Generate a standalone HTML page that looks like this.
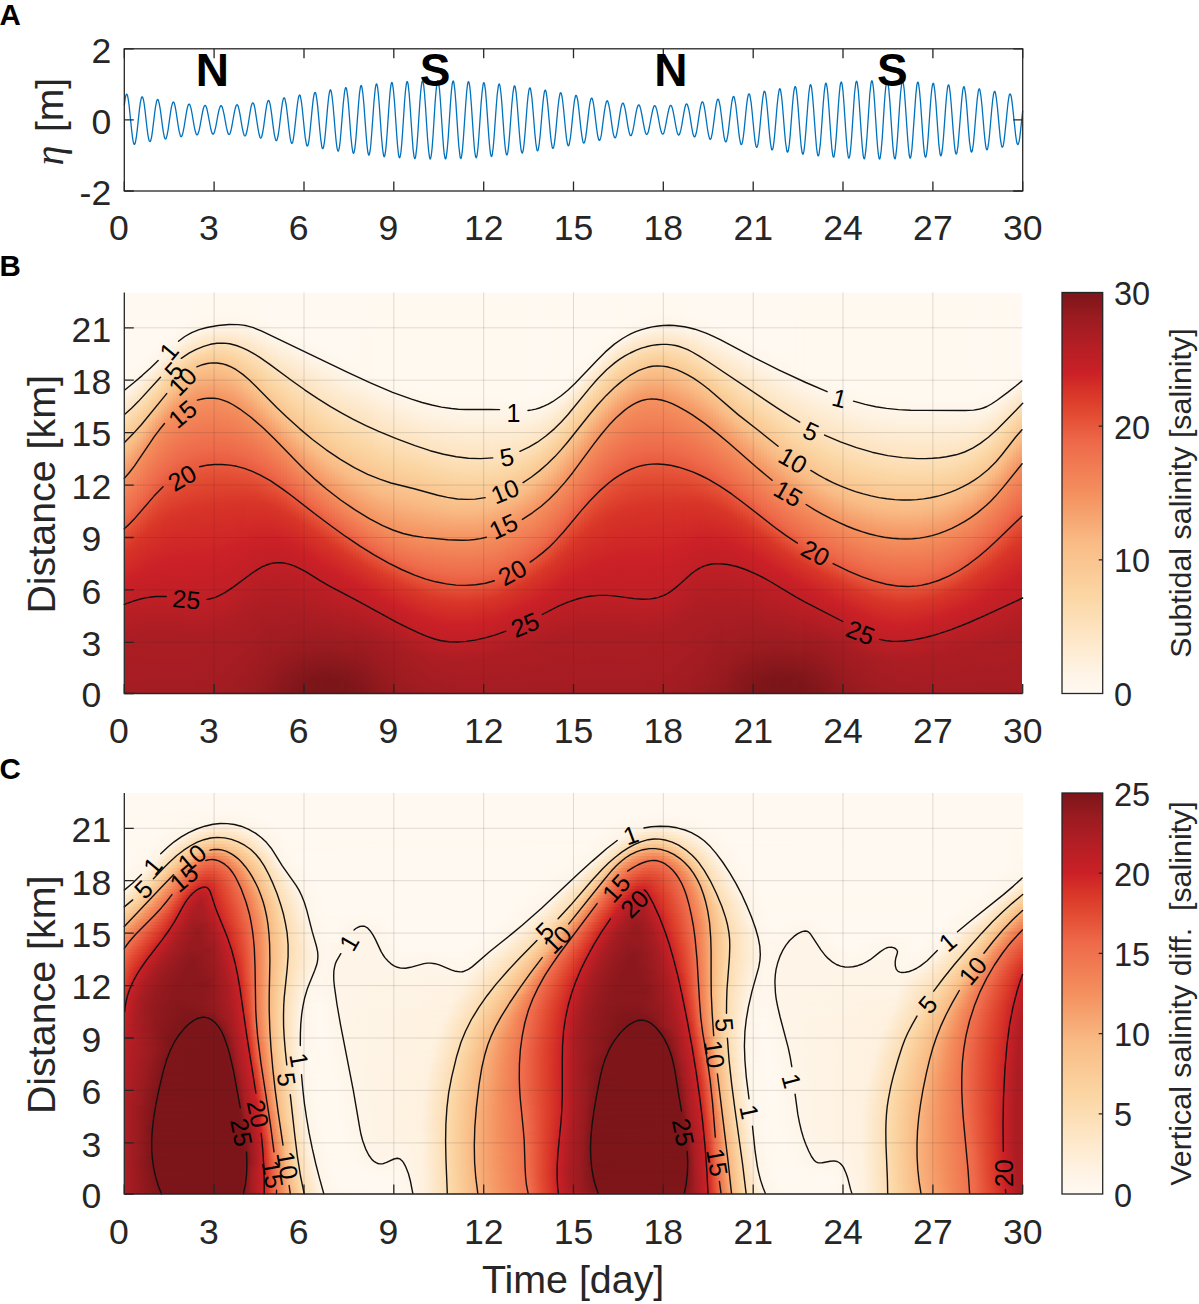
<!DOCTYPE html>
<html><head><meta charset="utf-8"><title>Figure</title>
<style>
html,body{margin:0;padding:0;background:#fff}
body{width:1199px;height:1304px;position:relative;overflow:hidden;font-family:"Liberation Sans",sans-serif}
svg{position:absolute;left:0;top:0}
svg text{font-family:"Liberation Sans",sans-serif}
.hb{position:absolute;left:125.3px;top:293.0px;width:897.4px;height:400.5px;display:flex;overflow:hidden}.hb i{flex:0 0 3px;height:100%}
.hc{position:absolute;left:125.3px;top:793.0px;width:897.4px;height:401.0px;overflow:hidden}.hc i{display:block;height:3px;width:100%}
.cb{position:absolute;left:1062.0px;width:40.7px;background:linear-gradient(#7c1519 0.00%,#9a1b20 6.00%,#b21e24 12.50%,#cb2027 20.00%,#d93628 25.00%,#e24a32 30.00%,#ee6a4a 37.50%,#f4905e 50.00%,#f9bc86 62.50%,#fbd5a2 75.00%,#fee9cc 87.50%,#fef4e6 95.00%,#fff9f1 100.00%)}
</style></head><body>
<div class="hb"><i style="background:linear-gradient(#fff9f1 0.1%,#fff9f1 19.8%,#fef6eb 23.3%,#fef3e4 24.8%,#fbd5a2 33.3%,#f9bc86 39%,#f4915f 45.5%,#ee694a 55.2%,#e24a32 60.5%,#d93628 64%,#cb2027 71.9%,#ab1d23 85.7%,#a41c22 99.9%)"></i><i style="background:linear-gradient(#fff9f1 0.1%,#fff9f1 19.3%,#fef4e6 24.1%,#fbd4a1 32.8%,#f9bc86 38.3%,#f4915f 44.8%,#ee6a4a 54.5%,#e24a32 60%,#d93728 63.2%,#cb2027 71.7%,#ac1d23 85.4%,#a41c22 99.9%)"></i><i style="background:linear-gradient(#fff9f1 0.1%,#fff9f1 18.8%,#fef6eb 22.1%,#fef3e5 23.6%,#fbd4a1 32%,#f9bd87 37.3%,#f4915f 43.8%,#ee6a4a 53.5%,#e24a32 59.2%,#d93628 62.7%,#cb2027 71.2%,#ac1d23 85.2%,#a41c22 99.9%)"></i><i style="background:linear-gradient(#fff9f1 0.1%,#fff9f1 18.1%,#fef4e5 22.8%,#fbd5a3 31%,#f9bc86 36.5%,#f4915f 42.8%,#ee6a4a 52.7%,#e24a32 58.5%,#d93728 62%,#cb2027 70.7%,#ab1d23 85.2%,#a41c22 99.9%)"></i><i style="background:linear-gradient(#fff9f1 0.1%,#fff9f1 17.6%,#fef6eb 20.8%,#fef3e4 22.3%,#fbd5a3 30.3%,#f9bd87 35.5%,#f4915f 41.8%,#ee6a4a 51.7%,#e24a32 57.7%,#d93628 61.5%,#cb2027 70.4%,#ac1d23 84.9%,#a41c22 99.9%)"></i><i style="background:linear-gradient(#fff9f1 0.1%,#fff9f1 16.8%,#fef6eb 20.1%,#fef4e5 21.6%,#fbd5a2 29.6%,#f9bc86 34.8%,#f4905e 40.8%,#ee6a4a 51%,#e24932 57%,#d93628 60.7%,#cb2027 70%,#c01f26 76.4%,#ab1d23 84.9%,#a41c22 99.9%)"></i><i style="background:linear-gradient(#fff9f1 0.1%,#fff9f1 16.1%,#fff7ec 19.1%,#fef4e5 20.8%,#fbd4a1 28.8%,#f9bc86 33.8%,#f4915f 39.5%,#ee6a4a 50%,#e24b32 56%,#d93728 60%,#cb2027 69.7%,#c01f26 76.2%,#ac1d23 84.7%,#a41c22 99.9%)"></i><i style="background:linear-gradient(#fff9f1 0.1%,#fff9f1 15.6%,#fef4e6 20.1%,#fbd5a2 27.8%,#f9bc86 32.8%,#f4905e 38.5%,#ee6a4a 49%,#e24a32 55.2%,#d93728 59.2%,#cb2027 69.2%,#bf1f26 76.2%,#ab1d23 84.7%,#a41c22 99.9%)"></i><i style="background:linear-gradient(#fff9f1 0.1%,#fff9f1 14.8%,#fef4e6 19.3%,#fbd6a3 26.8%,#f9bc86 31.8%,#f4915f 37.3%,#ee6a4a 48%,#e24a32 54.5%,#da3729 58.5%,#cb2027 69%,#c01f26 75.9%,#ab1d23 84.7%,#a41c22 99.9%)"></i><i style="background:linear-gradient(#fff9f1 0.1%,#fff9f1 14.1%,#fef4e6 18.6%,#fbd5a2 26.1%,#f9bd87 30.8%,#f4915f 36.3%,#ee6a4a 47.3%,#e24a32 53.7%,#da3829 57.7%,#cb2027 68.7%,#c01f26 75.9%,#ab1d23 84.7%,#a41c22 99.9%)"></i><i style="background:linear-gradient(#fff9f1 0.1%,#fff9f1 13.3%,#fef4e6 17.8%,#fbd6a3 25.1%,#f9bd87 29.8%,#f4905e 35.3%,#ee6a4a 46.3%,#e24a32 53%,#da3829 57%,#cb2027 68.5%,#bf1f26 75.9%,#ab1d23 84.7%,#a41c22 99.9%)"></i><i style="background:linear-gradient(#fff9f1 0.1%,#fff9f1 12.6%,#fef4e6 17.1%,#fbd5a2 24.3%,#f9bc86 29.1%,#f4915e 34.3%,#ee6a4a 45.5%,#e24a32 52.2%,#da3929 56.2%,#cb2027 68.2%,#bf1f26 75.9%,#ab1d23 84.7%,#a41c22 99.9%)"></i><i style="background:linear-gradient(#fff9f1 0.1%,#fff9f1 12.1%,#fef4e6 16.3%,#fbd4a1 23.6%,#f9bc86 28.1%,#f4915f 33.3%,#ee6a4a 44.8%,#e24b33 51.5%,#db3a2a 55.5%,#d73328 57.5%,#cb2027 68%,#bf1f26 75.9%,#ab1d23 84.7%,#a41c22 99.9%)"></i><i style="background:linear-gradient(#fff9f1 0.1%,#fff9f1 11.3%,#fef4e6 15.6%,#fbd5a3 22.6%,#f9bd87 27.1%,#f4905e 32.5%,#ee6a4a 44%,#e24932 51.2%,#d83428 56.7%,#cb2027 67.7%,#bf1f26 75.9%,#ab1d23 84.7%,#a41c22 99.9%)"></i><i style="background:linear-gradient(#fff9f1 0.1%,#fff9f1 10.6%,#fef4e6 14.8%,#fbd5a2 21.8%,#f9bc86 26.3%,#f4905e 31.8%,#ee6a4a 43.3%,#e24932 50.7%,#d83428 56.2%,#cb2027 67.5%,#c01f26 75.9%,#ab1d23 84.7%,#a41c22 99.9%)"></i><i style="background:linear-gradient(#fff9f1 0.1%,#fff9f0 10.1%,#fef6ea 13.1%,#fef3e4 14.3%,#fbd5a2 21.1%,#f9bb86 25.6%,#f4905e 31%,#ee6a4a 42.8%,#e24932 50.2%,#d83428 55.7%,#cb2027 67.5%,#c01f26 75.9%,#ab1d23 84.7%,#a41c22 99.9%)"></i><i style="background:linear-gradient(#fff9f1 0.1%,#fff9f1 9.4%,#fef6eb 12.3%,#fef4e5 13.6%,#fbd5a2 20.3%,#f9bb85 24.8%,#f4905e 30.3%,#ee6a4a 42%,#e24932 49.8%,#d83428 55.5%,#cb2027 67.2%,#c01f26 75.9%,#ab1d23 84.7%,#a41c22 99.9%)"></i><i style="background:linear-gradient(#fff9f1 0.1%,#fff9f1 8.6%,#fef4e6 12.8%,#fde3c0 16.8%,#fbd5a2 19.6%,#f9bb85 24.1%,#f4915f 29.6%,#ee6a4a 41.5%,#e24a32 49.3%,#d83428 55.2%,#cb2027 67.2%,#c01f26 76.2%,#ab1d23 84.7%,#a41c22 99.9%)"></i><i style="background:linear-gradient(#fff9f1 0.1%,#fff9f1 8.1%,#fef4e5 12.3%,#fde3bf 16.3%,#fbd4a1 19.1%,#f9bb86 23.3%,#f4915e 29.1%,#ee6a4a 41%,#e24932 49%,#d83428 55%,#cb2027 67.2%,#c01f26 76.2%,#ab1d23 84.9%,#a41c22 99.9%)"></i><i style="background:linear-gradient(#fff9f1 0.1%,#fff9f1 7.6%,#fef6eb 10.6%,#fef4e5 11.8%,#fde3bf 15.8%,#fbd5a2 18.3%,#fac691 20.6%,#f9bc86 22.6%,#f4905e 28.6%,#ee6a4a 40.8%,#e24a32 48.5%,#d83428 54.7%,#cb2027 67.2%,#c01f26 76.2%,#ab1d23 84.9%,#a41c22 99.9%)"></i><i style="background:linear-gradient(#fff9f1 0.1%,#fff9f1 7.1%,#fef4e7 11.1%,#fde3bf 15.3%,#fbd5a1 17.8%,#facd99 18.8%,#f9bc86 22.1%,#f4915f 28.1%,#ee6a4a 40.3%,#e24a32 48.3%,#d83428 54.5%,#cb2027 67.2%,#c01f26 76.4%,#ab1d23 84.9%,#a41c22 99.9%)"></i><i style="background:linear-gradient(#fff9f1 0.1%,#fff9f1 6.6%,#fef5e7 10.6%,#fde2bd 15.1%,#fbd5a2 17.3%,#facb97 18.6%,#f9bc86 21.6%,#f4905e 27.8%,#ee6a4a 40%,#e24a32 48%,#d83428 54.2%,#cb2027 67%,#c01f26 76.4%,#ab1d23 85.2%,#a41c22 99.9%)"></i><i style="background:linear-gradient(#fff9f1 0.1%,#fff9f1 6.4%,#fef4e6 10.3%,#fde2be 14.6%,#fbd5a2 16.8%,#faca96 18.3%,#f9bc86 21.1%,#f4915f 27.3%,#ee6a4a 39.8%,#e24a32 47.8%,#d83428 54%,#cb2027 67%,#c01f26 76.4%,#ab1d23 85.2%,#a41c22 99.9%)"></i><i style="background:linear-gradient(#fff9f1 0.1%,#fff9f0 6.1%,#fef4e6 10.1%,#fde1bc 14.3%,#fbd6a3 16.3%,#facb96 17.8%,#f9bb85 20.8%,#f4905e 27.1%,#ee6a4a 39.5%,#e24a32 47.5%,#d83428 54%,#cb2027 67%,#c01f26 76.7%,#ab1d23 85.2%,#a31c22 99.9%)"></i><i style="background:linear-gradient(#fff9f1 0.1%,#fff9f0 5.9%,#fef5e7 9.6%,#fde2be 13.8%,#fbd5a2 16.1%,#faca96 17.6%,#f9bb85 20.6%,#f4905e 26.8%,#ee6a4a 39.3%,#e24a32 47.3%,#d83428 53.7%,#cb2027 67%,#c01f26 76.7%,#ab1d23 85.2%,#a31c22 99.9%)"></i><i style="background:linear-gradient(#fff9f1 0.1%,#fff9f1 5.6%,#fef5e7 9.4%,#fde2bd 13.6%,#fbd5a2 15.8%,#faca96 17.3%,#f9bb85 20.3%,#f4915f 26.6%,#ee6a4a 39%,#e24a32 47.3%,#d83428 53.7%,#cb2027 67%,#c01f26 76.7%,#ab1d23 85.2%,#a31c22 99.9%)"></i><i style="background:linear-gradient(#fff9f1 0.1%,#fff9f1 5.4%,#fef4e6 9.4%,#fde2bd 13.3%,#fbd5a2 15.6%,#faca96 17.1%,#f9bb86 20.1%,#f4905e 26.6%,#ee6a4a 39%,#e24a32 47%,#d83428 53.5%,#cb2027 66.7%,#c01f26 76.4%,#ab1d23 85.2%,#a31c21 99.9%)"></i><i style="background:linear-gradient(#fff9f1 0.1%,#fff9f0 5.4%,#fef4e7 9.1%,#fde2be 13.1%,#fbd5a3 15.3%,#facb96 16.8%,#f9bc86 19.8%,#f4915f 26.3%,#ee6a4a 38.8%,#e24a32 47%,#d83428 53.5%,#cb2027 66.7%,#c01f26 76.4%,#ab1d23 85.2%,#a31c21 99.9%)"></i><i style="background:linear-gradient(#fff9f1 0.1%,#fff9f0 5.1%,#fef5e7 8.9%,#fde4c1 12.6%,#fbd4a1 15.3%,#faca96 16.8%,#f9bc86 19.8%,#f4915f 26.3%,#ee6a4a 38.8%,#e24a32 46.8%,#d83428 53.2%,#cb2027 66.7%,#c01f26 76.2%,#ab1d23 84.9%,#a31c21 99.9%)"></i><i style="background:linear-gradient(#fff9f1 0.1%,#fff9f0 5.1%,#fef4e6 8.9%,#fbd5a3 15.1%,#facd99 16.3%,#f9bc86 19.8%,#f4915f 26.3%,#ee6a4a 38.8%,#e24a32 46.8%,#d83428 53.2%,#cb2027 66.5%,#bf1f26 76.2%,#ab1d23 84.9%,#a21c21 99.9%)"></i><i style="background:linear-gradient(#fff9f1 0.1%,#fff9f0 4.9%,#fef5e7 8.6%,#fbd4a0 15.3%,#fac590 17.6%,#f9bc86 19.8%,#f4905e 26.6%,#ee6a4a 38.8%,#e24a32 46.8%,#d83428 53%,#cb2027 66.2%,#bf1f26 75.9%,#ab1d23 84.7%,#a21c21 99.9%)"></i><i style="background:linear-gradient(#fff9f1 0.1%,#fff9f0 4.9%,#fef4e7 8.6%,#fbd4a1 15.3%,#fac591 17.6%,#f9bb85 20.1%,#f4915f 26.6%,#ee6a4a 38.8%,#e24a32 46.8%,#d83428 53%,#cb2027 66%,#c01f26 75.4%,#ab1d23 84.4%,#a21c21 99.9%)"></i><i style="background:linear-gradient(#fff9f1 0.1%,#fff9f1 4.6%,#fef5e8 8.4%,#fbd4a1 15.3%,#fac590 17.8%,#f9bc86 20.1%,#f4915f 26.8%,#ee6a4a 38.8%,#e24932 46.8%,#d83428 53%,#cb2027 65.7%,#bf1f26 75.2%,#ab1d23 84.2%,#a11c21 99.9%)"></i><i style="background:linear-gradient(#fff9f1 0.1%,#fff9f0 4.6%,#fef5e7 8.4%,#fbd5a2 15.3%,#fac590 18.1%,#f9bc86 20.3%,#f4915f 27.1%,#ee6a4a 39%,#e24932 46.8%,#d83428 52.7%,#cb2027 65.5%,#c01f26 74.7%,#ab1d23 83.9%,#a11c21 99.9%)"></i><i style="background:linear-gradient(#fff9f1 0.1%,#fff9f0 4.6%,#fef5e7 8.4%,#fbd5a2 15.6%,#fac590 18.3%,#f9bc86 20.6%,#f4905e 27.6%,#ee6a4a 39%,#e24932 46.8%,#d83428 52.7%,#cb2027 65.2%,#c01f26 74.2%,#ab1d23 83.7%,#a01c21 99.9%)"></i><i style="background:linear-gradient(#fff9f1 0.1%,#fff9f0 4.6%,#fef4e7 8.4%,#fbd5a2 15.8%,#fac590 18.6%,#f9bb85 21.1%,#f4915f 27.8%,#ee6a4a 39.3%,#e24a32 46.8%,#d83528 52.5%,#cb2027 64.7%,#c01f26 73.7%,#ab1d23 83.2%,#a01c21 99.9%)"></i><i style="background:linear-gradient(#fff9f1 0.1%,#fff9f0 4.6%,#fef5e7 8.4%,#fbd5a2 16.1%,#fac691 18.8%,#f9bc86 21.3%,#f4905e 28.3%,#ee6a4a 39.5%,#e24a32 46.8%,#d83428 52.5%,#cb2027 64.5%,#c01f26 73.2%,#ab1d23 82.9%,#9f1c21 99.9%)"></i><i style="background:linear-gradient(#fff9f1 0.1%,#fff9f0 4.6%,#fef4e6 8.6%,#fbd4a1 16.6%,#f9bc86 21.8%,#f4905e 28.8%,#ee6a4a 39.8%,#e24932 47%,#d83428 52.5%,#cb2027 64.2%,#c01f26 72.7%,#ab1d23 82.4%,#9e1c21 99.9%)"></i><i style="background:linear-gradient(#fff9f1 0.1%,#fff9f1 4.6%,#fef6ea 7.9%,#fef4e5 8.9%,#fee9cc 11.8%,#fbd5a2 16.8%,#f9bc86 22.3%,#f4905e 29.3%,#ee6a4a 40%,#e24a32 47%,#d83428 52.5%,#cb2027 63.7%,#bf1f26 72.2%,#aa1d23 82.2%,#9e1b21 99.9%)"></i><i style="background:linear-gradient(#fff9f1 0.1%,#fff9f0 4.9%,#fef4e6 8.9%,#fbd5a2 17.3%,#f9bb85 23.1%,#f4905e 29.8%,#ee6a4a 40.3%,#e24a32 47%,#dc3d2b 50.2%,#d73328 52.7%,#cb2027 63.5%,#bf1f26 71.7%,#ab1d23 81.7%,#9d1b20 99.9%)"></i><i style="background:linear-gradient(#fff9f1 0.1%,#fff9f1 4.9%,#fef5e9 8.4%,#fde1bc 14.6%,#fbd5a2 17.8%,#f9bc86 23.6%,#f4915f 30.3%,#ee6a4a 40.5%,#e24b33 47%,#da3829 51.2%,#cb2027 63.2%,#bf1f26 71.2%,#aa1d23 81.4%,#9c1b20 99.9%)"></i><i style="background:linear-gradient(#fff9f1 0.1%,#fff9f0 5.1%,#fef4e7 9.1%,#fbd6a4 18.1%,#f9bb85 24.3%,#f4905e 31%,#ee6a4a 41%,#e24a32 47.3%,#da3829 51.5%,#cb2027 62.7%,#bf1f26 70.7%,#ab1d23 80.9%,#9b1b20 99.9%)"></i><i style="background:linear-gradient(#fff9f1 0.1%,#fff9f0 5.4%,#fef4e7 9.4%,#fbd5a2 18.8%,#f9bc86 24.8%,#f4905e 31.5%,#ee6a4a 41.3%,#e24a32 47.5%,#d93728 51.7%,#cb2027 62.5%,#aa1d23 80.7%,#9a1b20 99.9%)"></i><i style="background:linear-gradient(#fff9f1 0.1%,#fff9f0 5.6%,#fef4e7 9.6%,#fbd5a3 19.3%,#f9bc86 25.6%,#f4905e 32.3%,#ee6a4a 41.8%,#e24a32 47.8%,#da3729 51.7%,#cb2027 62.2%,#ab1d23 80.2%,#991b20 99.9%)"></i><i style="background:linear-gradient(#fff9f1 0.1%,#fff9f0 5.9%,#fef5e7 9.9%,#fbd5a2 20.1%,#f9bc86 26.3%,#f4915f 32.8%,#ee6a4a 42.3%,#e24a32 48%,#d93728 52%,#cb2027 62%,#ab1d23 79.9%,#971a1f 99.9%)"></i><i style="background:linear-gradient(#fff9f1 0.1%,#fff9f1 6.1%,#fef5e8 10.1%,#fbd4a1 20.8%,#f9bc86 27.1%,#f4905e 33.5%,#ee694a 42.8%,#e24b32 48.3%,#d93728 52.2%,#cb2027 62%,#aa1d23 79.7%,#951a1f 99.9%)"></i><i style="background:linear-gradient(#fff9f1 0.1%,#fff9f1 6.4%,#fef5e8 10.3%,#fbd5a2 21.3%,#f9bc86 27.8%,#f4905e 34.3%,#ee6949 43.3%,#e24a32 48.8%,#d93628 52.5%,#cb2027 61.7%,#aa1d23 79.4%,#941a1f 99.9%)"></i><i style="background:linear-gradient(#fff9f1 0.1%,#fff9f1 6.9%,#fef5e8 10.8%,#fbd5a2 22.1%,#f9bc86 28.6%,#f4905e 35%,#ee6949 43.8%,#e24a32 49%,#d93628 52.7%,#cb2027 61.7%,#ab1d23 79.2%,#92191e 99.9%)"></i><i style="background:linear-gradient(#fff9f1 0.1%,#fff9f1 7.1%,#fef5e8 11.1%,#fbd5a2 22.6%,#fac995 25.8%,#f9bc86 29.3%,#f48f5e 35.8%,#ee694a 44.3%,#e24a32 49.5%,#d93628 53%,#cb2027 61.7%,#ab1d23 78.9%,#90191e 99.9%)"></i><i style="background:linear-gradient(#fff9f1 0.1%,#fff9f1 7.4%,#fef5e8 11.6%,#fbd5a2 23.3%,#fac692 27.3%,#f9bc86 30%,#f48f5e 36.5%,#ee6a4a 44.8%,#e24a32 49.8%,#d93728 53.2%,#cb2027 61.7%,#aa1d23 78.9%,#a31c21 86.4%,#8e191d 99.9%)"></i><i style="background:linear-gradient(#fff9f1 0.1%,#fff9f1 7.9%,#fef5e8 11.8%,#fbd5a3 23.8%,#fac691 28.3%,#f9bc86 30.8%,#f48f5e 37.3%,#ee6a4a 45.3%,#e24a32 50.2%,#d93728 53.5%,#cb2027 61.7%,#ab1d23 78.7%,#a21c21 86.4%,#8c181d 99.9%)"></i><i style="background:linear-gradient(#fff9f1 0.1%,#fff9f1 8.1%,#fef5e8 12.3%,#fbd5a2 24.6%,#fac591 29.1%,#f9bc86 31.5%,#f48f5e 38%,#ee6a4a 45.8%,#e24a32 50.7%,#d93628 54%,#cb2027 62%,#ab1d23 78.7%,#a11c21 86.7%,#8f191d 96.1%,#8a181c 99.9%)"></i><i style="background:linear-gradient(#fff9f1 0.1%,#fff9f1 8.4%,#fef5e8 12.6%,#fbd5a3 25.1%,#fac590 29.8%,#f9bc86 32.3%,#f4905e 38.8%,#ee6a4a 46.5%,#e24a32 51.2%,#d93628 54.5%,#cb2027 62.2%,#ab1d23 78.7%,#a11c21 86.7%,#8d181d 96.1%,#88171c 99.9%)"></i><i style="background:linear-gradient(#fff9f1 0.1%,#fff9f1 8.9%,#fef5e8 12.8%,#fbd5a2 25.8%,#fac590 30.5%,#f9bc86 33%,#f4905e 39.5%,#ee6a4a 47%,#e24932 51.7%,#d93728 54.7%,#cb2027 62.5%,#ab1d23 78.7%,#a11c21 86.7%,#8c181d 95.9%,#86171b 99.9%)"></i><i style="background:linear-gradient(#fff9f1 0.1%,#fff9f1 9.1%,#fef5e8 13.3%,#fbd5a2 26.6%,#fac590 31.3%,#f9bb85 33.8%,#f4905e 40.3%,#ee6949 47.8%,#e24a32 52.2%,#d93728 55.2%,#cb2027 62.7%,#aa1d23 78.9%,#9e1c21 87.7%,#8a181c 95.9%,#85171b 99.9%)"></i><i style="background:linear-gradient(#fff9f1 0.1%,#fff9f1 9.4%,#fef5e8 13.6%,#fbd5a2 27.1%,#fac590 32%,#f9bb85 34.5%,#f4905e 41%,#ee6a4a 48.3%,#e24a32 52.7%,#d93628 55.7%,#cb2027 63%,#aa1d23 79.2%,#9e1c21 87.4%,#88171c 95.9%,#83161b 99.9%)"></i><i style="background:linear-gradient(#fff9f1 0.1%,#fff9f1 9.9%,#fef5e9 13.8%,#fbd5a2 27.8%,#fac590 32.8%,#f9bc86 35%,#f4905e 41.8%,#ee6b4a 48.8%,#e24a32 53.2%,#d93628 56.2%,#cb2027 63.5%,#aa1d23 79.2%,#9e1b21 87.4%,#87171c 95.6%,#81161a 99.9%)"></i><i style="background:linear-gradient(#fff9f1 0.1%,#fff9f1 10.1%,#fef5e8 14.3%,#fbd5a2 28.3%,#fac48f 33.5%,#f9bc86 35.8%,#f4905e 42.5%,#ee6a4a 49.5%,#e24a32 53.7%,#d93628 56.7%,#cb2027 63.7%,#aa1d23 79.4%,#9d1b21 87.4%,#86171b 95.6%,#7f161a 99.9%)"></i><i style="background:linear-gradient(#fff9f1 0.1%,#fff9f1 10.6%,#fef5e9 14.6%,#fbd5a3 28.8%,#fac48f 34.3%,#f9bc86 36.5%,#f4905e 43.3%,#ee6b4a 50%,#e24b33 54.2%,#d93728 57.2%,#cb2027 64.2%,#aa1d23 79.7%,#9d1b20 87.4%,#84171b 95.6%,#7d1519 99.9%)"></i><i style="background:linear-gradient(#fff9f1 0.1%,#fff9f1 10.8%,#fef5e8 15.1%,#fbd5a2 29.6%,#fac48f 34.8%,#f9bb85 37.3%,#f4905e 44%,#ee6a4a 50.7%,#e24a32 55%,#d93728 57.7%,#cb2027 64.7%,#a91d23 79.9%,#9d1b20 87.4%,#83161b 95.6%,#7c1519 99.9%)"></i><i style="background:linear-gradient(#fff9f1 0.1%,#fff9f1 11.1%,#fef5e9 15.3%,#fbd5a2 30%,#fac48f 35.5%,#f9bc86 37.8%,#f48f5e 44.8%,#ee6b4a 51.2%,#e24a32 55.5%,#d93729 58.2%,#cb2027 65.2%,#9b1b20 87.9%,#7f161a 96.6%,#7c1519 99.9%)"></i><i style="background:linear-gradient(#fff9f1 0.1%,#fff9f1 11.6%,#fef5e9 15.6%,#fbd5a2 30.5%,#fac48f 36%,#f9bb85 38.5%,#f4915f 45.3%,#ee6a4a 52%,#e24b32 56%,#d93628 59%,#cb2027 65.7%,#9a1b20 88.2%,#7e1519 96.6%,#7c1519 99.9%)"></i><i style="background:linear-gradient(#fff9f1 0.1%,#fff9f1 11.8%,#fef5e9 16.1%,#fbd5a3 31%,#fac48f 36.8%,#f9bc86 39%,#f4905e 46%,#ee6b4a 52.5%,#e24b33 56.5%,#d93628 59.5%,#cb2027 66.2%,#9a1b20 88.2%,#7d1519 96.6%,#7c1519 99.9%)"></i><i style="background:linear-gradient(#fff9f1 0.1%,#fff9f1 12.1%,#fef5e9 16.3%,#fbd5a2 31.8%,#fac48f 37.3%,#f9bb85 39.8%,#f4905e 46.8%,#ee6a4a 53.2%,#e24a32 57.2%,#d93628 60%,#cb2027 66.7%,#9a1b20 87.9%,#7c1519 96.6%,#7c1519 99.9%)"></i><i style="background:linear-gradient(#fff9f1 0.1%,#fff9f1 12.6%,#fef5e9 16.6%,#fde3bf 26.3%,#fbd5a2 32.3%,#fac490 37.8%,#f9bc86 40.3%,#f4915f 47.3%,#ee6a4a 53.7%,#e24a32 57.7%,#d93728 60.5%,#cb2027 67.2%,#9a1b20 87.9%,#7c1519 96.4%,#7c1519 99.9%)"></i><i style="background:linear-gradient(#fff9f1 0.1%,#fff9f1 12.8%,#fef6e9 16.8%,#fde3c0 26.6%,#fbd5a2 32.8%,#fac590 38.3%,#f9bc86 40.8%,#f4905e 48%,#ee6b4a 54.2%,#e24b32 58.2%,#d93728 61%,#cb2027 67.7%,#9a1b20 87.9%,#7d1519 96.1%,#7c1519 99.9%)"></i><i style="background:linear-gradient(#fff9f1 0.1%,#fff9f1 13.3%,#fef5e9 17.3%,#fde3bf 27.3%,#fbd5a2 33.3%,#fac48f 39%,#f9bb85 41.5%,#f48f5e 48.8%,#ee6a4a 55%,#e24b33 58.7%,#d93628 61.7%,#cb2027 68.2%,#9a1b20 87.9%,#7c1519 96.1%,#7c1519 99.9%)"></i><i style="background:linear-gradient(#fff9f1 0.1%,#fff9f1 13.6%,#fef6e9 17.6%,#fde3c0 27.6%,#fbd5a2 33.8%,#fac48f 39.5%,#f9bc86 42%,#f4905e 49.3%,#ee6a4a 55.5%,#e24932 59.5%,#d93628 62.2%,#cb2027 68.5%,#9a1b20 87.9%,#7c1519 96.1%,#7c1519 99.9%)"></i><i style="background:linear-gradient(#fff9f1 0.1%,#fff9f1 13.8%,#fef6ea 17.8%,#fde3c0 28.1%,#fbd5a2 34.3%,#fac48f 40%,#f9bc86 42.5%,#f4905e 49.8%,#ee6b4a 56%,#e24a32 60%,#d93628 62.7%,#cb2027 69%,#9a1b20 87.9%,#7c1519 96.1%,#7c1519 99.9%)"></i><i style="background:linear-gradient(#fff9f1 0.1%,#fff9f1 14.3%,#fef6e9 18.3%,#fde3c0 28.6%,#fbd5a2 34.8%,#fac48f 40.5%,#f9bc86 43%,#f48f5e 50.5%,#ee6b4b 56.5%,#e24a32 60.5%,#d93628 63.2%,#cb2027 69.5%,#9a1b20 88.2%,#7c1519 96.4%,#7c1519 99.9%)"></i><i style="background:linear-gradient(#fff9f1 0.1%,#fff9f1 14.6%,#fef6ea 18.6%,#fde3bf 29.1%,#fbd5a2 35.3%,#fac48f 41%,#f9bc86 43.5%,#f4905e 51%,#ee6a4a 57.2%,#e24a32 61%,#d93628 63.7%,#cb2027 70%,#9a1b20 88.2%,#7c1519 96.4%,#7c1519 99.9%)"></i><i style="background:linear-gradient(#fff9f1 0.1%,#fff9f1 15.1%,#fef6ea 18.8%,#fde2bd 30%,#fbd5a2 35.8%,#fac590 41.3%,#f9bc86 44%,#f4905e 51.5%,#ee6a4a 57.7%,#e24a32 61.5%,#d93628 64.2%,#cb2027 70.2%,#9a1b20 88.2%,#7d1519 96.4%,#7c1519 99.9%)"></i><i style="background:linear-gradient(#fff9f1 0.1%,#fff9f1 15.3%,#fef6ea 19.1%,#fef4e5 20.8%,#fde2bc 30.5%,#fbd5a2 36%,#fac590 41.8%,#f9bc86 44.5%,#f4915e 52%,#ee6a4a 58.2%,#e24a32 62%,#d93628 64.7%,#cb2027 70.7%,#9a1b20 88.4%,#7f161a 96.1%,#7c1519 99.9%)"></i><i style="background:linear-gradient(#fff9f1 0.1%,#fff9f1 15.6%,#fef6ea 19.6%,#fde3bf 30.3%,#fbd5a2 36.5%,#fac590 42.3%,#f9bc86 45%,#f4915f 52.5%,#ee6a4a 58.7%,#e24b32 62.5%,#d93628 65.2%,#cb2027 71.2%,#9a1b20 88.7%,#80161a 95.9%,#7c1519 97.6%,#7c1519 99.9%)"></i><i style="background:linear-gradient(#fff9f1 0.1%,#fff9f1 15.8%,#fef6eb 19.3%,#fef4e5 21.6%,#fbd5a2 37%,#f9bc86 45.5%,#f48f5e 53.2%,#ee6b4a 59.2%,#e24b32 63%,#da3729 65.5%,#cb2027 71.4%,#9a1b20 88.7%,#82161a 95.6%,#7c1519 99.9%)"></i><i style="background:linear-gradient(#fff9f1 0.1%,#fff9f1 16.3%,#fff7ec 19.3%,#fef4e6 21.8%,#fbd5a2 37.3%,#f9bb85 46%,#f48f5e 53.7%,#ee6b4a 59.7%,#e24b32 63.5%,#d93729 66%,#cb2027 71.9%,#a41c22 84.7%,#9a1b20 88.9%,#84171b 95.4%,#7c1519 99.9%)"></i><i style="background:linear-gradient(#fff9f1 0.1%,#fff9f1 16.6%,#fff7ed 19.1%,#fef4e5 22.3%,#fbd5a2 37.8%,#f9bc86 46.3%,#f48f5e 54.2%,#ee6b4a 60.2%,#e24a32 64%,#d93728 66.5%,#cb2027 72.2%,#86171b 95.4%,#7d1519 99.9%)"></i><i style="background:linear-gradient(#fff9f1 0.1%,#fff9f1 16.8%,#fff8ee 18.8%,#fef4e6 22.6%,#fbd5a3 38%,#f9bc86 46.8%,#f4915f 54.5%,#ee6b4a 60.7%,#e24a32 64.5%,#d93728 67%,#cb2027 72.7%,#88171c 95.1%,#7f161a 99.9%)"></i><i style="background:linear-gradient(#fff9f1 0.1%,#fff8ef 19.1%,#fef4e6 22.8%,#fbd5a2 38.5%,#f9bb86 47.3%,#f4915e 55%,#ee6b4a 61.2%,#e24a32 65%,#d93628 67.5%,#cb2027 73.2%,#a41c22 85.4%,#87171c 95.9%,#81161a 99.9%)"></i><i style="background:linear-gradient(#fff9f1 0.1%,#fff8ef 19.3%,#fef4e5 23.3%,#fbd5a3 38.8%,#f9bc86 47.5%,#f4905e 55.5%,#ee6a4a 61.7%,#e24a32 65.5%,#d93628 68%,#cb2027 73.7%,#a31c22 85.9%,#88171c 96.1%,#83161b 99.9%)"></i><i style="background:linear-gradient(#fff9f1 0.1%,#fff8ef 19.6%,#fef4e6 23.6%,#fbd5a2 39.3%,#f9bc86 48%,#f4905e 56%,#ee6a4a 62.2%,#e24a32 66%,#da3729 68.2%,#cb2027 73.9%,#a41c22 86.2%,#8a181c 96.1%,#84171b 99.9%)"></i><i style="background:linear-gradient(#fff9f1 0.1%,#fff8ef 19.8%,#fef4e5 24.1%,#fbd5a2 39.5%,#f9bc86 48.3%,#f4905e 56.5%,#ee6a4a 62.7%,#e24932 66.5%,#da3729 68.7%,#cb2027 74.4%,#a41c22 86.4%,#8c181d 96.1%,#86171b 99.9%)"></i><i style="background:linear-gradient(#fff9f1 0.1%,#fff8ef 20.1%,#fef4e6 24.3%,#fbd5a3 39.8%,#f9bb85 48.8%,#f4915e 56.7%,#ee6b4b 63%,#e24b33 66.7%,#d93728 69.2%,#cb2027 74.9%,#a41c22 86.7%,#8e191d 96.1%,#88171c 99.9%)"></i><i style="background:linear-gradient(#fff9f1 0.1%,#fff9f0 20.1%,#fef4e6 24.6%,#fddfb7 35.8%,#fbd5a2 40.3%,#f9bc86 49%,#f4905e 57.2%,#ee6b4a 63.5%,#e24a32 67.2%,#d93628 69.7%,#cb2027 75.2%,#a41c22 86.9%,#8a181c 99.9%)"></i><i style="background:linear-gradient(#fff9f1 0.1%,#fff9f0 20.3%,#fef4e6 24.8%,#fde0ba 35.5%,#fbd5a2 40.5%,#f9bc86 49.3%,#f48f5e 57.7%,#ee6a4a 64%,#e24a32 67.7%,#d93628 70.2%,#cb2027 75.7%,#a41c22 87.2%,#8c181d 99.9%)"></i><i style="background:linear-gradient(#fff9f1 0.1%,#fff9f0 20.6%,#fef4e5 25.3%,#fde0b9 36%,#fbd5a2 41%,#f9bb85 49.8%,#f4905e 58%,#ee6b4b 64.2%,#e24932 68.2%,#da3929 70.2%,#cb2127 75.9%,#a41c22 87.4%,#8e191d 99.9%)"></i><i style="background:linear-gradient(#fff9f1 0.1%,#fff9f0 20.8%,#fef4e6 25.6%,#fde1ba 36%,#fbd5a2 41.3%,#f9bb85 50%,#f4915f 58.2%,#ee6b4a 64.7%,#e24b33 68.5%,#da3829 70.7%,#cb2027 76.4%,#a51c22 87.7%,#90191e 99.9%)"></i><i style="background:linear-gradient(#fff9f1 0.1%,#fff9f0 21.3%,#fef4e6 25.8%,#fde1bb 36.3%,#fbd5a2 41.5%,#f9bb85 50.2%,#f4905e 58.7%,#ee6a4a 65.2%,#e24a32 69%,#da3729 71.2%,#cb2127 76.7%,#a51c22 87.9%,#92191e 99.9%)"></i><i style="background:linear-gradient(#fff9f1 0.1%,#fff9f0 21.6%,#fef4e6 26.1%,#fde1bb 36.5%,#fbd5a2 41.8%,#f9bb85 50.5%,#f4905e 59%,#ee6b4a 65.5%,#e24931 69.5%,#da3929 71.4%,#cb2027 77.2%,#a51c22 88.2%,#941a1f 99.9%)"></i><i style="background:linear-gradient(#fff9f1 0.1%,#fff9f0 21.8%,#fef4e6 26.3%,#fde1bb 36.8%,#fbd5a2 42%,#f9bb85 50.7%,#f4905e 59.2%,#ee6a4a 66%,#e24a32 69.7%,#da3829 71.9%,#cb2027 77.7%,#a61c22 88.4%,#951a1f 99.9%)"></i><i style="background:linear-gradient(#fff9f1 0.1%,#fff9f0 22.1%,#fef4e6 26.8%,#fde2bd 36.8%,#fbd5a2 42.3%,#f9bb85 51%,#f4905e 59.5%,#ee6a4a 66.2%,#e24932 70.2%,#da3929 72.2%,#cb2027 77.9%,#a61c22 88.9%,#971a1f 99.9%)"></i><i style="background:linear-gradient(#fff9f1 0.1%,#fff9f0 22.3%,#fef4e6 27.1%,#fde2bd 37%,#fbd5a2 42.5%,#f9bc86 51%,#f4905e 59.7%,#ee6b4a 66.5%,#e24a32 70.4%,#da3829 72.7%,#cb2027 78.4%,#a61c22 89.2%,#991b20 99.9%)"></i><i style="background:linear-gradient(#fff9f1 0.1%,#fff9f0 22.6%,#fef4e6 27.3%,#fde2bd 37.3%,#fbd5a2 42.8%,#f9bc86 51.2%,#f4905e 60%,#ee6a4a 67%,#e24b33 70.7%,#da3829 72.9%,#cb2027 78.7%,#a61d22 89.4%,#9a1b20 99.9%)"></i><i style="background:linear-gradient(#fff9f1 0.1%,#fff9f0 22.8%,#fef4e6 27.6%,#fde2bd 37.5%,#fbd5a2 43%,#f9bb86 51.5%,#f4905e 60.2%,#ee6a4a 67.2%,#e24a32 71.2%,#da3729 73.4%,#cb2027 79.2%,#a71d22 89.4%,#9b1b20 99.9%)"></i><i style="background:linear-gradient(#fff9f1 0.1%,#fff9f0 23.1%,#fef4e6 27.8%,#fde2bd 37.8%,#fbd5a2 43.3%,#f9bb85 51.7%,#f4905e 60.5%,#ee6a4a 67.5%,#e24a32 71.4%,#da3829 73.7%,#cb2027 79.4%,#be1f25 83.9%,#a71d22 89.7%,#9c1b20 99.9%)"></i><i style="background:linear-gradient(#fff9f1 0.1%,#fff9f0 23.3%,#fef4e6 28.1%,#fde2bd 38%,#fbd5a1 43.5%,#f9bc86 51.7%,#f4915f 60.5%,#ee6a4a 67.7%,#e24b33 71.7%,#d93728 74.2%,#cb2127 79.7%,#be1f25 84.2%,#a81d22 89.9%,#9d1b20 99.9%)"></i><i style="background:linear-gradient(#fff9f1 0.1%,#fff9f0 23.6%,#fef4e6 28.3%,#fde2bd 38.3%,#fbd5a2 43.5%,#f9bc86 52%,#f4905e 60.7%,#ee6b4a 68%,#e24932 72.2%,#da3729 74.4%,#cb2027 80.2%,#be1f25 84.7%,#a81d22 90.1%,#9e1b21 99.9%)"></i><i style="background:linear-gradient(#fff9f1 0.1%,#fff9f0 23.8%,#fef4e6 28.6%,#fde2bd 38.5%,#fbd5a2 43.8%,#f9bb85 52.2%,#f4915f 60.7%,#ee6a4a 68.2%,#e24a32 72.4%,#da3729 74.7%,#cb2027 80.4%,#be1f25 84.9%,#a81d22 90.4%,#9f1c21 99.9%)"></i><i style="background:linear-gradient(#fff9f1 0.1%,#fff9f0 24.1%,#fef4e6 28.8%,#fde2bd 38.8%,#fbd5a2 44%,#f9bc86 52.2%,#f4905e 61%,#ee6a4a 68.5%,#e24a32 72.7%,#da3829 74.9%,#cb2127 80.7%,#be1f25 85.2%,#a91d22 90.6%,#9f1c21 99.9%)"></i><i style="background:linear-gradient(#fff9f1 0.1%,#fff9f0 24.3%,#fef4e6 29.1%,#fde2bd 39%,#fbd5a2 44.3%,#f9bc86 52.5%,#f4905e 61%,#ee6a4a 68.7%,#e24a32 72.9%,#da3829 75.2%,#cb2027 81.2%,#bf1f26 85.4%,#a91d22 90.9%,#a01c21 99.9%)"></i><i style="background:linear-gradient(#fff9f1 0.1%,#fff9f1 24.3%,#fef4e6 29.3%,#fde2bd 39.3%,#fbd5a2 44.5%,#f9bc86 52.7%,#f4905e 61.2%,#ee6a4a 69%,#e24a32 73.2%,#da3829 75.4%,#cb2027 81.4%,#be1f25 85.9%,#a91d23 90.9%,#a01c21 99.9%)"></i><i style="background:linear-gradient(#fff9f1 0.1%,#fff9f0 24.6%,#fef4e6 29.3%,#fde2bd 39.5%,#fbd5a2 44.8%,#f9bb85 53%,#f4905e 61.2%,#ee694a 69.2%,#e24a32 73.4%,#da3829 75.7%,#cb2027 81.7%,#be1f25 86.2%,#aa1d23 91.1%,#a11c21 99.9%)"></i><i style="background:linear-gradient(#fff9f1 0.1%,#fff9f0 24.8%,#fef4e6 29.6%,#fde2bd 39.8%,#fbd5a2 45%,#f9bc86 53%,#f4905e 61.2%,#ee6a4a 69.2%,#e24932 73.7%,#da3829 75.9%,#cb2027 81.9%,#be1f25 86.4%,#aa1d23 91.4%,#a11c21 99.9%)"></i><i style="background:linear-gradient(#fff9f1 0.1%,#fff9f0 25.1%,#fef4e6 29.8%,#fde2bd 40%,#fbd5a2 45.3%,#f9bc86 53.2%,#f4905e 61.5%,#ee6a4a 69.5%,#e14931 73.9%,#da3729 76.2%,#cb2027 82.2%,#be1f25 86.7%,#aa1d23 91.4%,#a21c21 99.9%)"></i><i style="background:linear-gradient(#fff9f1 0.1%,#fff9f0 25.1%,#fef4e6 29.8%,#fde2be 40%,#fbd5a2 45.3%,#f9bb85 53.5%,#f4905e 61.5%,#ee6949 69.7%,#e24a32 73.9%,#d93728 76.4%,#cb2027 82.4%,#bf1f26 86.7%,#aa1d23 91.6%,#a21c21 99.9%)"></i><i style="background:linear-gradient(#fff9f1 0.1%,#fff9f0 25.3%,#fef4e6 30%,#fde2be 40.3%,#fbd5a2 45.5%,#f9bc86 53.5%,#f4905e 61.5%,#ee6a4a 69.7%,#e24a32 74.2%,#d93628 76.7%,#cb2027 82.7%,#bf1f26 86.9%,#ab1d23 91.6%,#a21c21 99.9%)"></i><i style="background:linear-gradient(#fff9f1 0.1%,#fff9f0 25.3%,#fef4e5 30.3%,#fde2bd 40.5%,#fbd5a2 45.8%,#f9bb85 53.7%,#f4915f 61.5%,#ee694a 70%,#e7573c 72.7%,#d93729 76.7%,#cb2027 82.7%,#bf1f26 86.9%,#aa1d23 91.9%,#a31c21 99.9%)"></i><i style="background:linear-gradient(#fff9f1 0.1%,#fff9f0 25.6%,#fef4e6 30.3%,#fde2bd 40.8%,#fbd5a2 45.8%,#f9bc86 53.7%,#f4905e 61.7%,#ee6a4a 70%,#e24a32 74.4%,#d93628 76.9%,#cb2027 82.9%,#bf1f26 87.2%,#ab1d23 91.9%,#a31c21 99.9%)"></i><i style="background:linear-gradient(#fff9f1 0.1%,#fff9f0 25.6%,#fef4e6 30.3%,#fde2be 40.8%,#fbd5a2 46%,#f9bb85 54%,#f4905e 61.7%,#ee6949 70.2%,#e8593d 72.7%,#e24a32 74.4%,#d93728 76.9%,#cb2027 82.9%,#bf1f26 87.2%,#ab1d23 91.9%,#a31c22 99.9%)"></i><i style="background:linear-gradient(#fff9f1 0.1%,#fff9f1 25.6%,#fef4e6 30.5%,#fde2bd 41%,#fbd5a2 46.3%,#f9bc86 54%,#f4905e 61.7%,#ee694a 70.2%,#e7583c 72.9%,#da3729 76.9%,#cb2027 82.9%,#bf1f26 87.2%,#ab1d23 91.9%,#a31c22 99.9%)"></i><i style="background:linear-gradient(#fff9f1 0.1%,#fff9f0 25.8%,#fef4e6 30.5%,#fde2be 41%,#fbd5a2 46.3%,#f9bc86 54%,#f4905e 61.7%,#ee6a4a 70.2%,#e7583c 72.9%,#e24932 74.7%,#d93628 77.2%,#cb2027 82.9%,#bf1f26 87.2%,#ab1d23 91.9%,#a41c22 99.9%)"></i><i style="background:linear-gradient(#fff9f1 0.1%,#fff9f0 25.8%,#fef4e6 30.5%,#fde2bd 41.3%,#fbd5a2 46.3%,#f9bb85 54.2%,#f4905e 61.7%,#ee6a4a 70.2%,#e7583d 72.9%,#e24a32 74.7%,#d93628 77.2%,#cb2027 82.9%,#bf1f26 87.2%,#ab1d23 91.9%,#a41c22 99.9%)"></i><i style="background:linear-gradient(#fff9f1 0.1%,#fff9f0 25.8%,#fef4e5 30.8%,#fde2bd 41.3%,#fbd5a2 46.5%,#f9bb85 54.2%,#f4905e 61.7%,#ee6a4a 70.2%,#e7583d 72.9%,#e24a32 74.7%,#d93628 77.2%,#cb2027 82.9%,#bf1f26 87.2%,#ab1d23 91.9%,#a41c22 99.9%)"></i><i style="background:linear-gradient(#fff9f1 0.1%,#fff9f0 25.8%,#fef4e6 30.8%,#fde2be 41.3%,#fbd5a2 46.5%,#f9bb85 54.2%,#f4905e 61.7%,#ee6a4a 70.2%,#e7583d 72.9%,#e24a32 74.7%,#d93628 77.2%,#cb2027 82.9%,#c01f26 86.9%,#ab1d23 91.9%,#a41c22 99.9%)"></i><i style="background:linear-gradient(#fff9f1 0.1%,#fff9f0 25.8%,#fef4e6 30.8%,#fde2be 41.3%,#fbd5a2 46.5%,#f9bb85 54.2%,#f4905e 61.7%,#ee6a4a 70.2%,#e7583d 72.9%,#da3729 76.9%,#cb2027 82.9%,#c01f26 86.9%,#ac1d23 91.6%,#a41c22 99.9%)"></i><i style="background:linear-gradient(#fff9f1 0.1%,#fff9f0 25.8%,#fef4e6 30.8%,#fde2bd 41.5%,#fbd5a2 46.5%,#f9bb85 54.2%,#f4905e 61.7%,#ee6a4a 70.2%,#e7583c 72.9%,#d93728 76.9%,#cb2027 82.9%,#bf1f26 86.9%,#ab1d23 91.6%,#a41c22 99.9%)"></i><i style="background:linear-gradient(#fff9f1 0.1%,#fff9f0 25.8%,#fef4e6 30.8%,#fde2bd 41.5%,#fbd5a2 46.5%,#f9bc86 54%,#f4905e 61.7%,#ee6949 70.2%,#e7573c 72.9%,#e24b32 74.4%,#d93628 76.9%,#cb2027 82.7%,#c01f26 86.7%,#ab1d23 91.6%,#a41c22 99.9%)"></i><i style="background:linear-gradient(#fff9f1 0.1%,#fff9f0 25.8%,#fef4e6 30.8%,#fde2bd 41.5%,#fbd5a2 46.5%,#f9bc86 54%,#f4905e 61.5%,#ee6a4a 70%,#e7593d 72.7%,#e24a32 74.4%,#d93628 76.9%,#cb2027 82.4%,#bf1f26 86.7%,#ac1d23 91.4%,#a41c22 99.9%)"></i><i style="background:linear-gradient(#fff9f1 0.1%,#fff9f0 25.8%,#fef4e6 30.8%,#fde2bd 41.5%,#fbd5a1 46.5%,#f9bc86 53.7%,#f4905e 61.5%,#ee694a 70%,#e7583c 72.7%,#d93628 76.7%,#cb2127 82.2%,#bf1f26 86.4%,#ab1d23 91.4%,#a41c22 99.9%)"></i><i style="background:linear-gradient(#fff9f1 0.1%,#fff9f0 25.8%,#fef4e6 30.8%,#fde2be 41.3%,#fbd5a2 46.3%,#f9bc86 53.7%,#f4905e 61.2%,#ee6a4a 69.7%,#e7593d 72.4%,#e24a32 74.2%,#da3729 76.4%,#cb2027 82.2%,#c01f26 86.2%,#ab1d23 91.4%,#a41c22 99.9%)"></i><i style="background:linear-gradient(#fff9f1 0.1%,#fff9f0 25.8%,#fef4e6 30.8%,#fde2be 41.3%,#fbd5a2 46.3%,#f9bc86 53.5%,#f4905e 61%,#ee6949 69.7%,#e7573c 72.4%,#e24a32 73.9%,#d93628 76.4%,#cb2027 81.9%,#bf1f26 86.2%,#ac1d23 91.1%,#a41c22 99.9%)"></i><i style="background:linear-gradient(#fff9f1 0.1%,#fff9f0 25.8%,#fef4e6 30.8%,#fde2be 41.3%,#fbd5a3 46%,#f9bc86 53.2%,#f4905e 60.7%,#ee694a 69.5%,#e7583c 72.2%,#d93628 76.2%,#cb2127 81.7%,#bf1f26 85.9%,#ac1d23 90.9%,#a41c22 99.9%)"></i><i style="background:linear-gradient(#fff9f1 0.1%,#fff9f0 25.8%,#fef4e6 30.8%,#fde3bf 41%,#fbd5a2 46%,#f9bd87 53%,#f4905e 60.5%,#ee6a4a 69.2%,#e7583d 71.9%,#e24932 73.7%,#d93728 75.9%,#cb2127 81.4%,#bf1f26 85.7%,#ab1d23 90.9%,#a41c22 99.9%)"></i><i style="background:linear-gradient(#fff9f1 0.1%,#fff9f0 25.8%,#fef4e5 30.8%,#fde2be 41%,#fbd5a2 45.8%,#f9bd87 52.7%,#f4905e 60.2%,#ee6a4a 69%,#e7583d 71.7%,#e24932 73.4%,#d93728 75.7%,#cc2127 81.2%,#ac1d23 90.6%,#a41c22 99.9%)"></i><i style="background:linear-gradient(#fff9f1 0.1%,#fff9f0 25.8%,#fef4e6 30.8%,#fde3bf 40.8%,#fbd5a1 45.8%,#f9bd87 52.5%,#f4905e 60%,#ee694a 68.7%,#e7583d 71.4%,#d93728 75.4%,#cb2127 80.9%,#ab1d23 90.6%,#a41c22 99.9%)"></i><i style="background:linear-gradient(#fff9f1 0.1%,#fff9f1 25.8%,#fef4e6 30.8%,#fde2be 40.8%,#fbd5a2 45.5%,#f9bc86 52.2%,#f4905e 59.5%,#ee6949 68.5%,#e7583c 71.2%,#d93628 75.2%,#cb2127 80.7%,#ac1d23 90.4%,#a41c22 99.9%)"></i><i style="background:linear-gradient(#fff9f1 0.1%,#fff9f1 25.8%,#fef4e6 30.8%,#fde3bf 40.5%,#fbd5a2 45.3%,#f9bc86 52%,#f4905e 59.2%,#ee6a4a 68%,#e7573c 70.9%,#e24a32 72.4%,#d93628 74.9%,#cb2127 80.4%,#ac1d23 90.1%,#a41c22 99.9%)"></i><i style="background:linear-gradient(#fff9f1 0.1%,#fff9f0 26.1%,#fef4e6 30.8%,#fde3bf 40.3%,#fbd5a2 45%,#f9bc86 51.7%,#f4905e 58.7%,#ee694a 67.7%,#e7583d 70.4%,#da3729 74.4%,#cb2027 80.2%,#ac1d23 89.9%,#a41c22 99.9%)"></i><i style="background:linear-gradient(#fff9f1 0.1%,#fff9f0 26.1%,#fef4e6 30.8%,#fde3bf 40%,#fbd5a2 44.8%,#f9bc86 51.2%,#f4905e 58.5%,#ee6a4a 67.2%,#e7573c 70.2%,#d93728 74.2%,#cb2027 79.9%,#ab1d23 89.9%,#a41c22 99.9%)"></i><i style="background:linear-gradient(#fff9f1 0.1%,#fff9f0 26.1%,#fef4e6 30.8%,#fde3bf 39.8%,#fbd5a2 44.5%,#f9bc86 51%,#f4905e 58%,#ee6949 67%,#e7583d 69.7%,#e24932 71.4%,#d93628 73.9%,#cb2127 79.4%,#ac1d23 89.7%,#a41c22 99.9%)"></i><i style="background:linear-gradient(#fff9f1 0.1%,#fff9f0 26.1%,#fef4e6 30.8%,#fde4c1 39.3%,#fbd5a3 44%,#f9bc86 50.5%,#f4905e 57.5%,#ee6a4a 66.5%,#e8593d 69.2%,#e24a32 70.9%,#d93728 73.4%,#cb2027 79.2%,#ac1d23 89.4%,#a41c22 99.9%)"></i><i style="background:linear-gradient(#fff9f1 0.1%,#fff9f1 26.1%,#fef4e6 30.8%,#fde4c2 38.8%,#fbd5a2 43.8%,#f9bd87 50%,#f4905e 57%,#ee6a4a 66%,#e7573c 69%,#d93729 72.9%,#cb2027 78.9%,#ac1d23 89.2%,#a41c22 99.9%)"></i><i style="background:linear-gradient(#fff9f1 0.1%,#fff9f1 26.1%,#fef4e6 30.8%,#fde5c3 38.3%,#fbd4a1 43.5%,#f9bc86 49.8%,#f4915f 56.5%,#ee6a4a 65.5%,#e7583c 68.5%,#e24932 70.2%,#d93628 72.7%,#cb2027 78.4%,#ac1d23 88.9%,#a41c22 99.9%)"></i><i style="background:linear-gradient(#fff9f1 0.1%,#fff9f0 26.1%,#fef4e6 30.5%,#fee9cc 36%,#fde2bd 39%,#fbd5a2 43%,#f9bc86 49.3%,#f4915f 56%,#ee6a4a 65%,#e7583c 68%,#e24932 69.7%,#d93628 72.2%,#cb2027 78.2%,#ac1d23 88.7%,#a41c22 99.9%)"></i><i style="background:linear-gradient(#fff9f1 0.1%,#fff9f1 25.8%,#fef4e6 30.5%,#fee9cc 35.8%,#fde1bc 38.8%,#fbd5a2 42.5%,#f9bc86 48.8%,#f4915f 55.5%,#ee6a4a 64.5%,#e7583c 67.5%,#e24a32 69.2%,#d93728 71.7%,#cb2027 77.9%,#ac1d23 88.4%,#a41c22 99.9%)"></i><i style="background:linear-gradient(#fff9f1 0.1%,#fff9f1 25.8%,#fef4e6 30.3%,#fee9cc 35.3%,#fde2bd 38.3%,#fbd5a2 42%,#f9bc86 48.3%,#f4915f 55%,#ee6a4a 64%,#e7583c 67%,#e24a32 68.7%,#d93728 71.2%,#cb2027 77.4%,#ab1d23 88.4%,#a41c22 99.9%)"></i><i style="background:linear-gradient(#fff9f1 0.1%,#fff9f1 25.1%,#fef4e5 30.3%,#fde1bb 38%,#fbd5a2 41.5%,#f9bc86 47.8%,#f4915e 54.5%,#ee6a4a 63.5%,#e7573c 66.5%,#e24932 68.2%,#d93728 70.7%,#cb2027 76.9%,#ab1d23 88.2%,#a41c22 99.9%)"></i><i style="background:linear-gradient(#fff9f1 0.1%,#fff9f1 25.1%,#fef4e5 30%,#fde3bf 37%,#fbd5a2 41%,#f9bc86 47%,#f4905e 54%,#ee6a4a 63%,#e8593d 65.7%,#e24932 67.7%,#d93728 70.2%,#cb2027 76.7%,#ab1d23 87.9%,#a41c22 99.9%)"></i><i style="background:linear-gradient(#fff9f1 0.1%,#fff9f1 24.6%,#fef4e5 29.8%,#fde3bf 36.5%,#fbd5a2 40.5%,#f9bc86 46.5%,#f4905e 53.5%,#ee6949 62.5%,#e24b32 67%,#d93728 69.7%,#cb2027 76.2%,#ab1d23 87.7%,#a41c22 99.9%)"></i><i style="background:linear-gradient(#fff9f1 0.1%,#fff9f1 24.3%,#fef4e6 29.3%,#fde3be 36%,#fbd4a1 40%,#f9bc86 45.8%,#f4905e 52.7%,#ee6a4a 61.7%,#e24a32 66.5%,#d93628 69.2%,#cb2027 75.7%,#ab1d23 87.4%,#a41c22 99.9%)"></i><i style="background:linear-gradient(#fff9f1 0.1%,#fff9f1 24.1%,#fef4e5 29.1%,#fde2be 35.5%,#fbd5a2 39.3%,#f9bd87 45%,#f4915f 52%,#ee6a4a 61%,#e24932 66%,#da3729 68.5%,#cb2027 75.2%,#ab1d23 87.2%,#a41c22 99.9%)"></i><i style="background:linear-gradient(#fff9f1 0.1%,#fff9f0 24.3%,#fef4e6 28.6%,#fee9cb 32.8%,#fbd5a2 38.5%,#f9bc86 44.5%,#f4905e 51.5%,#ee6949 60.5%,#e24a32 65.2%,#d93728 68%,#cb2027 74.7%,#ab1d23 86.9%,#a41c22 99.9%)"></i><i style="background:linear-gradient(#fff9f1 0.1%,#fff9f0 23.8%,#fef4e6 28.1%,#fee9cc 32%,#fbd4a1 38%,#f9bc86 43.8%,#f4905e 50.7%,#ee694a 59.7%,#e24a32 64.5%,#d93628 67.5%,#cb2027 74.2%,#ab1d23 86.7%,#a41c22 99.9%)"></i><i style="background:linear-gradient(#fff9f1 0.1%,#fff9f0 23.3%,#fef4e6 27.6%,#fee9cd 31.3%,#fbd4a1 37.3%,#f9bc86 43%,#f4905e 50%,#ee6949 59%,#e24a32 63.7%,#d93728 66.7%,#cb2027 73.7%,#ab1d23 86.4%,#a41c22 99.9%)"></i><i style="background:linear-gradient(#fff9f1 0.1%,#fff9f0 22.8%,#fef4e7 26.8%,#fee9cc 30.8%,#fbd4a1 36.5%,#f9bb85 42.3%,#f4915f 49%,#ee6a4a 58%,#e24a32 63%,#d93728 66%,#cb2027 73.2%,#ab1d23 86.2%,#a41c22 99.9%)"></i><i style="background:linear-gradient(#fff9f1 0.1%,#fff9f1 21.8%,#fef6ea 25.3%,#fef2e1 27.1%,#fbd5a2 35.5%,#f9bc86 41.3%,#f4905e 48.3%,#ee6a4a 57.2%,#e24a32 62.2%,#d93628 65.5%,#cb2027 72.7%,#ab1d23 85.9%,#a41c22 99.9%)"></i><i style="background:linear-gradient(#fff9f1 0.1%,#fff9f1 21.1%,#fef6eb 24.3%,#fef3e4 26.1%,#fbd5a2 34.8%,#f9bc86 40.5%,#f4915f 47.3%,#ee6949 56.5%,#e24a32 61.5%,#d93628 64.7%,#cb2027 72.2%,#ab1d23 85.7%,#a41c22 99.9%)"></i><i style="background:linear-gradient(#fff9f1 0.1%,#fff9f1 20.3%,#fef6eb 23.6%,#fef3e4 25.3%,#fbd5a3 33.8%,#f9bc86 39.5%,#f4905e 46.5%,#ee6a4a 55.5%,#e24932 60.7%,#d93628 64%,#cb2027 71.9%,#ac1d23 85.4%,#a41c22 99.9%)"></i><i style="background:linear-gradient(#fff9f1 0.1%,#fff9f1 19.6%,#fef6eb 22.8%,#fef3e5 24.6%,#fbd5a2 33%,#f9bb85 38.8%,#f4915f 45.5%,#ee6a4a 54.5%,#e24a32 59.7%,#d93628 63.2%,#cb2027 71.4%,#ac1d23 85.2%,#a41c22 99.9%)"></i><i style="background:linear-gradient(#fff9f1 0.1%,#fff9f1 19.1%,#fef6eb 22.1%,#fef3e5 23.8%,#fbd5a2 32%,#f9bc86 37.8%,#f4915f 44.5%,#ee6949 53.7%,#e24a32 59%,#d93728 62.5%,#cb2027 70.9%,#ab1d23 85.2%,#a41c22 99.9%)"></i><i style="background:linear-gradient(#fff9f1 0.1%,#fff9f1 18.3%,#fef6eb 21.3%,#fef3e4 23.1%,#fbd5a3 31%,#f9bc86 36.8%,#f4915f 43.5%,#ee6a4a 52.7%,#e24a32 58.2%,#d93728 61.7%,#cb2027 70.4%,#ab1d23 84.9%,#a41c22 99.9%)"></i><i style="background:linear-gradient(#fff9f1 0.1%,#fff9f1 17.3%,#fef4e6 22.1%,#fbd4a1 30.3%,#f9bc86 35.8%,#f4915f 42.5%,#ee6a4a 51.7%,#e24b32 57.2%,#d93728 61%,#cb2027 70.2%,#ab1d23 84.9%,#a41c22 99.9%)"></i><i style="background:linear-gradient(#fff9f1 0.1%,#fff9f1 16.6%,#fef4e6 21.3%,#fbd5a2 29.3%,#f9bc86 34.8%,#f4915f 41.5%,#ee6a4a 50.7%,#e24a32 56.5%,#d93729 60.2%,#cb2027 69.7%,#c01f26 76.2%,#ab1d23 84.7%,#a41c22 99.9%)"></i><i style="background:linear-gradient(#fff9f1 0.1%,#fff9f1 15.8%,#fff7ec 18.8%,#fef4e5 20.6%,#fbd5a2 28.3%,#f9bc86 33.8%,#f4915f 40.5%,#ee6a4a 50%,#e24a32 55.7%,#da3729 59.5%,#cb2027 69.5%,#c01f26 75.9%,#ab1d23 84.7%,#a41c22 99.9%)"></i><i style="background:linear-gradient(#fff9f1 0.1%,#fff9f1 15.1%,#fef6eb 18.3%,#fef3e4 19.8%,#fbd5a3 27.3%,#f9bc86 32.8%,#f4915e 39.5%,#ee6a4a 49%,#e24a32 55%,#d93728 59%,#cb2027 69%,#bf1f26 75.9%,#ac1d23 84.4%,#a41c22 99.9%)"></i><i style="background:linear-gradient(#fff9f1 0.1%,#fff9f1 14.3%,#fef4e6 18.8%,#fbd5a2 26.6%,#f9bb85 32%,#f4905e 38.5%,#ee6a4a 48.3%,#e24a32 54.2%,#da3729 58.2%,#cb2027 68.7%,#c01f26 75.7%,#ab1d23 84.4%,#a41c22 99.9%)"></i><i style="background:linear-gradient(#fff9f1 0.1%,#fff9f1 13.6%,#fef4e5 18.1%,#fbd5a2 25.6%,#f9bc86 31%,#f4905e 37.5%,#ee6a4a 47.3%,#e24a32 53.5%,#da3829 57.5%,#cb2027 68.5%,#c01f26 75.7%,#ab1d23 84.4%,#a41c22 99.9%)"></i><i style="background:linear-gradient(#fff9f1 0.1%,#fff9f1 12.8%,#fef6eb 15.8%,#fef4e5 17.3%,#fbd5a2 24.8%,#f9bc86 30%,#f4915f 36.5%,#ee6a4a 46.5%,#e24b33 52.7%,#da3829 57%,#cb2027 68.2%,#bf1f26 75.7%,#ab1d23 84.4%,#a41c22 99.9%)"></i><i style="background:linear-gradient(#fff9f1 0.1%,#fff9f1 12.1%,#fef6eb 15.1%,#fef4e5 16.6%,#fbd5a3 23.8%,#f9bb86 29.3%,#f4915f 35.5%,#ee6a4a 45.8%,#e24a32 52.2%,#da3929 56.2%,#cb2027 68%,#bf1f26 75.7%,#ab1d23 84.4%,#a41c22 99.9%)"></i><i style="background:linear-gradient(#fff9f1 0.1%,#fff9f1 11.3%,#fef6eb 14.3%,#fef4e5 15.8%,#fbd5a3 23.1%,#f9bc86 28.3%,#f4905e 34.8%,#ee6a4a 45%,#e24b33 51.5%,#da3929 55.7%,#cb2027 67.7%,#c01f26 75.4%,#ab1d23 84.4%,#a41c22 99.9%)"></i><i style="background:linear-gradient(#fff9f1 0.1%,#fff9f1 10.8%,#fef4e6 15.1%,#fbd5a3 22.3%,#f9bc86 27.6%,#f4915f 33.8%,#ee6a4a 44.3%,#e24a32 51%,#db3b2a 54.7%,#d73328 57%,#cb2027 67.5%,#bf1f26 75.7%,#ab1d23 84.4%,#a41c22 99.9%)"></i><i style="background:linear-gradient(#fff9f1 0.1%,#fff9f1 10.1%,#fef4e6 14.3%,#fbd5a3 21.6%,#f9bc86 26.8%,#f4905e 33%,#ee6a4a 43.8%,#e24932 50.7%,#d83428 56.2%,#cb2027 67.5%,#bf1f26 75.7%,#ab1d23 84.4%,#a41c22 99.9%)"></i><i style="background:linear-gradient(#fff9f1 0.1%,#fff9f1 9.6%,#fef4e5 13.8%,#fbd5a2 21.1%,#f9bc86 26.1%,#f4915f 32%,#ee6a4a 43%,#e24932 50.2%,#d83428 55.7%,#cb2027 67.2%,#c01f26 75.7%,#ab1d23 84.4%,#a41c22 99.9%)"></i><i style="background:linear-gradient(#fff9f1 0.1%,#fff9f0 9.1%,#fef6ea 12.1%,#fef3e5 13.3%,#fbd5a2 20.3%,#f9bc86 25.3%,#f4915f 31.3%,#ee6a4a 42.5%,#e24932 49.8%,#d83428 55.5%,#cb2027 67.2%,#c01f26 75.7%,#ab1d23 84.4%,#a41c22 99.9%)"></i><i style="background:linear-gradient(#fff9f1 0.1%,#fff9f0 8.6%,#fef6ea 11.6%,#fef3e4 12.8%,#fbd5a2 19.8%,#f9bb85 24.8%,#f4905e 30.8%,#ee6a4a 42%,#e24a32 49.3%,#d83428 55%,#cb2027 67%,#bf1f26 75.9%,#ab1d23 84.7%,#a41c22 99.9%)"></i><i style="background:linear-gradient(#fff9f1 0.1%,#fff9f0 8.1%,#fef6ea 11.1%,#fef3e4 12.3%,#fbd4a1 19.3%,#f9bc86 24.1%,#f4915f 30%,#ee6b4a 41.3%,#e24a32 48.8%,#d83428 54.7%,#cb2027 67%,#c01f26 75.9%,#ab1d23 84.7%,#a41c22 99.9%)"></i><i style="background:linear-gradient(#fff9f1 0.1%,#fff9f1 7.6%,#fef6eb 10.6%,#fef3e4 11.8%,#fbd4a1 18.8%,#f9bc86 23.6%,#f4915f 29.3%,#ee6a4a 41%,#e24a32 48.5%,#d83428 54.5%,#cb2027 67%,#c01f26 75.9%,#ab1d23 84.7%,#a41c22 99.9%)"></i><i style="background:linear-gradient(#fff9f1 0.1%,#fff9f1 7.1%,#fef4e5 11.3%,#fbd4a1 18.3%,#f9bb85 23.1%,#f4915f 28.8%,#ee6a4a 40.5%,#e24932 48.3%,#d83428 54.2%,#cb2027 67%,#c01f26 76.2%,#ab1d23 84.9%,#a41c22 99.9%)"></i><i style="background:linear-gradient(#fff9f1 0.1%,#fff9f1 6.9%,#fef6ea 9.9%,#fef3e4 11.1%,#fbd5a2 17.8%,#f9bb85 22.6%,#f4915f 28.3%,#ee6a4a 40%,#e24a32 47.8%,#d83428 54%,#cb2027 67%,#c01f26 76.2%,#ab1d23 84.9%,#a41c22 99.9%)"></i><i style="background:linear-gradient(#fff9f1 0.1%,#fff9f1 6.4%,#fef4e7 10.3%,#fbd5a3 17.3%,#f9bc86 22.1%,#f4905e 28.1%,#ee6a4a 39.8%,#e24a32 47.5%,#d83428 54%,#cb2027 66.7%,#c01f26 76.2%,#ab1d23 84.9%,#a41c22 99.9%)"></i><i style="background:linear-gradient(#fff9f1 0.1%,#fff9f1 6.1%,#fef4e7 10.1%,#fbd5a2 17.1%,#f9bc86 21.6%,#f4905e 27.6%,#ee6a4a 39.5%,#e24a32 47.3%,#d83428 53.7%,#cb2027 66.7%,#c01f26 76.4%,#ab1d23 84.9%,#a41c22 99.9%)"></i><i style="background:linear-gradient(#fff9f1 0.1%,#fff9f1 5.9%,#fef4e7 9.9%,#fbd4a1 16.8%,#f9bc86 21.3%,#f4905e 27.3%,#ee6a4a 39.3%,#e24a32 47.3%,#d83428 53.5%,#cb2027 66.7%,#c01f26 76.4%,#ab1d23 84.9%,#a41c22 99.9%)"></i><i style="background:linear-gradient(#fff9f1 0.1%,#fff9f1 5.6%,#fef4e7 9.6%,#fbd4a1 16.6%,#f9bc86 21.1%,#f4905e 27.1%,#ee6a4a 39%,#e24a32 47%,#d83428 53.5%,#cb2027 66.7%,#c01f26 76.4%,#ab1d23 85.2%,#a41c22 99.9%)"></i><i style="background:linear-gradient(#fff9f1 0.1%,#fff9f0 5.6%,#fef4e7 9.4%,#fbd4a1 16.3%,#f9bc86 20.8%,#f4905e 26.8%,#ee6a4a 38.8%,#e24932 47%,#d83428 53.2%,#cb2027 66.7%,#c01f26 76.4%,#ab1d23 85.2%,#a31c22 99.9%)"></i><i style="background:linear-gradient(#fff9f1 0.1%,#fff9f0 5.4%,#fef5e7 9.1%,#fbd4a1 16.1%,#fac590 18.6%,#f9bc86 20.6%,#f4905e 26.8%,#ee6a4a 38.8%,#e24a32 46.8%,#d83428 53.2%,#cb2027 66.7%,#c01f26 76.4%,#ab1d23 84.9%,#a31c22 99.9%)"></i><i style="background:linear-gradient(#fff9f1 0.1%,#fff9f1 5.1%,#fef4e6 9.1%,#fbd5a2 15.8%,#fac591 18.3%,#f9bb85 20.6%,#f4915f 26.6%,#ee6a4a 38.8%,#e24a32 46.8%,#d83428 53.2%,#cb2027 66.5%,#bf1f26 76.4%,#ab1d23 84.9%,#a31c22 99.9%)"></i><i style="background:linear-gradient(#fff9f1 0.1%,#fff9f0 5.1%,#fef4e7 8.9%,#fbd4a1 15.8%,#fac590 18.3%,#f9bb85 20.6%,#f4915f 26.6%,#ee6a4a 38.8%,#e24a32 46.8%,#d83428 53.2%,#cb2027 66.5%,#c01f26 76.2%,#ab1d23 84.9%,#a31c21 99.9%)"></i><i style="background:linear-gradient(#fff9f1 0.1%,#fff9f1 4.9%,#fef4e6 8.9%,#fbd4a1 15.8%,#fac590 18.3%,#f9bb85 20.6%,#f4905e 26.8%,#ee6a4a 38.8%,#e24a32 46.8%,#d83428 53%,#cb2027 66.5%,#c01f26 75.9%,#ab1d23 84.9%,#a31c21 99.9%)"></i><i style="background:linear-gradient(#fff9f1 0.1%,#fff9f1 4.9%,#fef4e6 8.9%,#fbd4a1 15.8%,#fac590 18.3%,#f9bb85 20.6%,#f4915f 26.8%,#ee6a4a 38.8%,#e24a32 46.8%,#d83428 53%,#cb2027 66.2%,#bf1f26 75.9%,#ab1d23 84.7%,#a31c21 99.9%)"></i><i style="background:linear-gradient(#fff9f1 0.1%,#fff9f0 4.9%,#fef4e7 8.6%,#fbd4a1 15.8%,#fac590 18.3%,#f9bc86 20.6%,#f4905e 27.1%,#ee6a4a 38.8%,#e24a32 46.8%,#d83428 53%,#cb2027 66%,#c01f26 75.4%,#ab1d23 84.4%,#a21c21 99.9%)"></i><i style="background:linear-gradient(#fff9f1 0.1%,#fff9f0 4.9%,#fef4e7 8.6%,#fbd4a1 15.8%,#fac590 18.6%,#f9bb85 20.8%,#f4905e 27.3%,#ee6a4a 39%,#e24a32 46.8%,#d83428 53%,#cb2027 65.7%,#c01f26 75.2%,#ab1d23 84.2%,#a21c21 99.9%)"></i><i style="background:linear-gradient(#fff9f1 0.1%,#fff9f0 4.9%,#fef4e7 8.6%,#fbd5a2 15.8%,#fac591 18.6%,#f9bb85 21.1%,#f4905e 27.6%,#ee6b4a 39%,#e24a32 46.8%,#d83428 53%,#cb2027 65.5%,#c01f26 74.7%,#ab1d23 83.9%,#a21c21 99.9%)"></i><i style="background:linear-gradient(#fff9f1 0.1%,#fff9f0 4.9%,#fef4e7 8.6%,#fbd5a2 16.1%,#fac590 18.8%,#f9bb85 21.3%,#f4915f 27.8%,#ee6a4a 39.3%,#e24a32 46.8%,#d83428 52.7%,#cb2027 65.2%,#c01f26 74.2%,#ab1d23 83.7%,#a11c21 99.9%)"></i><i style="background:linear-gradient(#fff9f1 0.1%,#fff9f0 4.9%,#fef4e6 8.9%,#fbd4a1 16.3%,#f9bb85 21.6%,#f4905e 28.3%,#ee6a4a 39.5%,#e24932 47%,#d83428 52.7%,#cb2027 64.7%,#bf1f26 73.7%,#ab1d23 83.2%,#a11c21 99.9%)"></i><i style="background:linear-gradient(#fff9f1 0.1%,#fff9f1 4.9%,#fef4e7 8.9%,#fbd4a1 16.6%,#f9bb86 21.8%,#f4915e 28.6%,#ee6a4a 39.8%,#e24a32 47%,#d83428 52.7%,#cb2027 64.5%,#bf1f26 73.2%,#ab1d23 82.7%,#a01c21 99.9%)"></i><i style="background:linear-gradient(#fff9f1 0.1%,#fff9f1 4.9%,#fef4e7 8.9%,#fbd5a1 16.8%,#f9bc86 22.1%,#f4905e 29.1%,#ee6a4a 40%,#e24932 47.3%,#d83428 52.7%,#cb2027 64%,#bf1f26 72.4%,#ab1d23 82.2%,#a01c21 99.9%)"></i><i style="background:linear-gradient(#fff9f1 0.1%,#fff9f1 5.1%,#fef4e7 9.1%,#fbd5a2 17.1%,#f9bb85 22.6%,#f4905e 29.6%,#ee6a4a 40.3%,#e24a32 47.3%,#db3a2a 51%,#d73328 53%,#cb2027 63.5%,#bf1f26 71.7%,#ab1d23 81.9%,#9f1c21 99.9%)"></i><i style="background:linear-gradient(#fff9f1 0.1%,#fff9f0 5.4%,#fef4e6 9.4%,#fbd4a1 17.6%,#f9bc86 22.8%,#f4915f 29.8%,#ee694a 40.8%,#e24a32 47.3%,#da3829 51.5%,#cb2027 63.2%,#bf1f26 71.2%,#ab1d23 81.4%,#9f1c21 99.9%)"></i><i style="background:linear-gradient(#fff9f1 0.1%,#fff9f1 5.4%,#fef5e9 8.9%,#fef4e6 9.6%,#fde4c2 14.1%,#fbd5a2 17.8%,#f9bc86 23.3%,#f4905e 30.3%,#ee6a4a 41%,#e24a32 47.5%,#da3729 51.7%,#cb2027 62.7%,#ab1d23 80.9%,#9e1b21 99.9%)"></i><i style="background:linear-gradient(#fff9f1 0.1%,#fff9f1 5.6%,#fef5e9 9.1%,#fde3bf 14.8%,#fbd5a2 18.3%,#f9bc86 23.8%,#f4905e 30.8%,#ee6a4a 41.3%,#e24a32 47.8%,#da3729 51.7%,#cb2027 62.5%,#ab1d23 80.4%,#9d1b21 99.9%)"></i><i style="background:linear-gradient(#fff9f1 0.1%,#fff9f1 5.6%,#fef5e9 9.4%,#fde3bf 15.3%,#fbd4a1 18.8%,#f9bc86 24.3%,#f4905e 31.3%,#ee6a4a 41.8%,#e24a32 48%,#d93728 52%,#cb2027 62.2%,#ab1d23 80.2%,#9c1b20 99.9%)"></i><i style="background:linear-gradient(#fff9f1 0.1%,#fff9f1 5.9%,#fef5e9 9.6%,#fde2bc 16.1%,#fbd4a1 19.3%,#f9bc86 24.8%,#f4905e 31.8%,#ee6a4a 42%,#e24a32 48.3%,#d93628 52.2%,#cb2027 62%,#ab1d23 79.9%,#9c1b20 99.9%)"></i><i style="background:linear-gradient(#fff9f1 0.1%,#fff9f1 6.1%,#fef5e9 9.9%,#fde1bc 16.6%,#fbd4a1 19.8%,#f9bc86 25.3%,#f4915f 32.3%,#ee6a4a 42.5%,#e24a32 48.5%,#d93728 52.2%,#cb2027 62%,#ab1d23 79.7%,#9b1b20 99.9%)"></i><i style="background:linear-gradient(#fff9f1 0.1%,#fff9f1 6.4%,#fef5e9 10.1%,#fef4e5 11.1%,#fde1bc 17.1%,#fbd4a1 20.3%,#f9bc86 25.8%,#f4915f 32.8%,#ee694a 43%,#e24a32 48.8%,#d93728 52.5%,#cb2027 61.7%,#ab1d23 79.4%,#991b20 99.9%)"></i><i style="background:linear-gradient(#fff9f1 0.1%,#fff9f1 6.9%,#fef6e9 10.3%,#fef4e6 11.3%,#fde0ba 17.8%,#fbd5a2 20.8%,#f9bb86 26.6%,#f4905e 33.5%,#ee6a4a 43.3%,#e24b32 49%,#d93728 52.7%,#cb2027 61.7%,#ab1d23 79.2%,#981b20 99.9%)"></i><i style="background:linear-gradient(#fff9f1 0.1%,#fff9f1 7.1%,#fef6ea 10.6%,#fef3e5 11.8%,#fde0ba 18.3%,#fbd5a2 21.3%,#f9bc86 27.1%,#f4905e 34%,#ee6a4a 43.8%,#e24a32 49.5%,#d93728 53%,#cb2027 61.7%,#ab1d23 79.2%,#961a1f 99.9%)"></i><i style="background:linear-gradient(#fff9f1 0.1%,#fff9f1 7.4%,#fef5e9 11.1%,#fef4e5 12.1%,#fde0b8 19.1%,#fbd4a1 22.1%,#f9bb85 27.8%,#f4915f 34.5%,#ee6a4a 44.3%,#e24a32 49.8%,#d93728 53.2%,#cb2027 62%,#ab1d23 78.9%,#951a1f 99.9%)"></i><i style="background:linear-gradient(#fff9f1 0.1%,#fff9f1 7.6%,#fef6ea 11.3%,#fef3e5 12.6%,#fde0b8 19.6%,#fbd4a1 22.6%,#f9bc86 28.3%,#f4905e 35.3%,#ee6a4a 44.8%,#e24a32 50.2%,#d93628 53.7%,#cb2027 62%,#ab1d23 78.9%,#931a1e 99.9%)"></i><i style="background:linear-gradient(#fff9f1 0.1%,#fff9f1 8.1%,#fef5e9 11.8%,#fef4e6 12.8%,#fcdeb5 20.6%,#fbd5a2 23.1%,#f9bc86 29.1%,#f4915f 35.8%,#ee6a4a 45.3%,#e24932 50.7%,#d93628 54%,#cb2027 62.2%,#ab1d23 78.9%,#92191e 99.9%)"></i><i style="background:linear-gradient(#fff9f1 0.1%,#fff9f1 8.6%,#fef5e8 12.6%,#fde3c0 19.6%,#fbd5a2 23.6%,#f9bc86 29.6%,#f4905e 36.5%,#ee6a4a 45.8%,#e24b32 51%,#d93728 54.2%,#cb2027 62.2%,#ab1d23 78.9%,#90191e 99.9%)"></i><i style="background:linear-gradient(#fff9f1 0.1%,#fff9f1 8.9%,#fef5e9 12.8%,#fde3c0 20.1%,#fbd5a3 24.1%,#f9bc86 30.3%,#f4905e 37.3%,#ee6a4a 46.3%,#e24a32 51.5%,#d93628 54.7%,#cb2027 62.5%,#ab1d23 78.9%,#a31c21 86.4%,#8e191d 99.9%)"></i><i style="background:linear-gradient(#fff9f1 0.1%,#fff9f1 9.4%,#fef5e8 13.3%,#fde3c0 20.6%,#fbd5a2 24.8%,#f9bb85 31%,#f4905e 37.8%,#ee6949 47%,#e24a32 52%,#d93628 55.2%,#cb2027 62.7%,#aa1d23 79.2%,#a21c21 86.7%,#8c181d 99.9%)"></i><i style="background:linear-gradient(#fff9f1 0.1%,#fff9f1 9.6%,#fef5e9 13.6%,#fde3c0 21.1%,#fbd5a2 25.3%,#f9bc86 31.5%,#f4905e 38.5%,#ee6a4a 47.5%,#e24a32 52.5%,#d93728 55.5%,#cb2027 63%,#aa1d23 79.2%,#a21c21 86.7%,#8f191d 96.1%,#8a181c 99.9%)"></i><i style="background:linear-gradient(#fff9f1 0.1%,#fff9f1 10.1%,#fef5e8 14.1%,#fde3c0 21.6%,#fbd5a3 25.8%,#f9bc86 32.3%,#f4915f 39%,#ee6a4a 48%,#e24a32 53%,#d93728 56%,#cb2027 63.2%,#aa1d23 79.2%,#a11c21 86.9%,#8d181d 96.1%,#88171c 99.9%)"></i><i style="background:linear-gradient(#fff9f1 0.1%,#fff9f1 10.3%,#fef5e9 14.3%,#fde3c0 22.1%,#fbd6a3 26.3%,#f9bc86 32.8%,#f4905e 39.8%,#ee6949 48.8%,#e24a32 53.5%,#d93728 56.5%,#cb2027 63.7%,#aa1d23 79.4%,#a01c21 86.9%,#8c181d 95.9%,#87171b 99.9%)"></i><i style="background:linear-gradient(#fff9f1 0.1%,#fff9f1 10.8%,#fef5e9 14.8%,#fde3c0 22.6%,#fbd5a2 27.1%,#f9bc86 33.5%,#f4905e 40.5%,#ee6a4a 49.3%,#e24b32 54%,#d93628 57%,#cb2027 64%,#aa1d23 79.7%,#9c1b20 89.2%,#89181c 96.4%,#85171b 99.9%)"></i><i style="background:linear-gradient(#fff9f1 0.1%,#fff9f1 11.1%,#fef5e9 15.1%,#fde3c0 23.1%,#fbd5a2 27.6%,#f9bc86 34%,#f4915e 41%,#ee6a4a 49.8%,#e24932 54.7%,#d93628 57.5%,#cb2027 64.5%,#aa1d23 79.7%,#9b1b20 88.9%,#87171c 96.4%,#83161b 99.9%)"></i><i style="background:linear-gradient(#fff9f1 0.1%,#fff9f1 11.6%,#fef6ea 15.3%,#fde3c0 23.6%,#fbd5a2 28.1%,#f9bb85 34.8%,#f4905e 41.8%,#ee694a 50.5%,#e24932 55.2%,#d93628 58%,#cb2027 64.7%,#aa1d23 79.9%,#9d1b21 87.9%,#88171c 95.6%,#81161a 99.9%)"></i><i style="background:linear-gradient(#fff9f1 0.1%,#fff9f1 11.8%,#fef5e9 15.8%,#fde3c0 24.1%,#fbd5a3 28.6%,#f9bc86 35.3%,#f4905e 42.5%,#ee6a4a 51%,#e24a32 55.7%,#d93728 58.5%,#cb2027 65.2%,#a91d23 80.2%,#9d1b20 87.9%,#86171b 95.6%,#80161a 99.9%)"></i><i style="background:linear-gradient(#fff9f1 0.1%,#fff9f1 12.3%,#fef6ea 16.1%,#fde4c1 24.3%,#fbd5a3 29.1%,#f9bc86 35.8%,#f4905e 43%,#ee6b4a 51.5%,#e24a32 56.2%,#d93728 59%,#cb2027 65.5%,#a91d22 80.4%,#9c1b20 87.9%,#85171b 95.6%,#7e1519 99.9%)"></i><i style="background:linear-gradient(#fff9f1 0.1%,#fff9f1 12.6%,#fef6e9 16.6%,#fde3bf 25.1%,#fbd6a3 29.6%,#f9bc86 36.5%,#f4905e 43.8%,#ee6a4a 52.2%,#e24931 57%,#d93728 59.5%,#cb2027 66%,#a91d22 80.7%,#9c1b20 87.9%,#83161b 95.6%,#7d1519 99.9%)"></i><i style="background:linear-gradient(#fff9f1 0.1%,#fff9f1 13.1%,#fef6ea 16.8%,#fef4e6 18.1%,#fde3bf 25.6%,#fbd5a2 30.3%,#f9bc86 37%,#f4905e 44.3%,#ee6a4a 52.7%,#e24932 57.5%,#d93729 60%,#cb2027 66.5%,#a81d22 80.9%,#9a1b20 88.4%,#80161a 96.4%,#7c1519 99.9%)"></i><i style="background:linear-gradient(#fff9f1 0.1%,#fff9f1 13.3%,#fef6ea 17.1%,#fef4e5 18.6%,#fde4c1 25.8%,#fbd5a2 30.8%,#f9bb85 37.8%,#f4905e 45%,#ee6a4a 53.5%,#e24a32 58%,#d93628 60.7%,#cb2027 66.7%,#a81d22 81.2%,#9b1b20 88.2%,#7f161a 96.4%,#7c1519 99.9%)"></i><i style="background:linear-gradient(#fff9f1 0.1%,#fff9f1 13.8%,#fef6ea 17.6%,#fde3bf 26.6%,#fbd5a2 31.3%,#f9bc86 38.3%,#f4905e 45.5%,#ee6a4a 54%,#e24b32 58.5%,#d93628 61.2%,#cb2027 67.2%,#9a1b20 88.2%,#7e1519 96.6%,#7c1519 99.9%)"></i><i style="background:linear-gradient(#fff9f1 0.1%,#fff9f1 14.1%,#fef6ea 17.8%,#fef4e6 19.3%,#fde4c1 26.8%,#fbd5a3 31.8%,#f9bc86 38.8%,#f4905e 46.3%,#ee6b4a 54.5%,#e8593d 57.2%,#e24932 59.2%,#d93628 61.7%,#cb2027 67.7%,#9a1b20 88.2%,#7d1519 96.6%,#7c1519 99.9%)"></i><i style="background:linear-gradient(#fff9f1 0.1%,#fff9f1 14.3%,#fef6ea 18.1%,#fef4e6 19.6%,#fde4c1 27.3%,#fbd5a2 32.5%,#f9bc86 39.5%,#f4905e 46.8%,#ee6a4a 55.2%,#e24a32 59.7%,#d93628 62.2%,#cb2027 68.2%,#9b1b20 87.9%,#7c1519 96.6%,#7c1519 99.9%)"></i><i style="background:linear-gradient(#fff9f1 0.1%,#fff9f1 14.8%,#fef6ea 18.6%,#fef4e6 20.1%,#fde3bf 28.1%,#fbd5a2 33%,#f9bc86 40%,#f4915f 47.3%,#ee6a4a 55.7%,#e7583d 58.5%,#e24a32 60.2%,#d93728 62.7%,#cb2027 68.7%,#9a1b20 87.9%,#7c1519 96.4%,#7c1519 99.9%)"></i><i style="background:linear-gradient(#fff9f1 0.1%,#fff9f1 15.1%,#fef6ea 18.8%,#fef4e5 20.6%,#fde4c1 28.3%,#fbd5a2 33.5%,#f9bc86 40.8%,#f4905e 48%,#ee6a4a 56.2%,#e8593d 59%,#e24a32 60.7%,#d93728 63.2%,#cb2027 69.2%,#9a1b20 87.9%,#7d1519 96.1%,#7c1519 99.9%)"></i><i style="background:linear-gradient(#fff9f1 0.1%,#fff9f1 15.6%,#fef6eb 19.1%,#fef4e6 20.8%,#fde4c1 28.8%,#fbd5a3 34%,#f9bc86 41.3%,#f4905e 48.5%,#ee694a 57%,#e7573c 59.7%,#d93728 63.7%,#cb2027 69.7%,#9a1b20 87.9%,#7c1519 96.1%,#7c1519 99.9%)"></i><i style="background:linear-gradient(#fff9f1 0.1%,#fff9f1 15.8%,#fef6eb 19.3%,#fef4e5 21.3%,#fde3c0 29.3%,#fbd5a3 34.5%,#f9bc86 41.8%,#f4905e 49%,#ee6a4a 57.5%,#e7583c 60.2%,#d93728 64.2%,#cb2027 70%,#9a1b20 88.2%,#7c1519 96.1%,#7c1519 99.9%)"></i><i style="background:linear-gradient(#fff9f1 0.1%,#fff9f1 16.1%,#fef6ea 19.8%,#fef4e6 21.6%,#fde3c0 29.8%,#fbd5a2 35.3%,#f9bc86 42.5%,#f48f5e 49.8%,#ee6a4a 58%,#e7583c 60.7%,#d93728 64.7%,#cb2027 70.4%,#9a1b20 88.2%,#7d1519 96.1%,#7c1519 99.9%)"></i><i style="background:linear-gradient(#fff9f1 0.1%,#fff9f1 16.6%,#fef6eb 20.1%,#fef4e6 21.8%,#fde3c0 30.3%,#fbd5a2 35.8%,#f9bc86 43%,#f4905e 50.2%,#ee6a4a 58.5%,#e7583c 61.2%,#d93728 65.2%,#cb2027 70.9%,#9a1b20 88.2%,#7c1519 96.4%,#7c1519 99.9%)"></i><i style="background:linear-gradient(#fff9f1 0.1%,#fff9f0 17.8%,#fef4e6 22.3%,#fde2bc 31.5%,#fbd5a2 36.3%,#f9bc86 43.5%,#f4905e 50.7%,#ee6a4a 59%,#e7583c 61.7%,#e14931 63.5%,#d93728 65.7%,#cb2027 71.4%,#9a1b20 88.4%,#7d1519 96.1%,#7c1519 99.9%)"></i><i style="background:linear-gradient(#fff9f1 0.1%,#fff8f0 18.3%,#fef4e6 22.6%,#fde2bd 31.8%,#fbd5a2 36.8%,#f9bc87 44%,#f4905e 51.2%,#ee6a4a 59.5%,#e7583c 62.2%,#e14931 64%,#d93728 66.2%,#cb2027 71.9%,#9a1b20 88.4%,#7f161a 95.9%,#7c1519 99.9%)"></i><i style="background:linear-gradient(#fff9f1 0.1%,#fff9f0 18.6%,#fef4e5 23.1%,#fde2bd 32.3%,#fbd5a2 37.3%,#f9bd87 44.5%,#f4905e 51.7%,#ee6a4a 60%,#e7583c 62.7%,#e24b32 64.2%,#d93628 66.7%,#cb2027 72.2%,#9a1b20 88.7%,#80161a 95.9%,#7c1519 97.4%,#7c1519 99.9%)"></i><i style="background:linear-gradient(#fff9f1 0.1%,#fff9f0 18.8%,#fef4e6 23.3%,#fde2bd 32.8%,#fbd5a2 37.8%,#f9bc86 45.3%,#f4905e 52.2%,#ee6a4a 60.5%,#e7573c 63.2%,#e24a32 64.7%,#d93628 67.2%,#cb2027 72.7%,#9a1b20 88.7%,#81161a 95.6%,#7c1519 97.6%,#7c1519 99.9%)"></i><i style="background:linear-gradient(#fff9f1 0.1%,#fff8f0 19.3%,#fef4e6 23.6%,#fde2bc 33.3%,#fbd5a2 38.3%,#f9bc86 45.8%,#f4905e 52.7%,#ee6a4a 61%,#e8593d 63.5%,#e24a32 65.2%,#d93628 67.7%,#cb2027 73.2%,#83161b 95.4%,#7c1519 98.4%,#7c1519 99.9%)"></i><i style="background:linear-gradient(#fff9f1 0.1%,#fff9f0 19.6%,#fef4e6 24.1%,#fde2bd 33.5%,#fbd5a2 38.8%,#f9bc86 46.3%,#f4905e 53.2%,#ee6b4a 61.2%,#e7593d 64%,#e24932 65.7%,#d93729 68%,#cb2027 73.4%,#85171b 95.1%,#7c1519 99.9%)"></i><i style="background:linear-gradient(#fff9f1 0.1%,#fff9f0 19.8%,#fef4e6 24.3%,#fde2bd 34%,#fbd5a2 39%,#f9bd87 46.5%,#f4905e 53.7%,#ee6a4a 61.7%,#e7583d 64.5%,#e24931 66.2%,#d93728 68.5%,#cb2027 73.9%,#87171c 94.9%,#7d1519 99.9%)"></i><i style="background:linear-gradient(#fff9f1 0.1%,#fff9f0 20.1%,#fef4e5 24.8%,#fde2bd 34.3%,#fbd5a2 39.5%,#f9bc87 47%,#f4915f 54%,#ee6a4a 62.2%,#e7583c 65%,#e24b32 66.5%,#d93628 69%,#cb2027 74.2%,#89181c 94.6%,#7f161a 99.9%)"></i><i style="background:linear-gradient(#fff9f1 0.1%,#fff9f0 20.6%,#fef4e6 25.1%,#fde2bd 34.8%,#fbd5a2 40%,#f9bc86 47.5%,#f4905e 54.5%,#ee6a4a 62.7%,#e7573c 65.5%,#e24a32 67%,#d93729 69.2%,#cb2027 74.7%,#a21c21 86.4%,#87171c 95.9%,#80161a 99.9%)"></i><i style="background:linear-gradient(#fff9f1 0.1%,#fff9f0 20.8%,#fef4e6 25.3%,#fde2bd 35%,#fbd5a2 40.3%,#f9bc86 48%,#f4905e 55%,#ee6b4a 63%,#e7583d 65.7%,#e24932 67.5%,#d93628 69.7%,#cb2127 74.9%,#a21c21 86.7%,#89181c 95.9%,#82161a 99.9%)"></i><i style="background:linear-gradient(#fff9f1 0.1%,#fff9f0 21.1%,#fef4e5 25.8%,#fde2bd 35.5%,#fbd5a2 40.8%,#f9bd87 48.3%,#f48f5e 55.5%,#ee6a4a 63.5%,#e7583c 66.2%,#e24b32 67.7%,#d93628 70.2%,#cb2027 75.4%,#a21c21 86.9%,#8a181c 96.1%,#84171b 99.9%)"></i><i style="background:linear-gradient(#fff9f1 0.1%,#fff9f0 21.3%,#fef4e6 26.1%,#fde2bd 35.8%,#fbd5a2 41%,#f9bc86 48.8%,#f4905e 55.7%,#ee6a4a 64%,#e7573c 66.7%,#d93728 70.4%,#cb2127 75.7%,#a31c21 87.2%,#8b181d 96.1%,#86171b 99.9%)"></i><i style="background:linear-gradient(#fff9f1 0.1%,#fff9f1 20.8%,#fef5e7 25.8%,#fde1bb 36.5%,#fbd5a2 41.5%,#f9bf8a 48.3%,#f9bc86 49.3%,#f4905e 56.2%,#ee6a4a 64.2%,#e7583d 67%,#e14931 68.7%,#d93628 70.9%,#cb2027 76.2%,#a31c21 87.4%,#8d181d 96.1%,#88171c 99.9%)"></i><i style="background:linear-gradient(#fff9f1 0.1%,#fff9f0 22.1%,#fef4e6 26.6%,#fde2bd 36.5%,#fbd5a2 41.8%,#f9bc86 49.5%,#f4905e 56.5%,#ee6a4a 64.7%,#e7573c 67.5%,#e24a32 69%,#d93728 71.2%,#cb2027 76.4%,#a31c21 87.7%,#8e191d 96.4%,#89181c 99.9%)"></i><i style="background:linear-gradient(#fff9f1 0.1%,#fff9f0 22.3%,#fef4e6 26.8%,#fde2bd 36.8%,#fbd5a2 42.3%,#f9bc86 50%,#f4905e 57%,#ee6949 65.2%,#e7583d 67.7%,#da3829 71.4%,#cb2027 76.9%,#a31c22 87.9%,#8b181d 99.9%)"></i><i style="background:linear-gradient(#fff9f1 0.1%,#fff9f0 22.6%,#fef4e5 27.3%,#fde2bc 37.3%,#fbd5a2 42.5%,#f9bc86 50.2%,#f4905e 57.2%,#ee6a4a 65.5%,#e7573c 68.2%,#e24a32 69.7%,#d93729 71.9%,#cb2027 77.2%,#a31c22 88.2%,#8d181d 99.9%)"></i><i style="background:linear-gradient(#fff9f1 0.1%,#fff9f0 22.8%,#fef4e6 27.6%,#fde2bd 37.5%,#fbd5a2 42.8%,#f9bc86 50.5%,#f4905e 57.7%,#ee6949 66%,#e7583d 68.5%,#da3829 72.2%,#cb2027 77.7%,#a41c22 88.4%,#8f191d 99.9%)"></i><i style="background:linear-gradient(#fff9f1 0.1%,#fff9f0 23.1%,#fef4e6 27.8%,#fde2bd 37.8%,#fbd5a2 43%,#f9bb86 51%,#f4905e 58%,#ee6a4a 66.2%,#e7573c 69%,#e24a32 70.4%,#d93729 72.7%,#cb2127 77.9%,#a41c22 88.7%,#91191e 99.9%)"></i><i style="background:linear-gradient(#fff9f1 0.1%,#fff9f0 23.3%,#fef4e6 28.1%,#fde2bd 38%,#fbd5a3 43.3%,#f9bc86 51.2%,#f4905e 58.2%,#ee6949 66.7%,#e7583d 69.2%,#da3829 72.9%,#cb2027 78.4%,#a41c22 88.9%,#931a1e 99.9%)"></i><i style="background:linear-gradient(#fff9f1 0.1%,#fff9f0 23.6%,#fef4e6 28.3%,#fde2bd 38.3%,#fbd5a2 43.8%,#f9bc86 51.5%,#f4915f 58.5%,#ee6949 67%,#e7573c 69.7%,#d93728 73.4%,#cb2127 78.7%,#a41c22 89.4%,#941a1f 99.9%)"></i><i style="background:linear-gradient(#fff9f1 0.1%,#fff9f0 23.8%,#fef4e6 28.6%,#fde2bd 38.5%,#fbd5a2 44%,#f9bc86 51.7%,#f4905e 59%,#ee6a4a 67.2%,#e7583c 70%,#da3829 73.7%,#cb2027 79.2%,#bd1f25 83.7%,#a51c22 89.7%,#961a1f 99.9%)"></i><i style="background:linear-gradient(#fff9f1 0.1%,#fff9f0 24.1%,#fef4e6 28.8%,#fde2bd 38.8%,#fbd5a2 44.3%,#f9bc86 52%,#f4905e 59.2%,#ee6a4a 67.5%,#e7583d 70.2%,#e24932 71.9%,#d93728 74.2%,#cb2127 79.4%,#bc1f25 84.2%,#a51c22 89.9%,#971a1f 99.9%)"></i><i style="background:linear-gradient(#fff9f1 0.1%,#fff9f0 24.1%,#fef4e5 29.1%,#fde2bd 39%,#fbd5a2 44.5%,#f9bc86 52.2%,#f4905e 59.5%,#ee6a4a 67.7%,#e7593d 70.4%,#e24a32 72.2%,#da3729 74.4%,#cb2027 79.9%,#bd1f25 84.4%,#a51c22 90.1%,#991b20 99.9%)"></i><i style="background:linear-gradient(#fff9f1 0.1%,#fff9f0 24.3%,#fef4e6 29.1%,#fde2bd 39.3%,#fbd5a3 44.5%,#f9bc86 52.5%,#f4905e 59.7%,#ee6a4a 68%,#e8593d 70.7%,#e24a32 72.4%,#da3829 74.7%,#cb2127 80.2%,#bd1f25 84.9%,#a61c22 90.4%,#9a1b20 99.9%)"></i><i style="background:linear-gradient(#fff9f1 0.1%,#fff9f0 24.6%,#fef4e6 29.3%,#fde2bd 39.5%,#fbd5a2 44.8%,#f9bc86 52.7%,#f4905e 60%,#ee6b4a 68.2%,#e7573c 71.2%,#d93628 75.2%,#cb2027 80.7%,#bd1f25 85.2%,#a61d22 90.6%,#9b1b20 99.9%)"></i><i style="background:linear-gradient(#fff9f1 0.1%,#fff9f0 24.8%,#fef4e6 29.6%,#fde2bd 39.8%,#fbd5a2 45%,#f9bc86 53%,#f4905e 60.2%,#ee6b4a 68.5%,#e7573c 71.4%,#d93728 75.4%,#cb2027 80.9%,#be1f25 85.4%,#a61d22 90.9%,#9c1b20 99.9%)"></i><i style="background:linear-gradient(#fff9f1 0.1%,#fff9f0 24.8%,#fef4e5 29.8%,#fde2bc 40%,#fbd5a2 45.3%,#f9bc86 53%,#f4915f 60.2%,#ee6b4a 68.7%,#e7583c 71.7%,#d93728 75.7%,#cb2127 81.2%,#be1f25 85.7%,#a71d22 91.1%,#9d1b20 99.9%)"></i><i style="background:linear-gradient(#fff9f1 0.1%,#fff9f0 25.1%,#fef4e6 29.8%,#fde2bd 40%,#fbd5a2 45.5%,#f9bc86 53.2%,#f4905e 60.5%,#ee6a4a 69%,#e7573c 71.9%,#d93728 75.9%,#cb2027 81.7%,#bd1f25 86.2%,#a81d22 91.1%,#9e1b21 99.9%)"></i><i style="background:linear-gradient(#fff9f1 0.1%,#fff9f0 25.3%,#fef4e6 30%,#fde2bd 40.3%,#fbd5a2 45.5%,#f9bc86 53.5%,#f4905e 60.7%,#ee6a4a 69.2%,#e7573c 72.2%,#d93728 76.2%,#cb2027 81.9%,#be1f25 86.4%,#a81d22 91.4%,#9e1c21 99.9%)"></i><i style="background:linear-gradient(#fff9f1 0.1%,#fff9f0 25.3%,#fef4e6 30%,#fde2bd 40.5%,#fbd5a2 45.8%,#f9bc86 53.5%,#f48f5e 61%,#ee6a4a 69.5%,#e8593d 72.2%,#e24a32 73.9%,#d93628 76.4%,#cb2027 82.2%,#be1f25 86.4%,#a81d22 91.6%,#9f1c21 99.9%)"></i><i style="background:linear-gradient(#fff9f1 0.1%,#fff9f1 25.3%,#fef4e6 30.3%,#fde2bd 40.5%,#fbd5a3 45.8%,#f9bc86 53.7%,#f4905e 61%,#ee6a4a 69.7%,#e7583d 72.4%,#da3829 76.4%,#cb2127 82.2%,#be1f25 86.7%,#a91d22 91.6%,#a01c21 99.9%)"></i><i style="background:linear-gradient(#fff9f1 0.1%,#fff9f0 25.6%,#fef4e6 30.3%,#fde2bd 40.8%,#fbd5a2 46%,#f9bc86 53.7%,#f4905e 61.2%,#ee6a4a 69.7%,#e7583c 72.7%,#d93729 76.7%,#cb2027 82.4%,#be1f25 86.9%,#a91d23 91.6%,#a01c21 99.9%)"></i><i style="background:linear-gradient(#fff9f1 0.1%,#fff9f0 25.6%,#fef4e6 30.5%,#fde2bd 40.8%,#fbd5a2 46%,#f9bc86 54%,#f4905e 61.2%,#ee6a4a 70%,#e7573c 72.9%,#e24a32 74.4%,#d93628 76.9%,#cb2027 82.7%,#be1f25 86.9%,#a91d22 91.9%,#a11c21 99.9%)"></i><i style="background:linear-gradient(#fff9f1 0.1%,#fff9f0 25.8%,#fef4e6 30.5%,#fde2bd 41%,#fbd5a2 46.3%,#f9bc86 54%,#f4915e 61.2%,#ee6949 70.2%,#e7583c 72.9%,#da3729 76.9%,#cb2027 82.7%,#bf1f26 86.9%,#a91d23 91.9%,#a11c21 99.9%)"></i><i style="background:linear-gradient(#fff9f1 0.1%,#fff9f0 25.8%,#fef4e6 30.5%,#fde2bd 41%,#fbd5a2 46.3%,#f9bc86 54%,#f4905e 61.5%,#ee6a4a 70.2%,#e7573c 73.2%,#e24a32 74.7%,#d93628 77.2%,#cb2027 82.9%,#bf1f26 86.9%,#aa1d23 91.9%,#a21c21 99.9%)"></i><i style="background:linear-gradient(#fff9f1 0.1%,#fff9f0 25.8%,#fef4e5 30.8%,#fde2bd 41.3%,#fbd5a2 46.5%,#f9bb85 54.2%,#f4905e 61.5%,#ee6949 70.4%,#e7583c 73.2%,#d93728 77.2%,#cb2127 82.7%,#bf1f26 86.9%,#aa1d23 91.9%,#a21c21 99.9%)"></i><i style="background:linear-gradient(#fff9f1 0.1%,#fff9f1 25.8%,#fef4e6 30.8%,#fde2bd 41.3%,#fbd5a2 46.5%,#f9bc86 54.2%,#f4905e 61.5%,#ee6949 70.4%,#e7583d 73.2%,#d93728 77.2%,#cb2127 82.7%,#bf1f26 86.9%,#aa1d23 91.9%,#a21c21 99.9%)"></i><i style="background:linear-gradient(#fff9f1 0.1%,#fff9f1 25.8%,#fef4e6 30.8%,#fde2bd 41.3%,#fbd5a2 46.5%,#f9bc86 54.2%,#f4905e 61.5%,#ee694a 70.4%,#e7583d 73.2%,#d93728 77.2%,#cb2127 82.7%,#bf1f26 86.9%,#ab1d23 91.6%,#a31c21 99.9%)"></i><i style="background:linear-gradient(#fff9f1 0.1%,#fff9f0 26.1%,#fef4e6 30.8%,#fde2be 41.3%,#fbd5a2 46.5%,#f9bc86 54.2%,#f4905e 61.5%,#ee694a 70.4%,#e7583d 73.2%,#e24932 74.9%,#d93728 77.2%,#cb2127 82.7%,#bf1f26 86.9%,#ab1d23 91.6%,#a31c21 99.9%)"></i><i style="background:linear-gradient(#fff9f1 0.1%,#fff9f0 26.1%,#fef4e6 30.8%,#fde2bd 41.5%,#fbd5a2 46.5%,#f9bd87 54%,#f4905e 61.5%,#ee6949 70.4%,#e7583d 73.2%,#e24932 74.9%,#d93728 77.2%,#cb2027 82.7%,#c01f26 86.7%,#ab1d23 91.6%,#a31c22 99.9%)"></i><i style="background:linear-gradient(#fff9f1 0.1%,#fff9f0 26.1%,#fef4e6 30.8%,#fde2bd 41.5%,#fbd5a2 46.5%,#f9bc87 54%,#f4905e 61.5%,#ee6949 70.4%,#e7583d 73.2%,#e14931 74.9%,#d93628 77.2%,#cb2027 82.7%,#bf1f26 86.7%,#ab1d23 91.6%,#a31c22 99.9%)"></i><i style="background:linear-gradient(#fff9f1 0.1%,#fff9f0 26.1%,#fef4e6 30.8%,#fde2bd 41.5%,#fbd5a2 46.5%,#f9bc86 54%,#f4905e 61.5%,#ee6a4a 70.2%,#e7583c 73.2%,#e24a32 74.7%,#d93628 77.2%,#cb2127 82.4%,#bf1f26 86.7%,#ab1d23 91.4%,#a31c22 99.9%)"></i><i style="background:linear-gradient(#fff9f1 0.1%,#fff9f0 26.1%,#fef4e5 31%,#fde2bd 41.5%,#fbd5a2 46.5%,#f9bc86 54%,#f4905e 61.2%,#ee6a4a 70.2%,#e7593d 72.9%,#e24932 74.7%,#d93728 76.9%,#cb2027 82.4%,#bf1f26 86.4%,#ab1d23 91.4%,#a41c22 99.9%)"></i><i style="background:linear-gradient(#fff9f1 0.1%,#fff9f0 26.1%,#fef4e5 31%,#fde2bd 41.5%,#fbd5a2 46.5%,#f9bc86 54%,#f4905e 61.2%,#ee6949 70.2%,#e7583c 72.9%,#e24b32 74.4%,#d93628 76.9%,#cb2127 82.2%,#c01f26 86.2%,#ab1d23 91.4%,#a41c22 99.9%)"></i><i style="background:linear-gradient(#fff9f1 0.1%,#fff9f0 26.1%,#fef4e5 31%,#fde2bd 41.5%,#fbd5a2 46.5%,#f9bc86 53.7%,#f4905e 61%,#ee6a4a 70%,#e7583d 72.7%,#e24932 74.4%,#d93628 76.7%,#cb2027 82.2%,#ab1d23 91.1%,#a41c22 99.9%)"></i><i style="background:linear-gradient(#fff9f1 0.1%,#fff9f0 26.1%,#fef4e5 31%,#fde2be 41.3%,#fbd5a3 46.3%,#f9bc86 53.7%,#f4905e 61%,#ee6a4a 69.7%,#e7573c 72.7%,#d93728 76.4%,#cb2027 81.9%,#ab1d23 91.1%,#a41c22 99.9%)"></i><i style="background:linear-gradient(#fff9f1 0.1%,#fff9f0 26.1%,#fef4e5 31%,#fde2be 41.3%,#fbd5a2 46.3%,#f9bc86 53.5%,#f4905e 60.7%,#ee6949 69.7%,#e7583c 72.4%,#da3729 76.2%,#cb2027 81.7%,#ab1d23 90.9%,#a41c22 99.9%)"></i><i style="background:linear-gradient(#fff9f1 0.1%,#fff9f0 26.1%,#fef4e5 31%,#fde2be 41.3%,#fbd5a2 46.3%,#f9bd87 53.2%,#f4905e 60.5%,#ee6949 69.5%,#e7583c 72.2%,#e24b32 73.7%,#d93628 76.2%,#cb2127 81.4%,#ab1d23 90.9%,#a41c22 99.9%)"></i><i style="background:linear-gradient(#fff9f1 0.1%,#fff9f0 26.1%,#fef4e6 30.8%,#fde2be 41.3%,#fbd5a2 46%,#f9bc86 53.2%,#f4905e 60.2%,#ee6949 69.2%,#e7583c 71.9%,#e24b32 73.4%,#d93628 75.9%,#cb2127 81.2%,#ab1d23 90.6%,#a41c22 99.9%)"></i><i style="background:linear-gradient(#fff9f1 0.1%,#fff9f0 26.1%,#fef4e6 30.8%,#fde3be 41%,#fbd5a2 46%,#f9bc86 53%,#f4915e 60%,#ee6949 69%,#e7583c 71.7%,#e24a32 73.2%,#d93628 75.7%,#cc2127 80.9%,#ac1d23 90.4%,#a41c22 99.9%)"></i><i style="background:linear-gradient(#fff9f1 0.1%,#fff9f0 26.1%,#fef4e6 30.8%,#fde2be 41%,#fbd5a2 45.8%,#f9bc86 52.7%,#f4905e 59.7%,#ee6a4a 68.5%,#e7573c 71.4%,#da3729 75.2%,#cb2127 80.7%,#ab1d23 90.4%,#a41c22 99.9%)"></i><i style="background:linear-gradient(#fff9f1 0.1%,#fff9f0 26.1%,#fef4e6 30.8%,#fde3bf 40.8%,#fbd5a3 45.5%,#f9bc86 52.5%,#f4905e 59.5%,#ee6a4a 68.2%,#e7593d 70.9%,#e24932 72.7%,#d93728 74.9%,#cb2127 80.4%,#ac1d23 90.1%,#a41c22 99.9%)"></i><i style="background:linear-gradient(#fff9f1 0.1%,#fff9f0 26.1%,#fef4e6 30.8%,#fde3bf 40.5%,#fbd5a2 45.5%,#f9bc86 52.2%,#f4905e 59.2%,#ee6949 68%,#e7583c 70.7%,#d93628 74.7%,#cb2127 80.2%,#ac1d23 89.9%,#a41c22 99.9%)"></i><i style="background:linear-gradient(#fff9f1 0.1%,#fff9f0 26.1%,#fef4e6 30.8%,#fde3be 40.5%,#fbd5a2 45.3%,#f9bc86 52%,#f48f5e 59%,#ee6a4a 67.5%,#e8593d 70.2%,#e24a32 71.9%,#d93628 74.4%,#cb2027 79.9%,#ab1d23 89.9%,#a41c22 99.9%)"></i><i style="background:linear-gradient(#fff9f1 0.1%,#fff9f0 26.1%,#fef4e6 30.8%,#fde3bf 40.3%,#fbd5a2 45%,#f9bd87 51.5%,#f4905e 58.5%,#ee6949 67.2%,#e7583c 70%,#d93728 73.9%,#cb2027 79.7%,#ac1d23 89.7%,#a41c22 99.9%)"></i><i style="background:linear-gradient(#fff9f1 0.1%,#fff9f0 26.1%,#fef4e6 30.8%,#fde3bf 40%,#fbd5a2 44.8%,#f9bc86 51.2%,#f48f5e 58.2%,#ee6a4a 66.7%,#e7583d 69.5%,#e24932 71.2%,#d93628 73.7%,#cb2127 79.2%,#ac1d23 89.4%,#a41c22 99.9%)"></i><i style="background:linear-gradient(#fff9f1 0.1%,#fff9f0 26.1%,#fef4e6 30.8%,#fde3c0 39.5%,#fbd5a1 44.5%,#f9bc86 51%,#f4905e 57.7%,#ee6a4a 66.2%,#e7583d 69%,#e24a32 70.7%,#d93628 73.2%,#cb2027 78.9%,#ab1d23 89.4%,#a41c22 99.9%)"></i><i style="background:linear-gradient(#fff9f1 0.1%,#fff9f0 26.1%,#fef4e6 30.8%,#fde3c0 39.3%,#fbd5a2 44%,#f9bc86 50.5%,#f4905e 57.2%,#ee6a4a 65.7%,#e7593d 68.5%,#e24a32 70.2%,#d93728 72.7%,#cb2027 78.7%,#ab1d23 89.2%,#a41c22 99.9%)"></i><i style="background:linear-gradient(#fff9f1 0.1%,#fff9f0 26.1%,#fef4e5 30.8%,#fde4c1 38.8%,#fbd5a2 43.8%,#f9bc87 50%,#f4915f 56.7%,#ee6a4a 65.2%,#e7593d 68%,#e24a32 69.7%,#da3729 72.2%,#cb2127 78.2%,#ac1d23 88.9%,#a41c22 99.9%)"></i><i style="background:linear-gradient(#fff9f1 0.1%,#fff9f0 26.1%,#fef4e6 30.5%,#fde5c3 38%,#fbd5a2 43.3%,#f9bc86 49.8%,#f4915f 56.2%,#ee6a4a 64.7%,#e24a32 69.2%,#d93628 71.9%,#cb2027 77.9%,#ac1d23 88.7%,#a41c22 99.9%)"></i><i style="background:linear-gradient(#fff9f1 0.1%,#fff9f1 25.8%,#fef4e6 30.5%,#fee9cc 35.8%,#fde1bc 39%,#fbd5a2 43%,#f9bc86 49.3%,#f4915f 55.7%,#ee6a4a 64.2%,#e24a32 68.7%,#d93628 71.4%,#cb2027 77.7%,#ac1d23 88.4%,#a41c22 99.9%)"></i><i style="background:linear-gradient(#fff9f1 0.1%,#fff9f1 25.8%,#fef4e6 30.3%,#fee9cc 35.5%,#fde2bc 38.5%,#fbd5a2 42.5%,#f9bc86 48.8%,#f4905e 55.2%,#ee694a 63.7%,#e24a32 68.2%,#d93628 70.9%,#cb2027 77.2%,#ac1d23 88.2%,#a41c22 99.9%)"></i><i style="background:linear-gradient(#fff9f1 0.1%,#fff9f1 25.1%,#fef4e5 30.3%,#fde0b9 38.5%,#fbd5a2 42%,#f9bd87 48%,#f4905e 54.7%,#ee6a4a 63%,#e24932 67.7%,#da3729 70.2%,#cb2027 76.9%,#ab1d23 88.2%,#a41c22 99.9%)"></i><i style="background:linear-gradient(#fff9f1 0.1%,#fff9f1 24.8%,#fef4e5 30%,#fde0b9 38%,#fbd5a1 41.5%,#f9bc86 47.5%,#f4915f 54%,#ee6a4a 62.5%,#e24a32 67%,#d93728 69.7%,#cb2027 76.4%,#ab1d23 87.9%,#a41c22 99.9%)"></i><i style="background:linear-gradient(#fff9f1 0.1%,#fff9f1 24.6%,#fef4e5 29.8%,#fde2be 36.8%,#fbd5a2 40.8%,#f9bc86 47%,#f4905e 53.5%,#ee6a4a 61.7%,#e24a32 66.5%,#d93728 69.2%,#cb2027 75.9%,#ab1d23 87.7%,#a41c22 99.9%)"></i><i style="background:linear-gradient(#fff9f1 0.1%,#fff9f1 24.3%,#fef4e6 29.3%,#fde3bf 36%,#fbd5a2 40.3%,#f9bc86 46.3%,#f4905e 52.7%,#ee6949 61.2%,#e24b32 65.7%,#da3829 68.5%,#cb2027 75.4%,#ab1d23 87.4%,#a41c22 99.9%)"></i><i style="background:linear-gradient(#fff9f1 0.1%,#fff9f0 24.6%,#fef4e6 28.8%,#fde4c2 34.8%,#fbd5a2 39.5%,#f9bc87 45.5%,#f4915f 52%,#ee6a4a 60.5%,#e24a32 65.2%,#d93628 68.2%,#cb2027 75.2%,#ac1d23 87.2%,#a41c22 99.9%)"></i><i style="background:linear-gradient(#fff9f1 0.1%,#fff9f0 24.1%,#fef4e6 28.3%,#fde5c5 33.8%,#fbd5a2 38.8%,#f9bc87 44.8%,#f4915e 51.2%,#ee6a4a 59.7%,#e24a32 64.5%,#d93728 67.5%,#cb2027 74.7%,#ac1d23 86.9%,#a41c22 99.9%)"></i><i style="background:linear-gradient(#fff9f1 0.1%,#fff9f0 23.6%,#fef4e6 27.8%,#fee9cb 32%,#fbd5a2 38%,#f9bc86 44%,#f4905e 50.5%,#ee6a4a 59%,#e24932 64%,#d93628 67%,#cb2027 74.2%,#ac1d23 86.7%,#a41c22 99.9%)"></i><i style="background:linear-gradient(#fff9f1 0.1%,#fff9f0 23.1%,#fef4e7 27.1%,#fee9cc 31.3%,#fbd5a2 37.3%,#f9bc86 43.3%,#f4905e 49.8%,#ee6a4a 58.2%,#e24a32 63.2%,#d93728 66.2%,#cb2027 73.7%,#ac1d23 86.4%,#a41c22 99.9%)"></i><i style="background:linear-gradient(#fff9f1 0.1%,#fff9f0 22.6%,#fef4e6 26.6%,#fee9cc 30.5%,#fbd5a1 36.5%,#f9bc86 42.3%,#f4905e 48.8%,#ee6a4a 57.5%,#e24a32 62.5%,#d93628 65.7%,#cb2027 73.2%,#ac1d23 86.2%,#a41c22 99.9%)"></i><i style="background:linear-gradient(#fff9f1 0.1%,#fff9f0 21.8%,#fef4e6 26.1%,#fee9cc 29.8%,#fbd5a2 35.5%,#f9bc86 41.3%,#f4915f 47.8%,#ee6a4a 56.7%,#e24b32 61.7%,#d93728 65%,#cb2027 72.7%,#ac1d23 85.9%,#a41c22 99.9%)"></i><i style="background:linear-gradient(#fff9f1 0.1%,#fff9f0 21.3%,#fef4e7 25.3%,#fee9cd 29.1%,#fbd5a2 34.8%,#f9bc86 40.3%,#f4905e 47%,#ee6a4a 56%,#e24932 61.2%,#d93628 64.5%,#cb2027 72.4%,#ab1d23 85.9%,#a41c22 99.9%)"></i><i style="background:linear-gradient(#fff9f1 0.1%,#fff9f1 20.3%,#fef6eb 23.6%,#fef3e3 25.3%,#fbd5a2 33.8%,#f9bd87 39.3%,#f4905e 46%,#ee694a 55.2%,#e24a32 60.5%,#d93728 63.7%,#cb2027 71.9%,#ab1d23 85.7%,#a41c22 99.9%)"></i><i style="background:linear-gradient(#fff9f1 0.1%,#fff9f1 19.6%,#fef6eb 22.8%,#fef3e4 24.6%,#fbd5a2 33%,#f9bc86 38.5%,#f4905e 45%,#ee6949 54.5%,#e24a32 59.7%,#d93628 63.2%,#cb2027 71.4%,#ab1d23 85.4%,#a41c22 99.9%)"></i><i style="background:linear-gradient(#fff9f1 0.1%,#fff9f1 19.1%,#fef6eb 22.3%,#fef3e5 23.8%,#fbd5a3 32%,#f9bc86 37.5%,#f4915f 44%,#ee6a4a 53.5%,#e24b33 59%,#d93728 62.5%,#cb2027 70.9%,#ab1d23 85.2%,#a41c22 99.9%)"></i><i style="background:linear-gradient(#fff9f1 0.1%,#fff9f1 18.6%,#fef6eb 21.8%,#fef3e4 23.3%,#fbd4a1 31.5%,#f9bc86 36.8%,#f4905e 43.3%,#ee6a4a 53%,#e24a32 58.5%,#d93728 62%,#cb2027 70.7%,#ab1d23 84.9%,#a41c22 99.9%)"></i></div>
<div class="hc"><i style="background:linear-gradient(90deg,#fff9f1 0.1%,#fff9f1 99.9%)"></i><i style="background:linear-gradient(90deg,#fff9f1 0.1%,#fff9f1 99.9%)"></i><i style="background:linear-gradient(90deg,#fff9f1 0.1%,#fff9f1 99.9%)"></i><i style="background:linear-gradient(90deg,#fff9f1 0.1%,#fff9f1 99.9%)"></i><i style="background:linear-gradient(90deg,#fff9f1 0.1%,#fff9f1 99.9%)"></i><i style="background:linear-gradient(90deg,#fff9f1 0.1%,#fff9f1 99.9%)"></i><i style="background:linear-gradient(90deg,#fff9f1 0.1%,#fff8ef 11%,#fff9f1 15.3%,#fff9f1 99.9%)"></i><i style="background:linear-gradient(90deg,#fff9f1 0.1%,#fff7ed 11%,#fff9f1 15.8%,#fff9f1 54.9%,#fff8ee 59.7%,#fff9f1 64.5%,#fff9f1 99.9%)"></i><i style="background:linear-gradient(90deg,#fff9f1 0.1%,#fff9f1 5.6%,#fef6eb 11%,#fff9f1 16.2%,#fff9f1 54.5%,#fff7ed 59.7%,#fff9f1 65.1%,#fff9f1 99.9%)"></i><i style="background:linear-gradient(90deg,#fff9f1 0.1%,#fff9f1 5.2%,#fef6e9 11%,#fff9f1 16.7%,#fff9f1 53.9%,#fef6eb 59.7%,#fff9f1 65.5%,#fff9f1 99.9%)"></i><i style="background:linear-gradient(90deg,#fff9f1 0.1%,#fff9f1 4.8%,#fef3e5 10.9%,#fff9f1 17%,#fff9f1 53.5%,#fef5e9 59.7%,#fff9f1 65.8%,#fff9f1 99.9%)"></i><i style="background:linear-gradient(90deg,#fff9f1 0.1%,#fff9f1 4.1%,#fff7ed 6.2%,#fef5e8 8.2%,#fef0dd 9.8%,#feefda 10.8%,#fef0dc 11.8%,#fef5e9 13.8%,#fff9f1 17.2%,#fff9f1 53.1%,#fef3e3 59.6%,#fff9f1 66.2%,#fff9f1 99.9%)"></i><i style="background:linear-gradient(90deg,#fff9f1 0.1%,#fff9f1 3.8%,#fef6ea 7%,#fef4e6 7.6%,#feecd3 9.4%,#feeace 10.6%,#feecd4 12.1%,#fef5e8 14.2%,#fff9f1 17.4%,#fff9f1 52.8%,#fef5e9 56.5%,#feefda 58.4%,#feeed7 59.5%,#feefda 60.6%,#fef5e8 62.8%,#fff9f1 66.4%,#fff9f1 99.9%)"></i><i style="background:linear-gradient(90deg,#fff9f1 0.1%,#fff9f1 3.5%,#fef5e9 6.5%,#fef3e5 7.1%,#fee8ca 9%,#fde4c2 10.5%,#fee9cb 12.3%,#fef5e8 14.7%,#fff9f1 17.7%,#fff9f1 52.6%,#fef5e8 55.9%,#feead0 58%,#fee8ca 59.4%,#feebd1 60.9%,#fef5e8 63.4%,#fff9f1 66.6%,#fff9f1 99.9%)"></i><i style="background:linear-gradient(90deg,#fff9f1 0.1%,#fff9f1 3.2%,#fef5e8 6.1%,#fef4e6 6.4%,#fde3c0 8.8%,#fde0b8 9.6%,#fcdfb6 10.4%,#fde0ba 11.4%,#fde5c3 12.5%,#fef4e7 15%,#fff9f1 17.9%,#fff9f1 52.2%,#fef5e7 55.5%,#fee6c6 57.7%,#fde2bd 59.3%,#fee7c7 61%,#fef4e7 63.8%,#fff9f1 66.8%,#fff9f1 98.2%,#fff8ef 99.2%,#fff9f1 99.9%)"></i><i style="background:linear-gradient(90deg,#fff9f1 0.1%,#fff9f1 2.8%,#fef5e8 5.6%,#fef3e5 6%,#fee7c8 7.4%,#fcdeb4 8.6%,#fcd9aa 9.5%,#fbd8a7 10.3%,#fcdaac 11.3%,#fde2bc 12.8%,#fee9cc 13.9%,#fef4e6 15.3%,#fff9f1 18.1%,#fff9f0 52%,#fef4e7 55%,#fde1bc 57.5%,#fcdcb1 58.4%,#fcdbae 59.1%,#fcdcb1 59.9%,#fde2bc 61%,#fef4e7 64.3%,#fff9f1 67.1%,#fff9f1 98.2%,#fff8ee 99.2%,#fff9f1 99.9%)"></i><i style="background:linear-gradient(90deg,#fff9f1 0.1%,#fff9f0 2.6%,#fef5e7 5.3%,#fbd6a4 8.8%,#face9a 10.2%,#fbd5a3 11.8%,#fee6c6 14%,#fef4e6 15.7%,#fff9f1 18.3%,#fff8ef 52.5%,#fef4e6 54.6%,#fbd6a3 57.9%,#fbd09d 59%,#fbd5a2 60.1%,#fef4e6 64.6%,#fff9f0 67.3%,#fff9f1 98.2%,#fff8ee 99.3%,#fff9f1 99.9%)"></i><i style="background:linear-gradient(90deg,#fff9f1 0.1%,#fff9f0 2.3%,#fef5e8 4.8%,#fbd4a1 8.1%,#fac894 9.2%,#fac48f 10.2%,#fac893 11.2%,#fbd5a2 12.5%,#fef4e7 16%,#fff9f0 18.2%,#fff9f0 51.2%,#fef4e6 54.1%,#fde0ba 56.1%,#fbd3a0 57.1%,#fac893 58%,#fac48f 58.9%,#fac792 59.8%,#fbd19e 60.8%,#fcdfb7 62%,#fef4e6 64.9%,#fff8f0 67.3%,#fff9f1 98%,#fff8ee 99.3%,#fff9f1 99.9%)"></i><i style="background:linear-gradient(90deg,#fff9f1 0.1%,#fff9f0 2.2%,#fef5e7 4.5%,#fbd5a2 7.4%,#f9c18c 8.9%,#f9b883 10.1%,#f9c08a 11.3%,#fbd5a2 13.1%,#fef4e7 16.2%,#fff8f0 18.2%,#fff9f0 51%,#fef6eb 53%,#fef4e5 53.8%,#fcdeb4 55.8%,#fbd4a1 56.4%,#fac692 57%,#f9b983 58%,#f8b47f 58.8%,#f9b883 59.6%,#fac893 60.9%,#fbd4a1 61.7%,#fcddb3 62.4%,#fef4e6 65.3%,#fff8ee 66.8%,#fff9f1 68.4%,#fff9f1 97.9%,#fff8ee 99.3%,#fff9f1 99.9%)"></i><i style="background:linear-gradient(90deg,#fff9f1 0.1%,#fff8ee 2.6%,#fef4e7 4.2%,#fbd3a0 7%,#f9bd87 8.4%,#f7ad78 9.2%,#f6a571 10.1%,#f7ac77 10.9%,#f9bc86 11.8%,#fbd5a2 13.5%,#fef4e6 16.4%,#fff8ee 17.8%,#fff9f1 19.5%,#fff9f1 49.8%,#fff8ee 51.6%,#fef4e6 53.3%,#fcdbaf 55.5%,#facc97 56.1%,#f8b47f 57.1%,#f7a773 57.9%,#f6a26e 58.8%,#f6a571 59.5%,#f8b07b 60.3%,#fbd19e 62%,#fcdeb6 62.9%,#fef4e5 65.5%,#fff7ee 66.9%,#fff9f1 68.6%,#fff9f1 97.9%,#fff7ed 99.4%,#fff9f1 99.9%)"></i><i style="background:linear-gradient(90deg,#fff9f1 0.1%,#fff8ee 2.5%,#fef4e5 4%,#fbd5a2 6.4%,#f9bc86 7.9%,#f59b68 9%,#f49461 9.4%,#f4915f 9.9%,#f49360 10.3%,#f59a67 10.9%,#f9bc86 12.3%,#fbd6a3 14%,#fef3e4 16.6%,#fff8ee 17.9%,#fff9f1 19.7%,#fff9f1 49.4%,#fff8ee 51.3%,#fef4e5 53%,#fde2bd 54.6%,#fcdbaf 55%,#faca95 55.7%,#f7ac77 56.7%,#f59765 57.8%,#f4905e 58.8%,#f59562 59.6%,#f6a470 60.5%,#f9bd87 61.5%,#fbd4a0 62.6%,#fcddb2 63.2%,#fef4e6 65.8%,#fff7ee 67.2%,#fff9f1 68.8%,#fff9f1 98.2%,#fff7ed 99.4%,#fff9f0 99.9%)"></i><i style="background:linear-gradient(90deg,#fff9f1 0.1%,#fff7ed 2.3%,#fef4e6 3.6%,#fbd5a3 6%,#f9bd87 7.3%,#f4915f 8.5%,#f28357 9.2%,#f17f55 9.8%,#f28357 10.4%,#f4915f 11.2%,#f9bd87 12.8%,#fbd4a1 14.2%,#fef4e7 16.9%,#fff9f1 19.2%,#fff9f1 49.1%,#fef6eb 51.7%,#fef3e4 52.7%,#fcdeb4 54.5%,#fbd4a1 54.9%,#f8b37e 55.9%,#f59c69 56.7%,#f48f5d 57.4%,#f28558 58.1%,#f28156 58.8%,#f28558 59.6%,#f4925f 60.4%,#f9bc86 61.9%,#fbd3a0 62.9%,#fcddb2 63.5%,#fef4e6 66.1%,#fff7ed 67.3%,#fff9f1 69.2%,#fff9f1 98.2%,#fff8ee 99.9%)"></i><i style="background:linear-gradient(90deg,#fff9f1 0.1%,#fff7ed 2.1%,#fef4e6 3.3%,#fbd5a1 5.6%,#f9bd87 6.9%,#f4905e 8%,#f07952 8.8%,#ef714e 9.6%,#f07751 10.5%,#f48f5e 11.6%,#f9bc86 13.1%,#fbd5a2 14.5%,#fcdbaf 15%,#fef4e6 17%,#fff7ed 18%,#fff9f1 19.5%,#fff9f1 48.8%,#fef6ea 51.6%,#fef3e3 52.3%,#fde2bd 53.8%,#fcdbae 54.2%,#f9bd87 55.2%,#f7ae79 55.6%,#f4905e 56.6%,#f17b53 57.8%,#f0744f 58.8%,#f17a53 59.8%,#f4915f 60.9%,#f9bd87 62.4%,#fbd3a0 63.3%,#fcdcb0 63.7%,#fef4e5 66.3%,#fff7ed 67.5%,#fff9f1 69.5%,#fff9f1 98.2%,#fff7ed 99.9%)"></i><i style="background:linear-gradient(90deg,#fff9f1 0.1%,#fff7ed 1.8%,#fef4e6 3%,#fcddb3 4.7%,#fbd4a1 5.3%,#f9ba84 6.5%,#f48f5e 7.5%,#f17b53 8.1%,#ef724e 8.4%,#ee6c4b 8.9%,#ee6949 9.5%,#ef724e 10.9%,#f48e5d 12%,#f9bd87 13.4%,#fbd5a2 14.8%,#fcdbaf 15.2%,#fef4e6 17.2%,#fff7ed 18.2%,#fff9f1 19.7%,#fff9f1 48.4%,#fef6ea 51.2%,#fef3e3 52%,#fde2bc 53.5%,#fcdaac 53.9%,#f9bf89 54.8%,#f7ab77 55.2%,#f4915f 56%,#f17f55 56.8%,#ef734f 57.5%,#ee6c4b 58.8%,#ef6e4c 59.6%,#f0744f 60.1%,#f4915f 61.4%,#f9bd87 62.7%,#fbd4a1 63.6%,#fcddb2 64%,#fef4e5 66.5%,#fff7ed 67.7%,#fff9f1 69.4%,#fff9f1 97.8%,#fff7ed 99.9%)"></i><i style="background:linear-gradient(90deg,#fff9f0 0.1%,#fef4e7 2.6%,#fcd9ab 4.6%,#fbd4a0 5%,#f9bc86 6.1%,#f48d5c 7.2%,#f07851 7.7%,#ef6f4d 8.1%,#eb6345 8.9%,#ea6042 9.4%,#eb6344 10.1%,#ef704d 11.2%,#f48e5d 12.3%,#f9bc86 13.7%,#fbd5a2 15%,#fcdcb0 15.4%,#fef4e6 17.4%,#fff9f1 19.9%,#fff9f1 48.1%,#fef6ea 50.9%,#fef2e2 51.7%,#fde1bc 53.1%,#fcdaac 53.6%,#f9be88 54.5%,#f6a571 55%,#f4915f 55.6%,#f17c54 56.4%,#ef714e 56.9%,#ed6747 57.9%,#ec6345 58.6%,#ec6647 59.3%,#ef704d 60.4%,#f07852 60.8%,#f4905e 61.7%,#f9be88 63%,#fbd3a0 63.8%,#fcdcb1 64.3%,#fef4e5 66.7%,#fff7ed 67.9%,#fff9f1 69.6%,#fff9f1 97.7%,#fff7ed 99.9%)"></i><i style="background:linear-gradient(90deg,#fff8f0 0.1%,#fef6eb 1.6%,#fef4e6 2.4%,#fbd6a3 4.5%,#f9bc86 5.7%,#f4915e 6.7%,#f28357 7.1%,#ef734f 7.5%,#eb6244 8.3%,#e85a3e 8.9%,#e7563b 9.4%,#e95c3f 10.2%,#ef704d 11.5%,#f4905e 12.7%,#f9bc86 13.9%,#fbd5a2 15.2%,#fcdaad 15.6%,#fef4e6 17.7%,#fff9f1 20.1%,#fff9f1 47.8%,#fef6ea 50.6%,#fef2e1 51.3%,#fde1bc 52.8%,#fcdaac 53.2%,#f9bf89 54.1%,#f6a571 54.7%,#f48f5d 55.2%,#f17b53 55.9%,#ef6f4d 56.5%,#ea6043 57.6%,#e85b3f 58.5%,#ea5f42 59.4%,#ef6f4d 60.7%,#f07851 61.1%,#f48e5d 61.9%,#f9bd87 63.3%,#fbd3a0 64%,#fcdcb1 64.5%,#fef4e5 66.9%,#fff7ed 68.2%,#fff9f1 69.8%,#fff9f1 97.5%,#fff7ec 99.9%)"></i><i style="background:linear-gradient(90deg,#fff8ef 0.1%,#fef4e6 2.1%,#fbd6a4 4.2%,#f9bb85 5.4%,#f38c5c 6.5%,#ef734f 7.2%,#ea5f42 8%,#e55339 8.6%,#e34d34 9.3%,#e6543a 10.2%,#ef6f4d 11.8%,#f4905e 12.9%,#f9bc86 14.1%,#fbd4a1 15.3%,#fcdbaf 15.8%,#fef4e6 17.9%,#fff9f1 20.3%,#fff9f1 47.4%,#fef6e9 50.3%,#fef4e6 50.8%,#fef0dc 51.2%,#fde0b9 52.6%,#fbd8a8 53%,#f9bc86 53.9%,#f6a571 54.3%,#f48e5d 54.9%,#f07650 55.7%,#eb6345 56.7%,#e7573b 57.6%,#e55238 58.4%,#e7583d 59.4%,#ef6f4d 61%,#f07952 61.5%,#f4905e 62.3%,#f9bd87 63.5%,#fcdaad 64.6%,#fde0ba 65.1%,#fef4e5 67.2%,#fff7ed 68.3%,#fff9f1 70.1%,#fff9f1 97.2%,#fef6eb 99.9%)"></i><i style="background:linear-gradient(90deg,#fff8ee 0.1%,#fef4e6 1.7%,#fde3bf 3.1%,#fbd6a5 3.8%,#f9bb85 5.1%,#f38d5c 6.2%,#ef734f 6.9%,#e7583d 7.9%,#e24932 8.6%,#e0452f 9.3%,#e34d34 10.2%,#ef6f4d 12%,#f4905e 13.1%,#f9bc86 14.3%,#fcd8a9 15.8%,#fde3c0 16.6%,#fef4e6 18.1%,#fff9f1 20.6%,#fff9f1 47%,#fef5e9 50%,#fef4e5 50.4%,#fef0dc 50.9%,#fde0ba 52.2%,#fcd8a9 52.7%,#f9bd88 53.6%,#f48e5d 54.6%,#f0744f 55.4%,#e95d40 56.5%,#e34e35 57.5%,#e24a32 58.2%,#e45037 59.3%,#ef714d 61.4%,#f4905e 62.5%,#f9bd87 63.7%,#fbd4a0 64.5%,#fcdbae 64.8%,#fde1bb 65.3%,#fef4e6 67.4%,#fff7ed 68.5%,#fff9f1 70.2%,#fff9f1 96.8%,#fef5e9 99.9%)"></i><i style="background:linear-gradient(90deg,#fff7ed 0.1%,#fef5e9 1.1%,#fef3e4 1.5%,#fde2bd 2.8%,#fbd5a2 3.6%,#f9bc86 4.7%,#f48e5d 5.9%,#ef714e 6.6%,#e45137 7.7%,#de412e 8.5%,#dc3c2b 9.2%,#dd402d 9.8%,#e44f35 10.6%,#ef724e 12.3%,#f48d5d 13.2%,#f9bd87 14.5%,#fbd4a0 15.7%,#fcd9ab 16%,#fde4c1 16.8%,#fef4e5 18.3%,#fff7ec 19.3%,#fff9f1 20.8%,#fff9f1 46.7%,#fef5e9 49.7%,#fef4e5 50.1%,#feecd4 50.9%,#fddfb7 52%,#fbd7a6 52.5%,#f9bb85 53.3%,#f48f5d 54.2%,#ef734f 55%,#e6553a 56.4%,#e04730 57.2%,#de412e 58.1%,#e24a32 59.3%,#ef714d 61.6%,#f4905e 62.7%,#f9be88 63.9%,#fbd5a1 64.7%,#fcdcb0 65.1%,#fde1bb 65.5%,#fef4e6 67.6%,#fff7ed 68.7%,#fff9f1 70.4%,#fff9f1 96.5%,#fef5e7 99.9%)"></i><i style="background:linear-gradient(90deg,#fff7ec 0.1%,#fef3e4 1.2%,#fde2bd 2.5%,#fbd5a2 3.3%,#f9bc86 4.4%,#f4905e 5.5%,#ee6949 6.6%,#e24932 7.6%,#db392a 8.4%,#d73328 9.1%,#da3829 9.6%,#e24932 10.6%,#ee6a4a 12.1%,#ef734f 12.5%,#f48f5d 13.4%,#f9bb85 14.7%,#fcd9aa 16.1%,#fde3c0 16.9%,#fef4e5 18.6%,#fff7ec 19.6%,#fff9f1 21%,#fff9f1 46.3%,#fef5e9 49.3%,#fef3e3 49.9%,#fde5c4 51.2%,#fcdeb5 51.8%,#fbd5a3 52.2%,#f9bd88 53%,#f4905e 53.9%,#f38b5c 54%,#ef734f 54.7%,#e34d34 56.2%,#dd3e2c 57.1%,#da392a 57.9%,#dc3d2c 58.7%,#e34e35 59.8%,#ef734f 61.9%,#f48e5d 62.8%,#f9bc86 64%,#fcdaad 65.2%,#fde0ba 65.6%,#fef3e5 67.7%,#fff7ed 68.8%,#fff9f1 70.5%,#fff9f1 96.3%,#fef6ea 99.1%,#fef2e1 99.9%)"></i><i style="background:linear-gradient(90deg,#fef6ea 0.1%,#fef4e7 0.6%,#fef2e1 0.9%,#fcdcb0 2.6%,#fbd3a0 3.1%,#f9bd87 4.1%,#f4925f 5.2%,#ee6b4a 6.3%,#e24b33 7.2%,#d73228 8.2%,#d12a27 9%,#d42f28 9.5%,#da3729 10%,#e24a32 10.9%,#ee6949 12.2%,#ef724e 12.7%,#f48d5c 13.5%,#f9bd87 14.9%,#fbd4a1 16%,#fde0b9 16.8%,#fef3e3 18.7%,#fff7ec 19.8%,#fff9f1 21.6%,#fff9f1 46%,#fff7ed 48%,#fef4e6 49.3%,#fde2bc 51.2%,#fbd6a5 51.9%,#f9bc86 52.8%,#f49360 53.6%,#f3895a 53.8%,#ef734f 54.3%,#e14831 56%,#d93528 57%,#d53028 57.8%,#d83428 58.5%,#e24b33 59.9%,#ef724e 62%,#f4905e 63%,#f9be88 64.3%,#fbd4a1 65.1%,#fcdbaf 65.4%,#fde1bb 65.8%,#fef4e6 67.9%,#fff7ed 69.1%,#fff9f1 70.7%,#fff9f1 96%,#fef5e9 98.9%,#fef4e6 99.3%,#feeed7 99.9%)"></i><i style="background:linear-gradient(90deg,#fef5e8 0.1%,#fef1e0 0.6%,#fcdeb4 2.2%,#fbd4a1 2.7%,#f9bd87 3.7%,#f48f5e 5%,#ee6a4a 6.1%,#e14831 7%,#da3729 7.5%,#d02927 8.1%,#cc2127 8.8%,#ce2527 9.3%,#da3829 10.2%,#e24b33 11.1%,#ed6849 12.3%,#f17d54 13.2%,#f48f5e 13.8%,#f9bc86 15%,#fbd6a4 16.2%,#fde0b8 16.9%,#fef3e4 18.9%,#fff7ec 20%,#fff9f1 21.7%,#fff9f1 45.5%,#fff7ed 47.5%,#fef4e6 49%,#fde1bb 51%,#fbd5a2 51.7%,#f9ba84 52.6%,#f4905e 53.3%,#f28156 53.7%,#ef714e 54.1%,#df442f 55.8%,#d93729 56.4%,#d32c28 56.9%,#cf2627 57.6%,#d12a27 58.1%,#d93628 58.9%,#e24932 60%,#ee6a4a 61.7%,#f0744f 62.3%,#f48f5d 63.2%,#f9bd87 64.4%,#fbd8a9 65.4%,#fde0ba 65.9%,#fef5e7 68.3%,#fff9f1 70.7%,#fff9f1 95.6%,#fef5e8 98.7%,#fef3e3 99.1%,#feeacd 99.9%)"></i><i style="background:linear-gradient(90deg,#fef3e3 0.1%,#fcdcb1 2%,#fbd4a1 2.4%,#f9bd88 3.4%,#f4915f 4.6%,#ed6849 5.9%,#e24932 6.6%,#d93728 7.2%,#cc2227 7.9%,#c62026 8.4%,#cc2127 9.4%,#d93728 10.3%,#e14831 11.1%,#ee6a4a 12.5%,#f07952 13.2%,#f49260 14%,#f9bb85 15.1%,#fbd5a3 16.3%,#fddfb8 17%,#fef3e4 19.1%,#fff7ed 20.2%,#fff9f1 21.9%,#fff9f1 45.2%,#fff7ed 47.2%,#fef4e6 48.7%,#fde1bc 50.7%,#fbd6a5 51.3%,#f9bd87 52.2%,#f49461 53%,#f17f55 53.5%,#ef724e 53.8%,#e24931 55.2%,#da3829 55.9%,#cc2127 56.9%,#c82027 57.4%,#cc2127 58%,#d93628 59.1%,#e14831 60.1%,#ef734f 62.4%,#f48e5d 63.3%,#f9bc87 64.5%,#fbd7a7 65.5%,#fde0b9 66.1%,#fef4e7 68.4%,#fff9f1 71%,#fff9f1 95.4%,#fef5e7 98.4%,#fde5c4 99.9%)"></i><i style="background:linear-gradient(90deg,#feefd9 0.1%,#fcdaad 1.7%,#fbd5a2 2.1%,#f9bb85 3.2%,#f48f5e 4.4%,#ee6b4b 5.5%,#e14831 6.4%,#da3829 6.9%,#cb2027 7.5%,#be1f25 8.4%,#c21f26 9%,#cb2027 9.5%,#d93628 10.4%,#e24a32 11.3%,#ee6a4a 12.7%,#f07550 13.2%,#f4915f 14.1%,#f9bd87 15.3%,#fbd5a2 16.4%,#fddfb7 17.1%,#fef4e5 19.3%,#fff7ed 20.5%,#fff9f1 22%,#fff9f1 44.9%,#fff7ed 46.9%,#fef4e6 48.3%,#fde0ba 50.4%,#fbd5a2 51.1%,#f9bb85 52%,#f4915f 52.8%,#f07851 53.3%,#e04730 55%,#d83528 55.7%,#cb2027 56.5%,#c11f26 57.4%,#c31f26 57.8%,#cb2027 58.2%,#d93628 59.4%,#e24b33 60.5%,#ee6949 61.9%,#ef734f 62.5%,#f48e5d 63.4%,#f9bc86 64.6%,#fcd9aa 65.7%,#fddfb8 66.2%,#fef5e7 68.6%,#fff9f1 71.1%,#fff9f1 95%,#fef4e7 98%,#fde0ba 99.9%)"></i><i style="background:linear-gradient(90deg,#feeacf 0.1%,#fde1ba 0.9%,#fbd7a6 1.6%,#f9bc86 2.8%,#f4915f 4.1%,#ee6b4a 5.3%,#e14730 6.2%,#d93628 6.6%,#cc2127 7.2%,#b71e25 8.4%,#ba1f25 8.9%,#cb2027 9.6%,#d93628 10.5%,#e24a32 11.4%,#ee694a 12.8%,#f17b53 13.5%,#f4905e 14.2%,#f9bd87 15.4%,#fbd5a2 16.6%,#fcdfb7 17.2%,#fef3e4 19.5%,#fff7ed 20.6%,#fff9f1 22.1%,#fff9f1 44.5%,#fff7ed 46.5%,#fef4e5 48%,#fde1bb 50.1%,#fcddb2 50.4%,#fbd4a0 50.9%,#f9bd88 51.7%,#f48f5e 52.6%,#f07751 53.1%,#e14831 54.7%,#d83528 55.4%,#cc2227 56%,#ba1f25 57.2%,#bb1f25 57.7%,#cb2027 58.5%,#d93729 59.6%,#e24a32 60.6%,#ed6949 62%,#ef734f 62.6%,#f48e5d 63.5%,#f9bc86 64.7%,#fcd8a9 65.8%,#fde0b9 66.4%,#fef4e7 68.7%,#fff7ed 69.8%,#fff9f1 71.3%,#fff9f0 94.8%,#fef4e6 97.7%,#fcdbaf 99.9%)"></i><i style="background:linear-gradient(90deg,#fee6c6 0.1%,#fcdfb6 0.7%,#fbd7a5 1.3%,#f9bc87 2.5%,#f49260 3.7%,#ee6a4a 5.1%,#e04730 6%,#d93528 6.4%,#cb2027 7%,#b01e24 8.4%,#b41e24 8.8%,#cb2027 9.8%,#d93628 10.6%,#e24a32 11.5%,#ee6949 12.9%,#f17b53 13.7%,#f4905e 14.3%,#f9bd87 15.6%,#fbd5a2 16.7%,#fcdfb7 17.3%,#fef4e6 19.7%,#fff7ed 20.8%,#fff9f1 22.2%,#fff9f1 44.2%,#fff7ed 46.2%,#fef4e5 47.7%,#fde0b9 49.9%,#fbd5a2 50.6%,#f9bc86 51.4%,#f48e5d 52.3%,#f07550 52.9%,#e24932 54.3%,#d93628 55%,#ca2027 55.8%,#b21e24 57.2%,#b61e24 57.7%,#cc2127 58.7%,#d93628 59.7%,#e24932 60.7%,#ed6949 62.2%,#ef734f 62.7%,#f48e5d 63.6%,#f9bc86 64.8%,#fbd8a8 65.9%,#fde0b9 66.5%,#fef5e7 69%,#fff9f1 71.4%,#fff9f1 93.6%,#fff8ee 95.5%,#fef3e5 97.4%,#fbd5a2 99.9%)"></i><i style="background:linear-gradient(90deg,#fde1bc 0.1%,#fbd4a1 1.1%,#f9bd87 2.2%,#f4905e 3.5%,#ee6949 4.8%,#e24b33 5.6%,#db3a2a 6.1%,#ca2027 6.7%,#af1e23 8.1%,#ab1d23 8.4%,#cb2027 9.9%,#d93628 10.8%,#e24a32 11.6%,#ee6949 13%,#f17b53 13.8%,#f4905e 14.4%,#f9bd87 15.7%,#fbd5a2 16.8%,#fcdfb7 17.4%,#fef4e6 19.8%,#fff7ed 20.9%,#fff9f1 22.4%,#fff9f1 43.9%,#fff7ed 46%,#fef3e5 47.3%,#fde0ba 49.6%,#fcdcb1 49.9%,#fbd4a0 50.3%,#f9ba84 51.2%,#f4915f 52%,#f0744f 52.7%,#e34b33 54%,#d83528 54.8%,#cb2027 55.5%,#ac1d23 57.2%,#af1e24 57.6%,#cb2027 58.8%,#d93528 59.8%,#e24932 60.8%,#ee6949 62.3%,#f07a52 63%,#f49360 63.8%,#f9bd87 64.9%,#fbd5a3 65.9%,#fcdbb0 66.3%,#fef4e6 69%,#fff9f0 71%,#fff9f1 93.1%,#fff7ed 95.5%,#fef4e5 96.9%,#fde1bc 98.6%,#fbd5a2 99.5%,#face9a 99.9%)"></i><i style="background:linear-gradient(90deg,#fcdcb2 0.1%,#fbd4a0 0.7%,#f9ba84 2%,#f4915f 3.2%,#ed6848 4.6%,#e24b33 5.4%,#d93628 6%,#cb2027 6.5%,#ae1e23 7.9%,#a91d23 8.3%,#ac1d23 8.6%,#cb2027 10%,#d93628 10.9%,#e24932 11.8%,#ee6949 13.1%,#f07851 13.8%,#f4915f 14.5%,#f9ba84 15.7%,#fbd5a2 16.9%,#fcdfb7 17.6%,#fef4e6 19.9%,#fff7ed 21%,#fff9f1 22.5%,#fff9f1 43.4%,#fff7ed 45.4%,#fef4e6 46.9%,#fde0b8 49.3%,#fbd5a2 50%,#f9bd87 50.9%,#f4905e 51.8%,#ef734f 52.5%,#ee6a4a 52.8%,#e24a32 53.8%,#d93728 54.5%,#ca2027 55.2%,#af1e23 56.7%,#aa1d23 57.1%,#ac1d23 57.6%,#cc2127 59%,#d93728 60%,#e14931 60.9%,#ee6949 62.4%,#f07751 63%,#f4905e 63.8%,#f9bd87 65.1%,#fbd5a3 66.1%,#fcdbaf 66.4%,#fef4e7 69.2%,#fff9f0 71.2%,#fff9f1 92.8%,#fff7ed 95.2%,#fef3e4 96.6%,#fcdeb5 98.5%,#fbd4a1 99.2%,#fac691 99.9%)"></i><i style="background:linear-gradient(90deg,#fbd7a7 0.1%,#f9bd88 1.5%,#f4915f 2.8%,#ee6a4a 4.3%,#e24b33 5.2%,#d93728 5.7%,#cc2127 6.3%,#ae1e23 7.6%,#a91d22 8.2%,#ac1d23 8.8%,#cb2027 10.1%,#d93628 11%,#e24932 11.9%,#ee694a 13.2%,#ef724e 13.7%,#f48e5d 14.5%,#f9bb85 15.8%,#fbd5a3 17%,#fcdfb7 17.7%,#fef4e6 20%,#fff8ee 21.2%,#fff9f1 22.6%,#fff9f1 43.1%,#fff7ed 45.1%,#fef4e6 46.5%,#fde0b9 49%,#fbd3a0 49.8%,#f9bb85 50.7%,#f48e5d 51.6%,#ef724e 52.2%,#e24a32 53.6%,#d93628 54.2%,#cc2127 54.9%,#af1e24 56.4%,#aa1d23 56.8%,#ac1d23 57.7%,#cb2027 59.1%,#d93628 60.1%,#e24b33 61.1%,#ee6a4a 62.5%,#ef724e 62.9%,#f4915f 63.9%,#f9bb85 65.1%,#fcd9ab 66.4%,#fddfb7 66.8%,#fef4e6 69.3%,#fff9f0 71.4%,#fff9f1 92.4%,#fff7ec 95%,#fef5e8 95.8%,#fef3e3 96.3%,#fcdcb1 98.3%,#fbd5a2 98.7%,#f9bf89 99.9%)"></i><i style="background:linear-gradient(90deg,#fbd29e 0.1%,#f9bb85 1.3%,#f48f5d 2.6%,#ee6b4b 4%,#e24b33 5%,#da3829 5.5%,#cc2227 6.1%,#af1e23 7.4%,#a91d23 7.9%,#aa1d23 8.8%,#ca2027 10.2%,#d93528 11.1%,#e24932 12%,#ee6a4a 13.3%,#ef734f 13.8%,#f48f5d 14.7%,#f9bc86 15.9%,#fbd6a4 17.1%,#fddfb7 17.8%,#fef4e6 20.1%,#fff8ee 21.3%,#fff9f1 22.7%,#fff9f1 42.6%,#fff7ed 44.8%,#fef4e5 46.2%,#fde0b9 48.7%,#fbd4a1 49.4%,#f9bd87 50.3%,#f38d5c 51.3%,#f07550 51.9%,#ed6849 52.3%,#e24931 53.3%,#d93528 54%,#cb2027 54.7%,#a91d23 56.5%,#ab1d23 57.8%,#ca2027 59.3%,#d93628 60.3%,#e14931 61.1%,#ee6a4a 62.6%,#ef734f 63%,#f48e5d 63.9%,#f9bc86 65.2%,#fcd9ab 66.5%,#fddfb7 66.9%,#fef4e6 69.4%,#fff9f1 71.6%,#fff9f1 92%,#fef6ea 95%,#fef3e3 95.8%,#fcddb3 97.8%,#fbd5a2 98.4%,#f8b47f 99.9%)"></i><i style="background:linear-gradient(90deg,#facb97 0.1%,#f9bb85 0.9%,#f48f5d 2.3%,#ee6a4a 3.7%,#e24a32 4.7%,#da3829 5.3%,#cb2027 6%,#ad1d23 7.3%,#a91d22 7.7%,#aa1d23 8.9%,#ca2027 10.3%,#d83528 11.2%,#e24932 12.1%,#ee6a4a 13.4%,#f0744f 13.9%,#f4905e 14.8%,#f9bd87 16%,#fbd4a1 17.1%,#fcdeb5 17.8%,#fef3e5 20.1%,#fff8ee 21.5%,#fff9f1 22.7%,#fff9f1 42.3%,#fff7ed 44.4%,#fef4e5 45.9%,#fde0ba 48.3%,#fcddb2 48.7%,#fbd5a2 49.1%,#f9bb85 50.1%,#f4905e 51%,#f0744f 51.7%,#e14831 53.1%,#d83528 53.8%,#cb2027 54.5%,#a71d22 56.4%,#a81d22 57.8%,#cc2127 59.5%,#d93628 60.4%,#e14931 61.3%,#ed6949 62.6%,#f0744f 63.2%,#f4905e 64%,#f9bd87 65.3%,#fbd8a7 66.5%,#fddfb7 67.1%,#fef4e6 69.5%,#fff9f1 71.7%,#fff9f1 91.7%,#fef6ea 94.7%,#fef4e6 95.3%,#fef1e0 95.6%,#fcdaac 97.7%,#fbd4a1 98%,#f9bc86 99.3%,#f7a974 99.9%)"></i><i style="background:linear-gradient(90deg,#fac591 0.1%,#f9bb85 0.6%,#f48f5e 2%,#eb6143 3.7%,#e24a32 4.5%,#da3929 5.1%,#cc2127 5.7%,#ae1d23 7.1%,#a81d22 7.5%,#a91d23 9%,#ca2027 10.4%,#da3729 11.4%,#e24932 12.2%,#ed6849 13.4%,#f07450 14%,#f4915f 14.9%,#f9bb85 16%,#fbd5a2 17.2%,#fcdfb6 17.9%,#fef4e5 20.2%,#fff8ef 21.8%,#fff9f1 42%,#fff7ed 44.1%,#fef3e4 45.5%,#fddfb8 48.1%,#fbd3a0 48.9%,#f9bd87 49.8%,#f48e5d 50.8%,#f0744f 51.4%,#e14831 52.9%,#d83428 53.6%,#ca2027 54.2%,#ad1d23 55.7%,#a41c22 56.4%,#a11c21 57.1%,#a51c22 57.8%,#cb2027 59.6%,#d93528 60.5%,#e24932 61.4%,#ee694a 62.7%,#ef724e 63.2%,#f48e5d 64%,#f9bc86 65.3%,#fbd8a8 66.6%,#fddfb7 67.2%,#fef4e6 69.6%,#fff7ed 70.6%,#fff9f1 72%,#fff9f1 91.2%,#fef6e9 94.4%,#fef4e6 94.8%,#fef0dc 95.4%,#fde1bb 96.8%,#fbd6a4 97.6%,#f9bc86 98.9%,#f69e6b 99.9%)"></i><i style="background:linear-gradient(90deg,#f9bf8a 0.1%,#f9bc86 0.3%,#f48f5e 1.6%,#ea5f42 3.5%,#da3929 4.8%,#cc2227 5.5%,#aa1d23 7.1%,#a41c22 7.6%,#a71d22 9%,#cb2027 10.6%,#d93728 11.5%,#e24932 12.3%,#ee6949 13.5%,#ef734f 14%,#f48f5d 14.9%,#f9bd87 16.1%,#fbd6a3 17.3%,#fcdfb7 18%,#fef4e6 20.3%,#fff9f0 22.4%,#fff7ec 26.4%,#fff9f1 29.2%,#fff9f1 41.5%,#fff7ec 43.8%,#fef3e4 45.2%,#fddfb8 47.8%,#fbd4a1 48.6%,#f9bc86 49.6%,#f48d5c 50.6%,#ef734f 51.2%,#ee6a4a 51.6%,#e24b33 52.6%,#da3729 53.2%,#ca2027 54%,#a61c22 55.9%,#9e1b21 56.8%,#9f1c21 57.5%,#aa1d23 58.2%,#cb2027 59.7%,#d93528 60.6%,#e24932 61.5%,#ee6a4a 62.8%,#f0744f 63.3%,#f4905e 64.2%,#f9bd87 65.4%,#fbd6a5 66.6%,#fddfb8 67.3%,#fef4e5 69.7%,#fff7ed 70.7%,#fff9f1 72.1%,#fff8ee 75.8%,#fff9f1 90.9%,#fef5e9 94%,#fef4e5 94.5%,#feedd6 95.3%,#fde0b8 96.6%,#fbd6a4 97.3%,#f9bc86 98.6%,#f49361 99.9%)"></i><i style="background:linear-gradient(90deg,#f8b782 0.1%,#f48f5e 1.3%,#f07651 2.2%,#ee6b4a 2.7%,#e7573c 3.5%,#da3829 4.6%,#ca2027 5.4%,#a91d22 7%,#a01c21 7.7%,#a01c21 8.4%,#a51c22 9.1%,#cb2027 10.8%,#d93728 11.6%,#e24932 12.4%,#ee6a4a 13.7%,#f0744f 14.1%,#f4915f 15%,#f9bb85 16.1%,#fbd4a1 17.3%,#fcdeb5 18%,#fef4e6 20.5%,#fff9f0 22.5%,#fef6ea 26.5%,#fff9f1 29.4%,#fff9f1 41.2%,#fef6ea 44%,#fef2e1 45%,#fddfb8 47.4%,#fbd09c 48.4%,#f9b984 49.3%,#f4905e 50.2%,#f07550 50.9%,#ee6949 51.3%,#e24b32 52.3%,#d93729 53%,#ca2027 53.8%,#a71d22 55.6%,#9a1b20 56.9%,#9b1b20 57.4%,#a91d23 58.4%,#ca2027 59.8%,#d93528 60.7%,#e24a32 61.6%,#ee6949 62.8%,#ef724e 63.3%,#f48e5d 64.2%,#f9bc86 65.4%,#fbd5a2 66.6%,#fcdfb6 67.3%,#fef4e5 69.8%,#fff7ec 70.8%,#fff9f1 72.2%,#fff7ed 75.8%,#fff9f1 78.3%,#fff9f1 90.6%,#fef5e9 93.7%,#fef2e2 94.3%,#fee7c7 95.6%,#fcdeb5 96.4%,#fbd4a1 97%,#f9bc86 98.3%,#f4915f 99.6%,#f3895a 99.9%)"></i><i style="background:linear-gradient(90deg,#f7ad78 0.1%,#f4905e 0.9%,#f07751 1.8%,#ed6849 2.5%,#e24932 3.7%,#da3729 4.4%,#cb2027 5.2%,#a91d23 6.7%,#9e1b21 7.6%,#9b1b20 8.2%,#a11c21 9.1%,#ca2027 10.9%,#d93628 11.8%,#e24a32 12.5%,#ed6848 13.7%,#f07550 14.2%,#f48f5e 15%,#f9bd87 16.2%,#fbd5a3 17.4%,#fcdcb1 17.9%,#fef4e6 20.6%,#fff7ee 21.7%,#fff9f1 23%,#fef5e9 26.5%,#fff9f1 29.6%,#fff9f1 40.6%,#fef5e8 44%,#fef2e1 44.6%,#fde1ba 47%,#fcdcb1 47.4%,#fbd3a0 48%,#f9bc86 49%,#f48e5d 50%,#f0744f 50.7%,#ed6949 51.1%,#e24a32 52.1%,#d93728 52.8%,#ca2027 53.6%,#a81d22 55.2%,#981b20 56.8%,#981b1f 57.1%,#a61d22 58.4%,#ca2027 59.9%,#d93528 60.8%,#e24a32 61.7%,#ee6a4a 62.9%,#f0744f 63.4%,#f4905e 64.3%,#f9be88 65.5%,#fbd4a1 66.6%,#fcdcb2 67.2%,#fef4e5 70%,#fff7ed 71.1%,#fff9f1 72.4%,#fef6eb 75.8%,#fff9f1 78.4%,#fff9f1 90.1%,#fff7ed 92.1%,#fef4e6 93.6%,#fcdeb6 96%,#fbd5a2 96.7%,#f9bc86 97.9%,#f4905e 99.3%,#f18056 99.9%)"></i><i style="background:linear-gradient(90deg,#f6a26f 0.1%,#f4905e 0.6%,#f07751 1.5%,#ee6949 2.2%,#e24a32 3.4%,#d93728 4.2%,#cb2027 5%,#aa1d23 6.5%,#991b20 7.9%,#991b20 8.3%,#a41c22 9.3%,#cc2127 11.1%,#d93628 11.9%,#e24a32 12.7%,#ee694a 13.8%,#f0744f 14.2%,#f48e5d 15%,#f9bc86 16.2%,#fbd4a1 17.4%,#fcddb3 18%,#fef4e5 20.6%,#fff7ed 21.7%,#fff9f1 23%,#fef5e8 25.9%,#fef5e9 27.1%,#fff9f1 30%,#fff9f1 40.3%,#fef5e8 43.5%,#fef2e2 44.2%,#fde1ba 46.7%,#fcdcb1 47.1%,#fbd3a0 47.7%,#f9ba84 48.8%,#f38d5c 49.8%,#ef734f 50.4%,#ed6848 50.9%,#e24a32 51.9%,#d93728 52.6%,#ca2027 53.3%,#a81d22 55%,#981b1f 56.6%,#961a1f 57%,#a61c22 58.5%,#ca2027 60%,#d93628 60.9%,#e24b33 61.8%,#ed6849 62.9%,#ef724e 63.4%,#f48f5d 64.3%,#f9bd87 65.5%,#fbd5a2 66.7%,#fcddb3 67.3%,#fef4e5 70.1%,#fff7ed 71.2%,#fff9f1 72.4%,#fef6e9 75.8%,#fff9f1 78.7%,#fff9f1 89.8%,#fff7ed 91.8%,#fef4e6 93.3%,#fcddb3 95.8%,#fbd5a2 96.4%,#f9bd87 97.6%,#f4915f 98.9%,#f07751 99.9%)"></i><i style="background:linear-gradient(90deg,#f59866 0.1%,#f48e5d 0.4%,#f07751 1.2%,#ee6949 1.8%,#e14931 3.2%,#d93628 4%,#ca2027 4.7%,#a81d22 6.4%,#971a1f 8.1%,#a81d22 9.6%,#c92027 11.1%,#d93628 12%,#e24b33 12.8%,#ee6b4a 13.9%,#f07650 14.3%,#f4905e 15.1%,#f9bd88 16.3%,#fbd4a0 17.4%,#fcdcb1 18%,#fef4e6 20.7%,#fff9f1 22.9%,#fef5e8 26%,#fef5e8 27.4%,#fff9f1 29.9%,#fff9f1 40.2%,#fef4e6 43.5%,#fde2be 46.1%,#fcdbae 46.9%,#f9bc86 48.4%,#f4905e 49.4%,#f07650 50.1%,#ee6a4a 50.6%,#e24a32 51.7%,#d93728 52.3%,#cc2227 53%,#a81d22 54.8%,#971a1f 56.5%,#971a1f 57.2%,#a81d22 58.7%,#c92027 60.1%,#d93628 61%,#e24931 61.8%,#ee6a4a 63%,#f0744f 63.5%,#f48e5d 64.3%,#f9bc86 65.5%,#fbd4a1 66.7%,#fcdcb2 67.3%,#fef4e6 70.2%,#fff9f0 72.4%,#fef5e8 75.8%,#fff9f1 78.8%,#fff9f1 89.4%,#fff7ed 91.4%,#fef4e6 92.8%,#fee7c9 94.5%,#fcdcb1 95.6%,#fbd3a0 96.2%,#f9bb85 97.4%,#f4925f 98.6%,#f07952 99.5%,#ef704d 99.9%)"></i><i style="background:linear-gradient(90deg,#f48f5d 0.1%,#f07550 0.9%,#ee6a4a 1.5%,#e24a32 2.8%,#da3729 3.6%,#ca2027 4.5%,#a81d22 6.2%,#961a1f 8.1%,#a81d22 9.8%,#cb2027 11.3%,#d93728 12.1%,#e14831 12.8%,#ee694a 13.9%,#f07550 14.3%,#f48f5d 15.1%,#f9bd87 16.3%,#fbd5a2 17.6%,#fcddb3 18.1%,#fef3e4 20.7%,#fff7ec 21.7%,#fff9f0 22.9%,#fef5e9 25%,#fef5e8 27.1%,#fff9f1 30%,#fff9f1 39.6%,#fef4e6 43.1%,#fde3c0 45.7%,#fcdbaf 46.5%,#f9ba84 48.2%,#f48e5d 49.2%,#f07550 49.9%,#ee6a4a 50.3%,#e24a32 51.4%,#d93729 52.1%,#ca2027 52.9%,#a61d22 54.7%,#971a1f 56.2%,#971a1f 57.4%,#a81d22 58.8%,#cc2127 60.4%,#d93628 61.1%,#e24a32 61.9%,#ed6849 63%,#ef734f 63.5%,#f4905e 64.4%,#f9be88 65.6%,#fbd5a3 66.8%,#fcddb3 67.4%,#fef3e4 70.2%,#fff7ec 71.2%,#fff8f0 72.3%,#fef5e9 74.6%,#fef5e8 76.1%,#fff9f1 79%,#fff9f1 89%,#fff7ed 91%,#fef4e6 92.5%,#fcdcb1 95.3%,#fbd4a1 95.8%,#f9bc86 97%,#f48f5e 98.4%,#f0744f 99.4%,#ee6c4b 99.9%)"></i><i style="background:linear-gradient(90deg,#f28659 0.1%,#ef734f 0.7%,#ee6a4a 1.2%,#e14831 2.6%,#d93628 3.4%,#cc2127 4.2%,#a81d22 6%,#961a1f 7.7%,#971a1f 8.4%,#a81d22 9.9%,#cb2027 11.4%,#d93728 12.2%,#e24932 12.9%,#ee6b4b 14%,#f48e5d 15.1%,#f9bc86 16.3%,#fbd4a1 17.6%,#fcdbaf 18%,#feeed8 20.1%,#fef5e7 21%,#fff8ef 22.7%,#fef5e8 24.9%,#fef5e8 27.5%,#fff9f1 30.2%,#fff9f1 39.2%,#fef4e6 42.6%,#fde5c3 45.1%,#fcdbaf 46.2%,#fbd5a2 46.7%,#f9bc86 47.9%,#f38d5c 49%,#f0744f 49.7%,#ee6949 50.1%,#e24a32 51.2%,#da3729 51.9%,#ca2027 52.7%,#ac1d23 54.1%,#a51c22 54.6%,#971a1f 56%,#971a1f 57.5%,#aa1d23 59%,#cc2127 60.5%,#d93728 61.3%,#e24b33 62%,#ee6a4a 63.2%,#f07550 63.6%,#f48f5e 64.4%,#f9bd88 65.6%,#fbd5a2 66.8%,#fcddb2 67.4%,#fef3e3 70.2%,#fef6ea 70.8%,#fff8ee 72.1%,#fef5e8 74.4%,#fef5e8 76.3%,#fff9f1 79.2%,#fff7ee 85.2%,#fff9f1 88.7%,#fff7ed 90.7%,#fef4e6 92.1%,#fde5c4 94%,#fcdbaf 95%,#fbd5a2 95.5%,#f9bd87 96.7%,#f4915e 98%,#f07450 99.1%,#ed6748 99.9%)"></i><i style="background:linear-gradient(90deg,#f17e55 0.1%,#ee6949 0.9%,#e24932 2.3%,#d83528 3.2%,#cb2027 4%,#a81d22 5.7%,#961a1f 7.5%,#971a1f 8.5%,#a61c22 9.9%,#cb2027 11.5%,#da3729 12.3%,#e14731 12.9%,#ee6a4a 14%,#f38d5c 15.1%,#f9bc86 16.3%,#fbd4a1 17.6%,#fcdbae 18%,#fee9cd 19.6%,#fef4e6 21%,#fff7ee 22.2%,#fff8ee 23.5%,#fef5e8 24.8%,#fef5e8 27.6%,#fff9f1 30.3%,#fff9f1 38.9%,#fef4e6 42.3%,#fde0b8 45.4%,#fbd5a2 46.3%,#f9bb85 47.7%,#f4905e 48.7%,#ef734f 49.4%,#ed6849 49.9%,#e24a32 51%,#da3729 51.7%,#cb2027 52.5%,#ac1d23 53.9%,#a51c22 54.3%,#961a1f 55.9%,#971a1f 57.6%,#aa1d23 59.1%,#c92027 60.5%,#da3729 61.4%,#e14931 62%,#ee6949 63.2%,#f0744f 63.6%,#f48f5d 64.4%,#f9bd87 65.6%,#fbd5a1 66.8%,#fcdbaf 67.3%,#fee9cd 69%,#fef4e7 70.5%,#fff7ed 71.6%,#fff7ee 72.7%,#fef5e8 74.2%,#fef5e8 76.5%,#fff9f1 79.4%,#fff9f1 82.3%,#fff7ec 85.3%,#fff9f1 88.4%,#fff7ed 90.2%,#fef4e6 91.7%,#fde5c3 93.8%,#fcdaad 94.8%,#fbd4a0 95.3%,#f9bc86 96.5%,#f48f5d 97.8%,#ef734f 98.8%,#eb6143 99.9%)"></i><i style="background:linear-gradient(90deg,#f07650 0.1%,#ed6848 0.7%,#e24b32 2%,#d93628 2.8%,#ca2027 3.7%,#a91d23 5.4%,#961a1f 7.3%,#971a1f 8.6%,#a31c22 9.9%,#ab1d23 10.3%,#cb2027 11.6%,#d83528 12.3%,#e14931 13%,#ee6949 14%,#f4905e 15.2%,#f9bb85 16.3%,#fbd4a0 17.6%,#fcdcb1 18.1%,#feeed8 20.2%,#fef4e7 21.1%,#fff7ed 22.4%,#fef5e8 24.9%,#fef5e8 28%,#fff9f1 30.6%,#fff9f1 38.3%,#fff7ec 40.5%,#fef4e6 41.9%,#fef0dc 42.6%,#fcdfb6 45.2%,#fbd4a1 46.1%,#f9bd87 47.3%,#f48e5d 48.4%,#ef724e 49.2%,#ed6848 49.7%,#e24a32 50.8%,#da3829 51.4%,#cb2127 52.2%,#ac1d23 53.7%,#a51c22 54.1%,#951a1f 55.8%,#961a1f 57.6%,#a81d22 59.1%,#ca2027 60.6%,#d83528 61.4%,#e24a32 62.2%,#ee6b4a 63.3%,#ef734f 63.6%,#f48e5d 64.4%,#f9bd87 65.6%,#fbd4a1 66.8%,#fcdbaf 67.3%,#fee9cc 69%,#fef4e6 70.5%,#fff7ed 71.7%,#fef5e8 73.9%,#fef5e8 76.9%,#fff9f0 79.4%,#fff9f1 81.5%,#fef6ea 85.3%,#fff9f1 88.1%,#fff7ed 89.9%,#fef4e6 91.4%,#fde3bf 93.7%,#fcd9ab 94.6%,#f9bd87 96.2%,#f4915f 97.5%,#f0744f 98.5%,#e95b3f 99.9%)"></i><i style="background:linear-gradient(90deg,#ef704d 0.1%,#ee6a4a 0.4%,#e24932 1.7%,#d83528 2.6%,#cc2127 3.4%,#a91d23 5.2%,#961a1f 7.1%,#981b20 9.3%,#a81d22 10.3%,#cb2027 11.8%,#d93628 12.4%,#e24a32 13.1%,#ed6848 14%,#f48f5e 15.2%,#f9bb85 16.3%,#fbd3a0 17.6%,#fcdaad 18%,#fee9cd 19.7%,#fef4e6 21.1%,#fff7ed 22.4%,#fef5e8 24.8%,#fef5e8 28.1%,#fff9f1 30.9%,#fff9f1 37.8%,#fff7ed 40%,#fef4e6 41.4%,#fef0dd 42.2%,#fde0b8 44.8%,#fbd4a1 45.8%,#f9bb85 47.1%,#f48d5c 48.2%,#f0744f 48.9%,#ed6748 49.4%,#e24a32 50.6%,#da3829 51.2%,#ca2027 52.1%,#a61c22 53.9%,#92191e 55.9%,#941a1f 57.6%,#a81d22 59.3%,#ca2027 60.7%,#d93628 61.5%,#e14831 62.2%,#ee6a4a 63.3%,#f07550 63.7%,#f4915f 64.5%,#f9bd87 65.6%,#fbd4a1 66.8%,#fcdbaf 67.3%,#fee9cc 69%,#fef4e6 70.5%,#fff7ed 71.7%,#fef5e8 73.6%,#fef5e8 77.1%,#fff8f0 79.4%,#fff9f1 81.1%,#fef5e9 85.3%,#fff9f1 88%,#fef4e6 91%,#fde1bb 93.6%,#fcd9a9 94.4%,#f9bc87 95.9%,#f48f5e 97.3%,#ef734f 98.3%,#e6563b 99.9%)"></i><i style="background:linear-gradient(90deg,#ee6b4b 0.1%,#e14831 1.5%,#d93728 2.3%,#cb2027 3.2%,#a91d22 5%,#941a1f 7.1%,#951a1f 9.3%,#a81d22 10.4%,#c82027 11.8%,#cb2027 11.9%,#d93728 12.5%,#e14831 13.1%,#ee6a4a 14.1%,#f48f5d 15.2%,#f9bb85 16.3%,#fbd5a3 17.7%,#fcdaad 18%,#fee9cc 19.7%,#fef4e6 21.2%,#fff7ed 22.5%,#fef5e8 24.8%,#fef5e8 28.4%,#fff9f1 31%,#fff9f1 37.5%,#fff7ed 39.4%,#fef5e8 40.7%,#fef2e2 41.4%,#fde0b8 44.4%,#fbd5a2 45.4%,#f9ba84 46.9%,#f4905e 47.9%,#f0744f 48.7%,#ee6a4a 49.1%,#e24a32 50.3%,#d93628 51.1%,#ca2027 51.9%,#ab1d23 53.3%,#a51c22 53.8%,#961a1f 55.1%,#90191e 56.1%,#92191e 57.5%,#a81d22 59.4%,#ca2027 60.8%,#d93728 61.6%,#e24932 62.3%,#ed6849 63.3%,#f0744f 63.7%,#f38c5c 64.4%,#f9bd87 65.6%,#fbd4a1 66.8%,#fcdbaf 67.3%,#fee9cc 69%,#fef4e7 70.6%,#fff7ed 71.7%,#fef5e8 73.5%,#fef5e8 77.3%,#fff9f0 80.9%,#fef5e8 85.6%,#fff9f0 87.9%,#fef4e6 90.7%,#fde0ba 93.4%,#fbd6a4 94.3%,#f9bc86 95.7%,#f48e5d 97%,#ef724e 98%,#e45036 99.9%)"></i><i style="background:linear-gradient(90deg,#ed6647 0.1%,#e24a32 1.2%,#da3829 2%,#ca2027 3%,#a81d22 4.7%,#91191e 7.2%,#961a1f 9.3%,#a91d23 10.5%,#c92027 11.9%,#cc2127 12%,#d83428 12.5%,#e24a32 13.2%,#ee6a4a 14.1%,#f48e5d 15.2%,#f9bb85 16.3%,#fbd5a3 17.7%,#fcdcb1 18.1%,#fde0b9 18.6%,#fef4e6 21.2%,#fff7ed 22.4%,#fef5e8 24.2%,#fef5e8 28.1%,#fff8f0 30.9%,#fff8ee 34.1%,#fff9f1 37.3%,#fff7ed 39%,#fef5e8 40.4%,#fef2e1 41.1%,#fde0b8 44.1%,#fbd3a0 45.2%,#f9bc86 46.5%,#f48f5e 47.7%,#ef734f 48.4%,#ee6a4a 48.9%,#e24b32 50.1%,#d93728 50.9%,#cb2027 51.7%,#a91d23 53.2%,#961a1f 54.9%,#8c181d 56.7%,#961a1f 58.1%,#a81d22 59.5%,#ca2027 60.9%,#d83428 61.6%,#e14831 62.3%,#ee6b4a 63.4%,#f07751 63.8%,#f4905e 64.5%,#f9bd87 65.6%,#fbd4a1 66.8%,#fcdbaf 67.3%,#fee9cc 69%,#fef4e6 70.6%,#fff7ed 71.7%,#fef5e8 73.3%,#fef5e8 77.5%,#fff8ef 80.8%,#fef5e8 85.7%,#fff8ef 87.9%,#fff7ec 89.4%,#fef4e5 90.5%,#fde0b9 93.1%,#fbd5a3 94%,#f9bb85 95.5%,#f48e5d 96.8%,#ef714e 97.8%,#e24a32 99.9%)"></i><i style="background:linear-gradient(90deg,#eb6144 0.1%,#e24a32 0.9%,#da3829 1.7%,#ca2027 2.7%,#a81d22 4.5%,#961a1f 6.3%,#8e191d 7.4%,#90191e 8.2%,#971a1f 9.3%,#a91d23 10.6%,#c92027 12%,#d93628 12.7%,#e14831 13.2%,#ee6949 14.1%,#f48e5d 15.2%,#f9bb85 16.3%,#fbd5a3 17.7%,#fddfb8 18.5%,#fef4e6 21.2%,#fff7ed 22.4%,#fef5e8 24%,#fef5e8 28.4%,#fff8ef 30.8%,#fff7ed 34.1%,#fff9f0 37.3%,#fff7ee 38.5%,#fef3e3 40.5%,#fde0b8 43.8%,#fbd4a0 44.9%,#f9bb85 46.3%,#f48e5d 47.4%,#ef734f 48.2%,#ee694a 48.7%,#e24b33 49.9%,#da3829 50.7%,#ca2027 51.6%,#a81d22 53.1%,#961a1f 54.8%,#8b181c 56.6%,#951a1f 58.1%,#a91d22 59.6%,#cb2027 61%,#d93528 61.7%,#e24932 62.4%,#ee6a4a 63.4%,#f07650 63.8%,#f48f5e 64.5%,#f9bd87 65.6%,#fbd5a2 66.8%,#fcdbb0 67.3%,#fee9cc 69%,#fef4e6 70.6%,#fff7ed 71.7%,#fef5e8 73.3%,#fef5e8 78%,#fff8ee 80.5%,#fef5e8 85.6%,#fff8ee 87.9%,#fef4e5 90.1%,#fddfb7 92.9%,#fbd5a2 93.8%,#f9bd87 95.2%,#f4905e 96.5%,#ef714e 97.6%,#e0452f 99.9%)"></i><i style="background:linear-gradient(90deg,#e95d40 0.1%,#e24a32 0.7%,#da3729 1.5%,#cb2127 2.4%,#a71d22 4.3%,#951a1f 6.1%,#8c181d 7.5%,#951a1f 9.1%,#a61d22 10.5%,#ca2027 12.1%,#da3729 12.8%,#e24b32 13.3%,#ed6848 14.1%,#f48e5d 15.2%,#f9bb85 16.3%,#fbd6a3 17.7%,#fcdfb6 18.3%,#fef4e6 21.2%,#fff7ed 22.4%,#fef5e8 23.8%,#fef5e8 28.6%,#fff7ee 30.8%,#fef6eb 33.9%,#fff8ee 38%,#fef5e8 39.6%,#fef1e0 40.4%,#fcdeb5 43.6%,#faca95 45.2%,#f9b984 46.1%,#f49260 47.1%,#f07952 47.8%,#ee6949 48.4%,#e34b33 49.7%,#da3829 50.4%,#cb2027 51.3%,#a71d22 53%,#961a1f 54.6%,#8b181c 56.4%,#961a1f 58.1%,#a71d22 59.6%,#cb2127 61.1%,#d93628 61.8%,#e24b33 62.5%,#ed6849 63.4%,#f07550 63.8%,#f48f5d 64.5%,#f9bd87 65.6%,#fbd5a2 66.8%,#fddfb7 67.6%,#fef4e5 70.5%,#fff7ed 71.6%,#fef5e8 73.2%,#fef5e8 78.2%,#fff7ed 80.5%,#fef5e8 85.5%,#fff7ee 87.8%,#fef4e5 89.8%,#fde0b8 92.6%,#fbd6a3 93.5%,#f9bc86 94.9%,#f4905e 96.3%,#ef734f 97.3%,#ee6949 97.8%,#e24a32 99.3%,#dd402d 99.9%)"></i><i style="background:linear-gradient(90deg,#e7583d 0.1%,#e24b32 0.5%,#da3729 1.3%,#cb2027 2.2%,#a71d22 4.1%,#961a1f 5.7%,#8b181c 7.5%,#951a1f 9.2%,#a71d22 10.6%,#cb2027 12.2%,#d83528 12.8%,#e24931 13.3%,#ee6b4b 14.2%,#f49260 15.3%,#f9bb85 16.3%,#fbd4a1 17.6%,#fcdfb7 18.3%,#fef4e5 21.1%,#fff7ed 22.2%,#fef5e8 23.7%,#fef5e8 28.8%,#fff7ec 30.8%,#fef5e9 34.1%,#fff7ed 37.7%,#fef4e7 39.4%,#feefda 40.5%,#fcddb3 43.4%,#fac792 45.1%,#f9b883 45.9%,#f4915f 46.9%,#f07952 47.5%,#ee6949 48.2%,#e24932 49.6%,#d93728 50.3%,#ca2027 51.2%,#a61d22 52.9%,#951a1f 54.5%,#8b181c 56.1%,#8b181c 56.7%,#951a1f 58.1%,#a71d22 59.7%,#cc2127 61.3%,#da3829 61.9%,#e24932 62.5%,#ee6b4a 63.5%,#f48e5d 64.5%,#f9bd87 65.6%,#fbd5a3 66.8%,#fddfb8 67.6%,#fef4e6 70.5%,#fff7ed 71.6%,#fef5e8 73%,#fef6eb 80.5%,#fef5e8 85.3%,#fff7ed 87%,#fef6eb 88.5%,#fef4e5 89.5%,#fddfb7 92.4%,#fbd5a2 93.3%,#f9bc86 94.7%,#f4905e 96%,#ef734f 97%,#ee6949 97.6%,#e24a32 99.1%,#db3a2a 99.9%)"></i><i style="background:linear-gradient(90deg,#e65439 0.1%,#e24931 0.4%,#da3729 1.1%,#cb2027 2%,#a61d22 3.8%,#961a1f 5.5%,#8a181c 7.4%,#951a1f 9.3%,#a61c22 10.6%,#c92027 12.2%,#cc2127 12.3%,#d93728 12.9%,#e34c33 13.4%,#ee6b4a 14.2%,#f49260 15.3%,#f9bb85 16.3%,#fbd4a1 17.6%,#fcdbb0 18%,#fde0b9 18.5%,#fef4e6 21.1%,#fff7ed 22.2%,#fef5e8 23.8%,#fef5e8 34.5%,#fff7ec 37.6%,#fef4e6 39.2%,#fee7c7 41.6%,#fcdaad 43.4%,#f9c18b 45.2%,#f8b47e 45.8%,#f4905e 46.7%,#f07852 47.3%,#ee694a 48%,#e24a32 49.3%,#da3829 50.1%,#cb2027 51%,#a71d22 52.7%,#961a1f 54.2%,#8b181c 56%,#8b181c 56.8%,#941a1f 58.1%,#a81d22 59.8%,#ca2027 61.3%,#d93528 61.9%,#e24b33 62.6%,#ee6a4a 63.5%,#f0744f 63.8%,#f48e5d 64.5%,#f9ba84 65.5%,#fbd6a3 66.8%,#fcdcb1 67.3%,#fde0b8 67.6%,#fef4e5 70.4%,#fff7ed 71.5%,#fef5e8 72.9%,#fef5e8 82.6%,#fef5e8 85.7%,#fff7ed 86.8%,#fef3e4 89.1%,#fddfb8 92%,#fbd4a1 93%,#f9bc86 94.5%,#f4905e 95.8%,#ef734f 96.8%,#ee6949 97.4%,#e24932 98.8%,#d83528 99.9%)"></i><i style="background:linear-gradient(90deg,#e44f36 0.1%,#d83528 0.9%,#cb2027 1.7%,#a61d22 3.6%,#951a1f 5.3%,#8a181c 7.3%,#8b181c 7.9%,#951a1f 9.3%,#a61c22 10.8%,#ca2027 12.3%,#d83528 12.9%,#e24a32 13.4%,#ee6a4a 14.2%,#f49260 15.3%,#f9bb85 16.3%,#fbd5a2 17.6%,#fcddb3 18.1%,#fde2be 18.7%,#fef4e6 21%,#fff7ed 22.1%,#fef5e8 23.6%,#fef6ea 37.7%,#fef3e4 39%,#fcdeb4 42.8%,#fbd4a1 43.6%,#f9bd87 45.2%,#f7af7a 45.7%,#f4905e 46.4%,#f07852 47.1%,#ee6a4a 47.8%,#e24b33 49.1%,#d93628 50%,#ca2027 50.9%,#a61d22 52.6%,#951a1f 54.1%,#8b181c 55.8%,#8b181c 56.8%,#931a1e 58.1%,#a81d22 59.9%,#cb2027 61.4%,#d93728 62%,#e24932 62.6%,#ee6949 63.5%,#f07751 63.9%,#f48d5d 64.5%,#f9ba84 65.5%,#fbd6a4 66.8%,#fcddb2 67.3%,#fde0b9 67.6%,#fef4e6 70.4%,#fff7ed 71.5%,#fef5e8 73%,#fef5e8 85.6%,#fef6eb 86.8%,#fef4e7 88.4%,#fef1df 89.1%,#fddfb7 91.8%,#fbd4a0 92.8%,#f9bb86 94.3%,#f4905e 95.6%,#f0744f 96.6%,#ee6a4a 97.2%,#e24932 98.6%,#d93728 99.5%,#d42f28 99.9%)"></i><i style="background:linear-gradient(90deg,#e24b33 0.1%,#d93628 0.7%,#cb2027 1.5%,#a61c22 3.4%,#951a1f 5.1%,#8a181c 7.1%,#8b181c 8%,#971a1f 9.6%,#aa1d23 11.1%,#cb2027 12.4%,#da3729 13%,#e14931 13.4%,#ee6a4a 14.2%,#f49260 15.3%,#f9bc86 16.3%,#fbd5a3 17.6%,#fcdbae 17.9%,#fee9cb 19.3%,#fef4e6 20.9%,#fff7ed 22.1%,#fef5e8 23.5%,#fef5e8 37.8%,#fef4e5 38.5%,#fcddb2 42.5%,#fbd5a2 43.3%,#f9bc86 45%,#f4905e 46.2%,#f07852 46.9%,#ee6a4a 47.5%,#e24932 49%,#da3829 49.8%,#cb2027 50.7%,#a71d22 52.3%,#951a1f 53.9%,#8b181c 55.6%,#8d181d 57.2%,#961a1f 58.6%,#a91d22 60%,#cb2127 61.5%,#d83528 62%,#e14831 62.6%,#ed6849 63.5%,#f48d5c 64.5%,#f9ba84 65.5%,#fbd5a1 66.7%,#fcdcb0 67.2%,#fde0b9 67.6%,#fef4e6 70.3%,#fff7ed 71.4%,#fef5e8 72.9%,#fef5e9 86.8%,#fef4e5 88%,#feefd9 89.2%,#fde0b8 91.5%,#fbd3a0 92.6%,#f9bb85 94%,#f48e5d 95.5%,#f0744f 96.4%,#ee6a4a 96.9%,#e24a32 98.4%,#d93728 99.3%,#d12927 99.9%)"></i><i style="background:linear-gradient(90deg,#e14730 0.1%,#d83428 0.6%,#cb2027 1.3%,#a61c22 3.2%,#951a1f 4.8%,#8a181c 6.9%,#8b181c 8%,#961a1f 9.6%,#a91d22 11.1%,#c92027 12.4%,#d83528 13%,#e14731 13.4%,#ee6949 14.2%,#f49260 15.3%,#f9bc86 16.3%,#fbd4a1 17.4%,#fcdbaf 17.9%,#fee9cd 19.3%,#fef4e6 20.8%,#fff7ed 22%,#fef5e8 23.5%,#fef4e7 37.8%,#fef3e3 38.4%,#fcddb3 42.2%,#fbd5a3 43%,#f9bd87 44.6%,#f8b17c 45.1%,#f4905e 46%,#f07952 46.7%,#ed6849 47.4%,#e24a32 48.8%,#d93628 49.7%,#cb2027 50.6%,#a61d22 52.2%,#951a1f 53.8%,#8b181c 55.5%,#8c181d 57.2%,#961a1f 58.6%,#a71d22 60%,#cc2227 61.6%,#d93628 62.2%,#e24a32 62.7%,#ee6b4b 63.6%,#f4915f 64.6%,#f9ba84 65.5%,#fbd5a2 66.7%,#fcdcb1 67.2%,#fde1bc 67.7%,#fef4e6 70.2%,#fff7ed 71.3%,#fef5e8 72.7%,#fef5e8 86.5%,#fef2e1 87.9%,#feecd4 89.2%,#fddfb7 91.2%,#fbcf9c 92.6%,#f9bb85 93.8%,#f48e5d 95.3%,#ef724e 96.3%,#ee6949 96.8%,#e24932 98.3%,#d93628 99.2%,#ce2427 99.9%)"></i><i style="background:linear-gradient(90deg,#df432e 0.1%,#d93728 0.4%,#ca2027 1.2%,#a61c22 3%,#951a1f 4.6%,#8a181c 6.6%,#8a181c 8%,#92191e 9.4%,#aa1d23 11.2%,#cb2027 12.5%,#da3829 13.1%,#e24a32 13.5%,#ed6949 14.2%,#f49260 15.3%,#f9bc86 16.3%,#fbd4a1 17.4%,#fcdaad 17.8%,#fee9cc 19.2%,#fef4e7 20.7%,#fff7ed 21.9%,#fef5e8 23.5%,#fef4e5 37.6%,#fef2e2 38.3%,#fcddb2 42%,#fbd5a2 42.8%,#f9bd87 44.4%,#f7ad78 45%,#f4905e 45.8%,#f07650 46.5%,#ee6949 47.2%,#e24b33 48.6%,#da3829 49.4%,#ca2027 50.4%,#a61c22 52.1%,#961a1f 53.6%,#8b181c 55.2%,#8b181d 57.2%,#961a1f 58.7%,#a81d22 60.1%,#ca2027 61.6%,#d83428 62.2%,#e14831 62.7%,#ee6a4a 63.6%,#f4915f 64.6%,#f8b17c 65.3%,#f9be88 65.6%,#fbd5a3 66.7%,#fcdbae 67.1%,#fee7c8 68.4%,#fef4e5 70.1%,#fff7ed 71.3%,#fef5e8 72.7%,#fef5e7 86.3%,#feefd9 88.4%,#fee8ca 89.7%,#fcdcb0 91.4%,#fac894 92.8%,#f9bb85 93.6%,#f48f5d 95%,#ef734f 96%,#ee6a4a 96.6%,#e14831 98.2%,#d83528 99.1%,#cc2127 99.9%)"></i><i style="background:linear-gradient(90deg,#dd3f2c 0.1%,#d93628 0.3%,#cb2027 0.9%,#a61c22 2.7%,#961a1f 4.3%,#8a181c 6.4%,#8d181d 9.3%,#a91d22 11.2%,#c92027 12.5%,#cc2227 12.7%,#d93628 13.1%,#e24932 13.5%,#ed6849 14.2%,#f49260 15.3%,#f9bd87 16.3%,#fbd5a2 17.4%,#fcdbae 17.8%,#feeace 19.2%,#fef4e6 20.5%,#fff7ed 21.8%,#fef5e8 23.5%,#fef4e5 37%,#fef2e1 38.1%,#fcddb3 41.6%,#fbd5a3 42.4%,#f9bc86 44.2%,#f7ac78 44.8%,#f4905e 45.5%,#f07751 46.3%,#ee694a 47%,#e24a32 48.4%,#d93729 49.3%,#c92027 50.3%,#a71d22 51.9%,#951a1f 53.5%,#8b181c 55.1%,#8c181d 57.4%,#941a1f 58.7%,#a81d22 60.3%,#cb2027 61.7%,#d93628 62.3%,#e24a32 62.8%,#ee694a 63.6%,#f4905e 64.6%,#f8b17c 65.3%,#f9be88 65.6%,#fbd3a0 66.6%,#fcdbaf 67.1%,#fee9cb 68.5%,#fef4e7 70.1%,#fff7ed 71.2%,#fef5e8 72.6%,#fef4e7 86.2%,#feecd3 88.6%,#fde5c4 89.8%,#fcdaad 91.2%,#fac590 92.8%,#f9bc86 93.4%,#f4905e 94.8%,#f0744f 95.8%,#ed6849 96.5%,#e24a32 97.9%,#d93728 98.8%,#cc2227 99.7%,#c92027 99.9%)"></i><i style="background:linear-gradient(90deg,#db3b2a 0.1%,#ce2527 0.6%,#c92027 0.8%,#aa1d23 2.3%,#971a1f 4%,#8b181c 6%,#87171c 8.9%,#8a181c 9.2%,#9a1b20 10.1%,#a91d23 11.3%,#cb2027 12.7%,#da392a 13.2%,#e34d34 13.7%,#ed6848 14.2%,#f49260 15.3%,#f9bd87 16.3%,#fbd3a0 17.3%,#fcddb2 17.9%,#fef3e4 20.2%,#fef6ea 20.8%,#fff7ed 21.9%,#fef5e8 23.5%,#fef3e4 36.5%,#fef2e2 37.6%,#fef0dd 38.2%,#fcdcb0 41.5%,#fbd5a2 42.2%,#f9bc86 44%,#f4915f 45.3%,#f07851 46.1%,#ed6848 46.9%,#e24932 48.3%,#d93628 49.2%,#cb2027 50.1%,#a71d22 51.8%,#961a1f 53.2%,#8a181c 55%,#8a181c 57.1%,#8e191d 58.2%,#a91d22 60.4%,#cc2227 61.8%,#da3829 62.4%,#e14931 62.8%,#ed6849 63.6%,#f4905e 64.6%,#f8b17c 65.3%,#f9be88 65.6%,#fbd4a1 66.6%,#fcdcb0 67.1%,#fee9cc 68.5%,#fef4e6 70%,#fff7ed 71.2%,#fef5e8 72.6%,#fef4e6 86.1%,#fee7c9 89.1%,#fcdeb5 90.6%,#fbd5a2 91.5%,#f9c18c 92.8%,#f9bc86 93.1%,#f4915f 94.6%,#f07852 95.5%,#ee6a4a 96.3%,#e24b33 97.7%,#d93728 98.7%,#cc2227 99.6%,#c72027 99.9%)"></i><i style="background:linear-gradient(90deg,#d93728 0.1%,#cb2027 0.6%,#a81d22 2.2%,#961a1f 3.8%,#8b181c 5.7%,#8a181c 8.1%,#87171b 8.9%,#a81d22 11.3%,#cc2227 12.8%,#da3729 13.2%,#e04630 13.5%,#ee6c4b 14.3%,#f48e5d 15.2%,#f9bd87 16.3%,#fbd4a1 17.3%,#fcddb3 17.9%,#fef4e6 20.2%,#fff7ed 21.2%,#fff7ed 22.1%,#fef5e8 23.5%,#fef3e4 36.4%,#fef0dd 38%,#fcdcb1 41.2%,#fbd4a1 42%,#f9bd88 43.6%,#f8af7b 44.2%,#f4915f 45.1%,#f07952 45.9%,#ee6949 46.7%,#e14831 48.2%,#d93628 49.1%,#cb2027 50%,#a81d22 51.6%,#951a1f 53.2%,#8a181c 54.9%,#8b181d 58.2%,#aa1d23 60.5%,#ca2027 61.8%,#d93528 62.4%,#e24b33 62.9%,#ed6748 63.6%,#f48f5e 64.6%,#f8b17c 65.3%,#f9be88 65.6%,#fbd4a1 66.6%,#fcdcb0 67.1%,#fef0dc 69.3%,#fef5e7 70%,#fff7ed 71.2%,#fef5e8 72.6%,#fef4e6 86%,#fde6c5 89.1%,#fcdeb5 90.4%,#fbd5a2 91.2%,#f9c08a 92.7%,#f9b983 93%,#f48f5d 94.5%,#f07751 95.4%,#ee6949 96.2%,#e24b32 97.6%,#d93628 98.6%,#cc2227 99.5%,#c52026 99.9%)"></i><i style="background:linear-gradient(90deg,#d73328 0.1%,#cb2027 0.5%,#a81d22 2.1%,#951a1f 3.7%,#8a181c 5.7%,#89181c 8.6%,#8c181d 9.2%,#a91d23 11.4%,#cb2027 12.8%,#db3b2a 13.3%,#e24a32 13.7%,#ee6c4b 14.3%,#f48e5d 15.2%,#f9ba84 16.2%,#fbd4a1 17.3%,#fddfb7 18%,#fef4e6 20.1%,#fff7ed 21.1%,#fff7ed 22.2%,#fef5e8 23.6%,#fef3e3 36.3%,#fef0dd 37.7%,#fcdcb0 41%,#fbd5a2 41.6%,#f9bb85 43.5%,#f48f5d 45%,#f07751 45.8%,#ee6a4a 46.4%,#e24a32 48%,#da3829 48.9%,#cb2027 49.9%,#aa1d23 51.3%,#951a1f 53%,#8a181c 54.7%,#8a181c 57.1%,#87171b 57.8%,#8a181c 58.2%,#a81d22 60.5%,#c82027 61.8%,#cb2027 61.9%,#da3829 62.5%,#e24932 62.9%,#ee6b4a 63.7%,#f48f5d 64.6%,#f9ba84 65.5%,#fac38d 65.8%,#fbd4a1 66.6%,#fcdeb4 67.2%,#fef4e6 69.7%,#fff7ed 71.3%,#fef5e8 72.6%,#fef4e5 86%,#fcdeb4 90.1%,#fbd4a1 91%,#f9bc86 92.7%,#f4905e 94.3%,#ef734f 95.4%,#ee6a4a 95.9%,#e24a32 97.5%,#d93628 98.5%,#ca2027 99.5%,#c31f26 99.9%)"></i><i style="background:linear-gradient(90deg,#d42e28 0.1%,#cb2027 0.4%,#a71d22 2%,#951a1f 3.5%,#8a181c 5.5%,#8a181c 8.4%,#92191e 9.6%,#a91d22 11.4%,#c92027 12.8%,#cd2227 12.9%,#da3929 13.3%,#e24931 13.7%,#ee6b4b 14.3%,#f48e5d 15.2%,#f9ba85 16.2%,#fbd5a2 17.3%,#fcdeb5 17.9%,#fef4e6 20%,#fff7ed 21%,#fff7ed 22.2%,#fef5e8 23.6%,#fef2e2 36.3%,#fef0dd 37.5%,#fcdbaf 40.7%,#fbd5a2 41.4%,#f9bd87 43.2%,#f8af7a 43.8%,#f4905e 44.8%,#f07852 45.5%,#ee6949 46.3%,#e24932 47.9%,#d83528 48.9%,#cb2027 49.8%,#a91d23 51.2%,#951a1f 52.9%,#8a181c 54.6%,#88171c 57.8%,#a71d22 60.5%,#c92027 61.9%,#cc2227 62%,#db3a2a 62.6%,#e34c34 63%,#ee6a4a 63.7%,#f48e5d 64.6%,#f9ba84 65.5%,#fbd29f 66.5%,#fcdfb7 67.3%,#fef4e5 69.6%,#fff7ec 70.5%,#fff7ed 71.3%,#fef5e8 72.7%,#fef3e4 85.9%,#fcddb4 89.9%,#fbd4a1 90.8%,#f9bd87 92.5%,#f48f5d 94.1%,#ef724e 95.3%,#ee694a 95.8%,#e24a32 97.4%,#d93628 98.4%,#ca2027 99.4%,#c11f26 99.9%)"></i><i style="background:linear-gradient(90deg,#d22a27 0.1%,#cb2027 0.3%,#a71d22 1.8%,#951a1f 3.4%,#8a181c 5.4%,#8a181c 8.3%,#951a1f 9.9%,#aa1d23 11.5%,#cb2027 12.9%,#d93728 13.3%,#e34d35 13.8%,#ee6b4a 14.3%,#f48e5d 15.2%,#f9bb85 16.2%,#fbd3a0 17.2%,#fcdfb6 17.9%,#fef4e5 19.9%,#fff7ed 21%,#fff7ee 22.2%,#fef5e8 23.6%,#fef4e6 31.7%,#fef2e1 36.7%,#fef0dd 37.3%,#fcdfb6 40.1%,#fbd4a1 41.2%,#f9bb85 43.1%,#f4915e 44.5%,#f07751 45.4%,#ed6849 46.2%,#e24b33 47.7%,#d93728 48.7%,#cb2027 49.7%,#a61c22 51.3%,#951a1f 52.8%,#8a181c 54.6%,#8b181c 57.9%,#961a1f 59.1%,#a81d22 60.6%,#ca2027 62%,#da3729 62.6%,#e24a32 63%,#ee6949 63.7%,#f48e5d 64.6%,#f9ba84 65.5%,#fbd5a2 66.6%,#fddfb7 67.3%,#fef3e5 69.5%,#fff7ed 70.5%,#fff7ed 71.3%,#fef5e8 72.7%,#fef3e4 85.8%,#fcddb3 89.7%,#fbd4a1 90.6%,#f9bd87 92.3%,#f4905e 93.9%,#f0744f 95%,#ee6949 95.7%,#e24a32 97.3%,#d93628 98.3%,#cb2027 99.3%,#bf1f26 99.9%)"></i><i style="background:linear-gradient(90deg,#cf2627 0.1%,#c92027 0.3%,#a71d22 1.7%,#951a1f 3.3%,#8a181c 5.3%,#8a181c 8.4%,#951a1f 10%,#a91d22 11.5%,#ca2027 12.9%,#db3b2a 13.4%,#e34c33 13.8%,#ee6a4a 14.3%,#f48e5d 15.2%,#f9bb85 16.2%,#fbd3a0 17.2%,#fddfb7 17.9%,#fef4e7 19.9%,#fff8ee 21%,#fff8ee 22%,#fef5e8 23.7%,#fef4e5 32.6%,#fef2e1 36.4%,#fef0dd 37.1%,#fcdcb0 40.2%,#fbd5a3 40.9%,#f9bd87 42.8%,#f49260 44.3%,#f07952 45.2%,#ee6a4a 46%,#e14831 47.7%,#d93728 48.6%,#cb2027 49.6%,#a61d22 51.2%,#951a1f 52.7%,#8a181c 54.7%,#8a181c 57.6%,#951a1f 59.1%,#a81d22 60.7%,#c92027 62%,#cc2127 62.2%,#db3a2a 62.7%,#e14831 63%,#ee6c4b 63.8%,#f49260 64.7%,#f9b983 65.5%,#fbd5a2 66.6%,#fcdeb5 67.2%,#fef4e6 69.5%,#fff7ed 70.5%,#fff7ed 71.3%,#fef5e8 72.7%,#fef3e3 85.8%,#fcddb3 89.5%,#fbd4a1 90.4%,#f9bb86 92.1%,#f48f5d 93.8%,#ef734f 94.9%,#ed6849 95.6%,#e24a32 97.2%,#d93628 98.2%,#cb2027 99.2%,#bd1f25 99.9%)"></i><i style="background:linear-gradient(90deg,#cd2327 0.1%,#ca2027 0.2%,#ae1d23 1.3%,#a61c22 1.7%,#951a1f 3.2%,#88171c 5.5%,#8a181c 8.4%,#951a1f 10%,#aa1d23 11.6%,#c82027 12.9%,#cc2127 13%,#da3929 13.4%,#e24a32 13.8%,#ee6a4a 14.3%,#f48e5d 15.2%,#f9be89 16.3%,#fbd4a1 17.2%,#fcdcb1 17.7%,#fef4e6 19.8%,#fff8ef 21.7%,#fef5e8 23.7%,#fef4e6 31%,#fef2e0 36.4%,#fef0dd 36.8%,#fcdeb6 39.6%,#fbd5a2 40.6%,#f9bb85 42.6%,#f4905e 44.2%,#f07851 45.1%,#ee6a4a 45.9%,#e14831 47.5%,#d93728 48.4%,#cb2127 49.4%,#a61d22 51.1%,#951a1f 52.6%,#8a181c 54.3%,#8a181c 57.6%,#941a1f 59.1%,#a91d23 60.8%,#ca2027 62.2%,#da3729 62.7%,#e24b33 63.2%,#ee6b4b 63.8%,#f4915f 64.7%,#f9b983 65.5%,#fbd5a2 66.6%,#fcdeb5 67.2%,#fef4e5 69.4%,#fff7ed 70.4%,#fff7ed 71.3%,#fef5e8 72.9%,#fef2e2 85.7%,#fcddb3 89.2%,#fbd4a1 90.1%,#f9bc86 91.9%,#f48e5d 93.7%,#ef734f 94.8%,#ee6a4a 95.4%,#e24a32 97%,#d93728 98%,#cb2127 99.1%,#ba1f25 99.9%)"></i><i style="background:linear-gradient(90deg,#cb2027 0.1%,#aa1d23 1.4%,#971a1f 2.8%,#8a181c 4.6%,#86171b 6%,#89181c 8.3%,#951a1f 10.1%,#a91d22 11.6%,#ca2027 13%,#d93728 13.4%,#e24931 13.8%,#ee6949 14.3%,#f49260 15.3%,#f9be89 16.3%,#fbd4a1 17.2%,#fcddb2 17.7%,#fef4e5 19.7%,#fff7ec 20.6%,#fff9f0 21.7%,#fef5e8 23.8%,#fef4e6 30.7%,#fef1e0 36.3%,#fddfb7 39.3%,#fbd5a2 40.4%,#f9bb85 42.4%,#f4915f 44%,#f07751 45%,#ee6949 45.8%,#e14831 47.4%,#d93729 48.3%,#cc2127 49.3%,#a61d22 51%,#951a1f 52.5%,#89181c 54.6%,#89181c 57.5%,#951a1f 59.3%,#aa1d23 60.9%,#cb2027 62.3%,#d83528 62.7%,#e24932 63.2%,#ee6a4a 63.8%,#f4915e 64.7%,#f9bd87 65.6%,#fbd5a2 66.6%,#fcddb2 67.1%,#fef4e6 69.4%,#fff7ed 70.4%,#fff7ed 71.5%,#fef5e8 72.9%,#fef2e1 85.7%,#fcdbaf 89.2%,#fbd4a1 89.9%,#f9bd87 91.7%,#f48f5e 93.5%,#ef734e 94.7%,#ee6a4a 95.3%,#e24a32 96.9%,#d93728 97.9%,#cc2127 98.9%,#b81f25 99.9%)"></i><i style="background:linear-gradient(90deg,#c92027 0.1%,#a91d22 1.4%,#961a1f 2.8%,#8a181c 4.6%,#84171b 6.3%,#86171b 8.2%,#961a1f 10.2%,#a81d22 11.6%,#c92027 13%,#cc2227 13.1%,#db3b2a 13.5%,#e34e35 13.9%,#ed6849 14.3%,#f49260 15.3%,#f9be89 16.3%,#fbd4a1 17.2%,#fcddb2 17.7%,#fef4e6 19.7%,#fff9f1 21.7%,#fef5e8 23.8%,#fef4e6 30.4%,#fef1e0 36.1%,#fddfb7 39.1%,#fbd5a2 40.2%,#f9bb85 42.2%,#f4905e 43.9%,#f07751 44.9%,#ee6949 45.7%,#e24a32 47.2%,#da3729 48.2%,#ca2027 49.3%,#a81d22 50.8%,#961a1f 52.2%,#8a181c 54%,#87171c 55%,#87171c 57.4%,#951a1f 59.4%,#a91d22 60.9%,#c92027 62.3%,#cc2227 62.4%,#da3729 62.8%,#e14731 63.2%,#ed6949 63.8%,#f4905e 64.7%,#f9bc86 65.6%,#fbd5a2 66.6%,#fcddb3 67.1%,#fef4e6 69.3%,#fff7ed 70.3%,#fff7ed 71.5%,#fef5e8 73%,#fef4e6 79.8%,#fef1e0 85.6%,#fcdbaf 89%,#fbd5a2 89.7%,#f9bd87 91.5%,#f48f5d 93.4%,#ef724e 94.6%,#ee6a4a 95.2%,#e24a32 96.8%,#d83528 97.9%,#cb2027 98.9%,#b61e24 99.9%)"></i><i style="background:linear-gradient(90deg,#c82027 0.1%,#aa1d23 1.3%,#961a1f 2.8%,#89181c 4.6%,#83161b 6.6%,#85171b 8.2%,#951a1f 10.2%,#a91d23 11.8%,#cb2027 13.1%,#da3929 13.5%,#e34c34 13.9%,#ed6748 14.3%,#f49260 15.3%,#f9be89 16.3%,#fbd5a2 17.2%,#fcddb3 17.7%,#fef4e5 19.6%,#fff7ec 20.5%,#fff9f1 21.7%,#fef5e8 23.8%,#fef1e0 35.8%,#fef0dd 36.3%,#fee9cc 37.4%,#fcdeb4 39.1%,#fbd7a7 39.7%,#f9bb85 42%,#f48f5d 43.8%,#f0744f 44.9%,#ee6949 45.5%,#e14831 47.2%,#d93628 48.2%,#cb2027 49.2%,#a91d22 50.7%,#961a1f 52.1%,#8a181c 53.9%,#85171b 55.4%,#85171b 57.2%,#951a1f 59.5%,#a91d23 61%,#cb2027 62.4%,#d83528 62.8%,#e24a32 63.3%,#ee6c4b 63.9%,#f48f5d 64.7%,#f9bc86 65.6%,#fbd5a2 66.6%,#fcddb3 67.1%,#fef4e6 69.3%,#fff7ed 70.3%,#fff8ee 71.5%,#fef5e8 73%,#fef4e6 79.4%,#fef1df 85.5%,#fcdbb0 88.8%,#fbd5a2 89.5%,#f9bc86 91.4%,#f4905e 93.1%,#ef724e 94.5%,#ee6a4a 95%,#e24a32 96.7%,#d93628 97.8%,#cb2027 98.8%,#b41e24 99.9%)"></i><i style="background:linear-gradient(90deg,#c72026 0.1%,#a91d23 1.3%,#951a1f 2.8%,#89181c 4.6%,#81161a 7%,#82161a 8.1%,#8d181d 9.9%,#9a1b20 10.6%,#a81d22 11.8%,#ca2027 13.1%,#cd2327 13.2%,#d93728 13.5%,#e24a32 13.9%,#ee6c4b 14.4%,#f4915f 15.3%,#f9be88 16.3%,#fbd5a2 17.2%,#fcddb3 17.7%,#fef4e6 19.6%,#fff7ed 20.5%,#fff9f1 21.7%,#fef5e8 23.9%,#fef2e0 35.6%,#fef0dd 36.1%,#fee9cd 37.2%,#fcd9aa 39.4%,#f9bb86 41.8%,#f48e5d 43.6%,#f0744f 44.8%,#ee6949 45.4%,#e14931 47.1%,#d93628 48.1%,#cb2127 49.1%,#a91d23 50.6%,#971a1f 52%,#89181c 53.9%,#82161a 55.8%,#83161b 57.2%,#91191e 59.3%,#a81d22 61%,#cc2127 62.5%,#da3829 62.9%,#e14831 63.3%,#ee6b4a 63.9%,#f48d5d 64.7%,#f9bb85 65.6%,#fbd5a2 66.6%,#fcddb3 67.1%,#fef4e6 69.2%,#fff7ee 70.3%,#fff8ef 71.2%,#fef5e8 73.1%,#fef4e6 79.2%,#fef1df 85.3%,#fcdcb0 88.6%,#fbd5a2 89.2%,#f9bd87 91.1%,#f4905e 93%,#f0744f 94.3%,#ee6a4a 94.9%,#e14831 96.7%,#d93628 97.7%,#cc2127 98.7%,#b21e24 99.9%)"></i><i style="background:linear-gradient(90deg,#c52026 0.1%,#ab1d23 1.2%,#931a1e 3.1%,#81161a 6.2%,#7f161a 8.6%,#86171b 9.8%,#9a1b20 10.8%,#aa1d23 11.9%,#c82027 13.1%,#cc2127 13.2%,#db3b2b 13.7%,#e14831 13.9%,#ee6b4b 14.4%,#f4915f 15.3%,#f9bb85 16.2%,#fbd29e 17.1%,#fcdfb7 17.8%,#fef4e6 19.6%,#fff9f1 21.7%,#fef5e8 23.9%,#fef1e0 35.5%,#fef0dc 36%,#fee9cc 37.1%,#fcd9aa 39.2%,#f9bc86 41.5%,#f4905e 43.4%,#f0744f 44.6%,#ee6a4a 45.3%,#e24932 47%,#d93728 48%,#ca2027 49.1%,#a81d22 50.6%,#961a1f 52%,#88171c 54%,#80161a 56%,#83161b 57.9%,#8b181c 59%,#a91d23 61.1%,#ca2027 62.5%,#db3a2a 63%,#e24b33 63.4%,#ee6949 63.9%,#f49260 64.8%,#f9ba85 65.6%,#f9c18b 65.8%,#fbd4a1 66.6%,#fcddb2 67.1%,#fef4e6 69.2%,#fff8f0 71.1%,#fef5e8 73.1%,#fef1e0 85%,#fcdeb4 88.1%,#fbd4a1 89.1%,#f9bc86 91%,#f48f5e 92.9%,#f07450 94.1%,#ed6849 94.9%,#e24b33 96.5%,#d93728 97.6%,#cb2027 98.7%,#b01e24 99.9%)"></i><i style="background:linear-gradient(90deg,#c41f26 0.1%,#aa1d23 1.2%,#91191e 3.3%,#80161a 6.4%,#7c1519 8.9%,#7e1519 9.5%,#84171b 10%,#9a1b20 11%,#ab1d23 12%,#ca2027 13.2%,#da3929 13.7%,#e34d34 14%,#ee6a4a 14.4%,#f4905e 15.3%,#f9be88 16.3%,#fbd5a2 17.2%,#fcdbaf 17.6%,#fef4e5 19.5%,#fff7ed 20.3%,#fff9f1 21.7%,#fef5e8 24%,#fef2e0 35.3%,#fef0dd 35.7%,#fee9cc 36.8%,#fcd9ab 39%,#fbd5a2 39.4%,#f9bc86 41.3%,#f48f5e 43.3%,#f0744f 44.5%,#ee6a4a 45.2%,#e24a32 46.9%,#d93528 48%,#cb2027 49%,#a91d22 50.4%,#961a1f 51.9%,#86171b 54.2%,#7e1519 56.4%,#7e151a 57.9%,#84171b 58.8%,#9a1b20 60%,#aa1d23 61.3%,#c82027 62.5%,#cb2127 62.6%,#da3829 63%,#e14931 63.4%,#ee6c4b 64%,#f4905e 64.8%,#f9b984 65.6%,#fbd4a1 66.6%,#fcdeb6 67.2%,#fef4e5 69.1%,#fff7ec 69.8%,#fff9f1 71.1%,#fef5e8 73.2%,#fef1e0 84.8%,#fef0dc 85.2%,#fcdeb5 87.9%,#fbd5a2 88.9%,#f9bd87 90.8%,#f48f5d 92.8%,#ef734e 94.1%,#ed6949 94.8%,#e24932 96.5%,#d93528 97.6%,#cc2127 98.6%,#ad1d23 99.9%)"></i><i style="background:linear-gradient(90deg,#c21f26 0.1%,#ac1d23 1.1%,#8e191d 3.5%,#85171b 4.8%,#7d1519 6.9%,#7c1519 9.4%,#7e1519 10%,#84171b 10.3%,#c92027 13.2%,#cc2227 13.3%,#d93628 13.7%,#e24b33 14%,#ed6849 14.4%,#f48f5e 15.3%,#f9ba84 16.2%,#fbd4a1 17.2%,#fcdfb6 17.8%,#fef4e6 19.5%,#fff7ed 20.5%,#fff9f1 21.8%,#fef5e8 24%,#fef1e0 35.2%,#fef0dd 35.6%,#feeacd 36.6%,#fcdaac 38.7%,#fbd5a2 39.2%,#f9bd87 41.1%,#f48f5d 43.2%,#ef734f 44.5%,#ee6a4a 45.1%,#e14931 46.9%,#d93628 47.9%,#ca2027 49%,#aa1d23 50.3%,#961a1f 51.9%,#84171b 54.5%,#7d1519 56.5%,#7c1519 58.1%,#80161a 58.8%,#991b20 60%,#a91d22 61.3%,#ca2027 62.6%,#cd2327 62.7%,#db3a2a 63.2%,#e34c33 63.5%,#ee6b4a 64%,#f48f5d 64.8%,#f9b983 65.6%,#fbd4a1 66.6%,#fcdeb6 67.2%,#fef4e6 69.1%,#fff9f1 71.2%,#fef5e8 73.3%,#fef1e0 84.7%,#fcddb3 87.8%,#fbd5a2 88.7%,#f9bc86 90.7%,#f4915f 92.6%,#ef734f 94%,#ee6949 94.7%,#e24a32 96.4%,#d93628 97.5%,#cb2027 98.6%,#ac1d23 99.9%)"></i><i style="background:linear-gradient(90deg,#c11f26 0.1%,#ad1d23 0.9%,#8b181d 3.8%,#7d1519 6.7%,#7c1519 9.9%,#7e151a 10.3%,#85171b 10.6%,#cb2027 13.3%,#db3b2a 13.8%,#e14931 14%,#ee6d4b 14.5%,#f48e5d 15.3%,#f9b983 16.2%,#f9c08b 16.4%,#fbd4a1 17.2%,#fcddb3 17.7%,#fef4e6 19.5%,#fff7ed 20.5%,#fff9f1 21.8%,#fef5e8 24.1%,#fef1e0 35.1%,#fee9cd 36.5%,#fbd8a8 38.7%,#f9bc86 41%,#f48e5d 43.1%,#ef734f 44.4%,#ee6949 45.1%,#e24932 46.8%,#d83528 47.9%,#cb2127 48.9%,#a91d22 50.3%,#961a1f 51.8%,#84171b 54.3%,#7c1519 56.1%,#7c1519 58.5%,#7f161a 59%,#991b20 60.1%,#aa1d23 61.4%,#c82027 62.6%,#cb2027 62.7%,#da3729 63.2%,#e24932 63.5%,#ee6949 64%,#f48d5d 64.8%,#f9bc86 65.7%,#fbd3a0 66.6%,#fde0b8 67.3%,#fef4e6 69.1%,#fff9f1 71.2%,#fef5e8 73.4%,#fef1e0 84.4%,#fef0dc 84.9%,#fcdeb4 87.6%,#fbd4a1 88.6%,#f9bb86 90.6%,#f4915f 92.5%,#ef734f 93.9%,#ee6a4a 94.6%,#e14931 96.4%,#d83528 97.5%,#cc2127 98.5%,#ab1d23 99.9%)"></i><i style="background:linear-gradient(90deg,#bf1f26 0.1%,#ac1d23 1.1%,#8c181d 3.6%,#84171b 4.7%,#7c1519 6.6%,#7c1519 10.1%,#7d1519 10.4%,#83161b 10.8%,#9b1b20 11.5%,#c92027 13.3%,#cd2327 13.4%,#da3829 13.8%,#e34e35 14.1%,#ee6b4b 14.5%,#f49360 15.4%,#f9bd87 16.3%,#fbd4a1 17.2%,#fcdeb6 17.8%,#fef4e6 19.5%,#fff7ed 20.5%,#fff9f1 21.8%,#fef5e8 24.2%,#fef2e0 34.8%,#fef0dd 35.3%,#fee9cc 36.4%,#fcdeb4 38%,#fbd7a7 38.6%,#f9bd87 40.7%,#f4905e 42.9%,#f0744f 44.3%,#ee6a4a 45%,#e14831 46.8%,#d93628 47.8%,#cb2027 48.9%,#a81d22 50.3%,#971a1f 51.7%,#84171b 54.2%,#7c1519 55.8%,#7e151a 59.3%,#981b20 60.4%,#aa1d23 61.5%,#c92027 62.7%,#cc2227 62.8%,#db3a2a 63.3%,#e34c34 63.6%,#ee6c4b 64.2%,#f4915f 64.9%,#f9bc86 65.7%,#fbd3a0 66.6%,#fcdeb5 67.2%,#fef4e5 69%,#fff7ec 69.8%,#fff9f1 71.2%,#fef5e8 73.5%,#fef1e0 84.3%,#fef0dc 84.8%,#fcdeb5 87.3%,#fbd5a2 88.4%,#f9bd87 90.4%,#f4915f 92.4%,#f0744f 93.8%,#ee6a4a 94.5%,#e24932 96.3%,#d93628 97.4%,#cb2027 98.5%,#ae1d23 99.7%,#ab1d23 99.9%)"></i><i style="background:linear-gradient(90deg,#be1f25 0.1%,#ad1d23 0.9%,#8a181c 3.8%,#83161b 4.8%,#7c1519 6.4%,#7c1519 10.3%,#82161a 10.9%,#9c1b20 11.6%,#cb2127 13.4%,#dc3c2b 13.9%,#ef6f4d 14.7%,#f4915f 15.4%,#f9bc87 16.3%,#fbd3a0 17.2%,#fcdeb6 17.8%,#fef4e6 19.5%,#fff7ed 20.5%,#fff9f1 21.9%,#fef5e8 24.2%,#fef2e0 34.6%,#fef0db 35.3%,#fcdbaf 38.1%,#fbd4a1 38.7%,#f9bc86 40.6%,#f4905e 42.8%,#ee6b4a 44.9%,#e24932 46.7%,#d93528 47.8%,#ca2027 48.9%,#a61c22 50.4%,#951a1f 51.8%,#82161a 54.3%,#7c1519 55.7%,#7c1519 59.1%,#7f161a 59.6%,#a91d22 61.5%,#cb2027 62.8%,#da3729 63.3%,#e24932 63.6%,#ee6a4a 64.2%,#f48f5e 64.9%,#f9bb85 65.7%,#fbd8a8 66.8%,#fddfb8 67.3%,#fef4e5 69%,#fff7ed 69.8%,#fff9f1 71.2%,#fef5e8 73.6%,#fef1e0 84.2%,#fcdeb4 87.2%,#fbd4a1 88.2%,#f9bc86 90.2%,#f4915f 92.3%,#f0744f 93.7%,#ee6949 94.5%,#e14831 96.3%,#d83528 97.4%,#cc2127 98.4%,#af1e24 99.6%,#ac1d23 99.9%)"></i><i style="background:linear-gradient(90deg,#bc1f25 0.1%,#b01e24 0.7%,#9a1b20 2.7%,#89181c 4%,#80161a 5.1%,#7c1519 6.2%,#7c1519 10.5%,#81161a 11%,#9d1b20 11.8%,#ca2027 13.4%,#cd2427 13.5%,#db392a 13.9%,#e14831 14.1%,#ef6e4c 14.7%,#f4905e 15.4%,#f9bc86 16.3%,#fbd3a0 17.2%,#fde0b9 17.9%,#fef4e6 19.5%,#fff7ee 20.5%,#fff9f1 21.9%,#fef5e8 24.4%,#fef2e0 34.5%,#fef0dd 35.1%,#fcdbae 38%,#fbd4a1 38.6%,#f9bd87 40.4%,#f4905e 42.6%,#ee6a4a 44.9%,#e14831 46.7%,#d93728 47.7%,#cb2027 48.8%,#a51c22 50.4%,#951a1f 51.8%,#7f161a 54.6%,#7c1519 55.6%,#7c1519 59.4%,#7f161a 59.8%,#cc2227 62.9%,#db3a2a 63.4%,#e34d34 63.7%,#ee6c4b 64.3%,#f48d5d 64.9%,#f9b984 65.7%,#fbd5a2 66.7%,#fcdaac 66.9%,#fef4e6 69%,#fff7ed 70%,#fff9f1 71.3%,#fef5e8 73.7%,#fef1e0 84.1%,#fcdeb5 87%,#fbd5a2 88%,#f9bc86 90.1%,#f4915f 92.1%,#ef734f 93.7%,#ee6a4a 94.4%,#e24932 96.2%,#d93628 97.3%,#cb2027 98.4%,#ae1e23 99.6%,#ad1d23 99.9%)"></i><i style="background:linear-gradient(90deg,#bb1f25 0.1%,#b11e24 0.6%,#9a1b20 2.7%,#86171b 4.2%,#7f161a 5.2%,#7c1519 6.1%,#7c1519 10.6%,#80161a 11.1%,#a81d22 12.2%,#c82027 13.4%,#cc2127 13.5%,#d93628 13.9%,#e34d34 14.2%,#ee6c4b 14.7%,#f48f5e 15.4%,#f9bb85 16.3%,#fbd29f 17.2%,#fddfb8 17.9%,#fef4e6 19.5%,#fff7ee 20.5%,#fff9f1 22%,#fef5e8 24.4%,#fef2e0 34.4%,#fef0dd 34.9%,#fcdcb0 37.7%,#fbd5a2 38.4%,#f9bd87 40.3%,#f4905e 42.5%,#ed6949 44.9%,#e24a32 46.5%,#d93628 47.7%,#cb2027 48.8%,#aa1d23 50.1%,#a51c22 50.4%,#961a1f 51.7%,#7e1519 54.6%,#7c1519 59.5%,#7f161a 60%,#ca2027 62.9%,#d93729 63.4%,#e24932 63.7%,#ee6a4a 64.3%,#f4915f 65.1%,#f9bd87 65.8%,#fbd4a1 66.7%,#fcd9ab 66.9%,#fde1ba 67.4%,#fef4e6 69%,#fff7ed 70%,#fff9f1 71.3%,#fef5e8 73.7%,#fef1e0 84%,#fcdeb4 86.9%,#fbd5a2 87.9%,#f9bc86 90%,#f48f5d 92.1%,#f0744f 93.6%,#ed6849 94.4%,#e24a32 96%,#d93729 97.2%,#ca2027 98.4%,#ad1d23 99.6%,#ae1d23 99.9%)"></i><i style="background:linear-gradient(90deg,#ba1f25 0.1%,#9a1b20 2.8%,#84171b 4.4%,#7e1519 5.2%,#7c1519 10.8%,#80161a 11.2%,#a61d22 12.2%,#ca2027 13.5%,#db3b2a 14%,#e24a32 14.2%,#ee6a4a 14.7%,#f48e5d 15.4%,#f9ba84 16.3%,#fac48e 16.7%,#fbd5a2 17.3%,#fcddb3 17.8%,#fef4e7 19.5%,#fff7ee 20.5%,#fff9f1 22%,#fef5e8 24.5%,#fef2e0 34.3%,#fef0dd 34.8%,#fcdcb0 37.6%,#fbd5a2 38.3%,#f9bc86 40.2%,#f4905e 42.4%,#ee6a4a 44.8%,#e24931 46.5%,#d93628 47.7%,#ca2027 48.8%,#a61d22 50.3%,#961a1f 51.7%,#7d1519 54.5%,#7e1519 60.1%,#cc2227 63%,#db3a2a 63.5%,#e34d34 63.8%,#ee6c4b 64.4%,#f48f5d 65.1%,#f9bc86 65.8%,#fcd9aa 66.9%,#fde0ba 67.4%,#fef4e6 69%,#fff7ed 70%,#fff9f1 71.3%,#fef5e8 73.9%,#fef1df 83.9%,#fcdeb6 86.7%,#fbd4a1 87.8%,#f9bb85 89.9%,#f48f5e 92%,#ee6949 94.3%,#e24932 96%,#d93628 97.2%,#cc2127 98.3%,#af1e23 99.5%,#af1e23 99.9%)"></i><i style="background:linear-gradient(90deg,#b91f25 0.1%,#7e1519 5.1%,#7c1519 10.9%,#80161a 11.3%,#a81d22 12.3%,#c82027 13.5%,#cc2227 13.7%,#da3829 14%,#e14730 14.2%,#ef6e4c 14.8%,#f4925f 15.6%,#f9b983 16.3%,#fbd4a1 17.3%,#fcdfb7 17.9%,#fef4e6 19.5%,#fff7ee 20.5%,#fff9f1 22.1%,#fef5e8 24.6%,#fef2e0 34.2%,#fef0dd 34.7%,#fcdeb4 37.3%,#fbd5a2 38.2%,#f9bc86 40.1%,#f4915f 42.3%,#ee6949 44.8%,#e24a32 46.4%,#d93729 47.5%,#ca2027 48.8%,#a61c22 50.3%,#951a1f 51.7%,#8b181c 53.1%,#7d1519 54.2%,#7c1519 59.9%,#7f161a 60.4%,#9b1b20 61.3%,#ca2027 63%,#d93728 63.5%,#e24932 63.8%,#ee6a4a 64.4%,#f49360 65.2%,#f9bb85 65.8%,#fcd8a9 66.9%,#fde0b9 67.4%,#fef4e6 69%,#fff7ed 70%,#fff9f1 71.4%,#fef5e8 74%,#fef1df 83.8%,#fcdeb5 86.6%,#fbd4a1 87.7%,#f9bb85 89.8%,#f4905e 91.9%,#ee6a4a 94.1%,#e14831 96%,#d93528 97.2%,#cb2027 98.3%,#ae1d23 99.5%,#af1e24 99.9%)"></i><i style="background:linear-gradient(90deg,#b81e25 0.1%,#9b1b20 2.8%,#7d1519 5.1%,#7c1519 11.1%,#81161a 11.4%,#a61d22 12.3%,#ca2027 13.7%,#dc3c2b 14.1%,#e34b33 14.3%,#ee6c4b 14.8%,#f4905e 15.6%,#f8b37d 16.2%,#f9bd87 16.4%,#fbd3a0 17.3%,#fde0b9 18%,#fef4e6 19.5%,#fff8ee 20.6%,#fff9f1 22.2%,#fef5e8 24.6%,#fef2e0 34.1%,#fef0dd 34.6%,#fcdeb4 37.2%,#fbd5a2 38.1%,#f9bc86 40%,#f48f5e 42.3%,#ed6849 44.8%,#e24a32 46.4%,#d93728 47.5%,#ca2027 48.8%,#a71d22 50.2%,#961a1f 51.6%,#8a181c 53.1%,#7d1519 54.1%,#7e151a 60.5%,#a61c22 61.7%,#cc2127 63.2%,#db3a2a 63.6%,#e34c34 63.9%,#ee6c4b 64.5%,#f4905e 65.2%,#f9b983 65.8%,#fbd5a3 66.8%,#fcdaad 67.1%,#fef4e6 69%,#fff7ed 70%,#fff9f1 71.4%,#fef5e8 74.1%,#fef1e0 83.7%,#fcdeb5 86.5%,#fbd4a1 87.6%,#f9bb85 89.7%,#f4905e 91.8%,#ee694a 94.1%,#e24932 95.9%,#d93728 97%,#ca2027 98.3%,#ad1d23 99.5%,#b01e24 99.9%)"></i><i style="background:linear-gradient(90deg,#b81e25 0.1%,#9b1b20 2.8%,#7d1519 5.1%,#7c1519 11.1%,#81161a 11.5%,#a81d22 12.4%,#c92027 13.7%,#cc2227 13.8%,#da3929 14.1%,#e14831 14.3%,#ee694a 14.8%,#f48e5d 15.6%,#f9bc86 16.4%,#fbd39f 17.3%,#fde0b8 18%,#fef4e6 19.5%,#fff8ee 20.6%,#fff9f1 22.2%,#fef5e8 24.7%,#fef2e0 33.9%,#fef0dd 34.5%,#fcdeb4 37.1%,#fbd5a2 38%,#f9bc86 39.9%,#f4905e 42.2%,#ee6a4a 44.6%,#e24932 46.4%,#d93628 47.5%,#cc2127 48.7%,#a71d22 50.2%,#961a1f 51.6%,#8a181c 53.1%,#7d1519 54%,#7e1519 60.6%,#a71d22 61.8%,#ca2027 63.2%,#d93728 63.6%,#e24931 63.9%,#ee6a4a 64.5%,#f48d5d 65.2%,#f9bd87 65.9%,#fbd5a2 66.8%,#fcdaac 67.1%,#fef4e6 69%,#fff7ed 70%,#fff9f1 71.5%,#fef5e8 74.1%,#fef1e0 83.6%,#fcdeb5 86.3%,#fbd5a3 87.3%,#f9bb85 89.6%,#f48f5e 91.8%,#ee6a4a 94%,#e24b33 95.8%,#d93628 97%,#cc2127 98.2%,#ad1d23 99.5%,#b01e24 99.9%)"></i><i style="background:linear-gradient(90deg,#b71e25 0.1%,#9a1b20 2.8%,#7d1519 5%,#7c1519 11.2%,#82161a 11.6%,#9d1b21 12.2%,#aa1d23 12.5%,#cb2027 13.8%,#d83528 14.1%,#dc3d2b 14.2%,#e34d34 14.4%,#ed6647 14.8%,#f49260 15.7%,#f8b580 16.3%,#f9be88 16.6%,#fbd5a2 17.4%,#fddfb7 18%,#fef4e6 19.5%,#fff8ee 20.6%,#fff9f1 22.4%,#fef5e8 24.7%,#fef1e0 33.9%,#fef0dc 34.5%,#fcdeb4 37%,#fbd5a2 37.8%,#f9bc86 39.7%,#f4915f 42.1%,#ee6949 44.6%,#e24932 46.4%,#d93628 47.5%,#cb2127 48.7%,#a71d22 50.2%,#961a1f 51.6%,#8a181c 53%,#7d1519 53.9%,#7e1519 60.7%,#a81d22 61.9%,#cc2127 63.3%,#db3a2a 63.7%,#e34c34 64%,#ee6c4b 64.6%,#f4915f 65.3%,#f9bc86 65.9%,#fcd9aa 67.1%,#fde1bb 67.5%,#fef4e6 69%,#fff7ed 70%,#fff9f1 71.5%,#fef5e8 74.2%,#fef1e0 83.4%,#fcdeb5 86.2%,#fbd4a1 87.3%,#f9bc86 89.5%,#f4905e 91.7%,#ee6a4a 94%,#e24a32 95.8%,#d93528 97%,#cb2027 98.2%,#ae1e23 99.4%,#ac1d23 99.6%,#af1e24 99.9%)"></i><i style="background:linear-gradient(90deg,#b71e25 0.1%,#9a1b20 2.7%,#7d1519 4.8%,#7c1519 11.3%,#7f161a 11.6%,#a81d22 12.5%,#c92027 13.8%,#cd2327 13.9%,#da392a 14.2%,#e24932 14.4%,#ee6b4a 14.9%,#f4905e 15.7%,#f8b47f 16.3%,#f9c08b 16.7%,#fbd4a1 17.4%,#fcdbae 17.8%,#fef4e6 19.5%,#fff8ee 20.6%,#fff9f1 22.4%,#fef5e8 24.8%,#fef2e0 33.8%,#fef0dc 34.4%,#fcdeb5 36.8%,#fbd5a2 37.7%,#f9bd87 39.6%,#f4905e 42.1%,#ee6949 44.6%,#e14931 46.4%,#d93628 47.5%,#cb2027 48.7%,#a71d22 50.2%,#7d1519 53.8%,#7e1519 60.8%,#a71d22 61.9%,#ca2027 63.3%,#d93728 63.7%,#e14931 64%,#ee6a4a 64.6%,#f48e5d 65.3%,#f9ba84 65.9%,#fcd8a9 67.1%,#fde0ba 67.5%,#fef4e6 69%,#fff7ed 70%,#fff9f1 71.6%,#fef5e8 74.3%,#fef1e0 83.3%,#fcdeb5 86.1%,#fbd4a1 87.2%,#f9bc86 89.4%,#f4915f 91.6%,#ee6949 94%,#e24932 95.8%,#d93728 96.9%,#cb2027 98.2%,#ad1d23 99.4%,#af1e24 99.9%)"></i><i style="background:linear-gradient(90deg,#b61e24 0.1%,#9a1b20 2.6%,#7d1519 4.7%,#7c1519 11.4%,#80161a 11.8%,#9d1b20 12.3%,#aa1d23 12.7%,#cb2027 13.9%,#d93628 14.2%,#e34e35 14.5%,#ed6848 14.9%,#f48f5d 15.7%,#f8b27d 16.3%,#f9bf8a 16.7%,#fbd3a0 17.4%,#fcdaad 17.8%,#fef4e6 19.5%,#fff8ee 20.6%,#fff9f1 22.5%,#fef5e8 24.9%,#fef1e0 33.9%,#feefdb 34.4%,#fcdeb5 36.7%,#fbd5a3 37.6%,#f9bd87 39.5%,#f4905e 42%,#ed6849 44.6%,#e24a32 46.3%,#da3829 47.4%,#cb2027 48.7%,#a71d22 50.2%,#7d1519 53.6%,#7c1519 60.5%,#7e151a 60.9%,#a81d22 62%,#cc2127 63.4%,#db3a2a 63.8%,#e34c34 64.2%,#ee6c4b 64.7%,#f38c5c 65.3%,#f9b882 65.9%,#fbd5a3 66.9%,#fcdaad 67.2%,#fef5e7 69.1%,#fff8ee 70.1%,#fff9f1 71.6%,#fef5e8 74.3%,#fef1e0 83.2%,#fcdeb5 86%,#fbd4a1 87.1%,#f9bc86 89.2%,#f4905e 91.6%,#ed6949 94%,#e24b33 95.7%,#d93628 96.9%,#ca2027 98.2%,#ad1d23 99.4%,#af1e23 99.9%)"></i><i style="background:linear-gradient(90deg,#b51e24 0.1%,#9a1b20 2.5%,#7d1519 4.6%,#7c1519 11.5%,#81161a 11.9%,#9a1b20 12.3%,#ac1d23 12.8%,#c92027 13.9%,#cd2327 14%,#db3a2a 14.3%,#e24a32 14.5%,#ee6c4b 15%,#f49260 15.8%,#f8b681 16.4%,#fbd5a2 17.6%,#fddfb8 18.1%,#fef5e7 19.6%,#fff8ef 20.8%,#fff9f1 22.6%,#fef5e8 24.9%,#fef1e0 33.8%,#fef0dc 34.3%,#fcdeb5 36.6%,#fbd4a1 37.6%,#f9bc86 39.5%,#f4905e 42%,#ee6a4a 44.5%,#e14831 46.4%,#d93628 47.5%,#cb2027 48.7%,#a91d22 50.1%,#7d1519 53.5%,#7d1519 60.9%,#82161a 61.1%,#9b1b20 61.7%,#aa1d23 62.2%,#ca2027 63.4%,#d93728 63.8%,#e14931 64.2%,#ee6a4a 64.7%,#f4905e 65.4%,#f9bc86 66.1%,#fbd5a2 66.9%,#fcd9ab 67.2%,#fef4e7 69.1%,#fff7ee 70.1%,#fff9f1 71.7%,#fef5e8 74.4%,#fef1e0 83.1%,#feefdb 83.6%,#fcdeb6 85.9%,#fbd5a1 87%,#f9bd87 89.1%,#f4915e 91.5%,#ee6a4a 93.9%,#e14831 95.8%,#d93628 96.9%,#cb2127 98%,#ac1d23 99.4%,#ae1e23 99.9%)"></i><i style="background:linear-gradient(90deg,#b51e24 0.1%,#9a1b20 2.4%,#7d1519 4.5%,#7c1519 11.5%,#7f161a 11.9%,#88171c 12.1%,#9c1b20 12.4%,#aa1d23 12.8%,#cb2027 14%,#d93628 14.3%,#e44f36 14.7%,#ee6949 15%,#f4905e 15.8%,#f8af7a 16.3%,#f9be88 16.7%,#fbd4a1 17.6%,#fcdbae 17.9%,#fef4e7 19.6%,#fff8ee 20.7%,#fff9f1 22.6%,#fef5e8 25%,#fef1df 33.8%,#fcdeb4 36.6%,#fbd5a2 37.5%,#f9bc86 39.4%,#f4915f 41.9%,#ee6a4a 44.5%,#e14831 46.4%,#d93528 47.5%,#cb2027 48.7%,#a91d22 50.1%,#7d1519 53.3%,#7e1519 61%,#83161b 61.3%,#981b20 61.7%,#a81d22 62.2%,#cc2127 63.5%,#db3a2a 63.9%,#e34c34 64.3%,#ee6c4b 64.8%,#f48d5c 65.4%,#f9ba85 66.1%,#fcd9aa 67.2%,#fde1bb 67.6%,#fef4e7 69.1%,#fff7ee 70.1%,#fff9f1 71.7%,#fef5e8 74.4%,#fef1e0 83%,#fef0dc 83.4%,#fcdeb6 85.8%,#fbd5a2 86.9%,#f9bb85 89.1%,#f4905e 91.5%,#ee6a4a 93.9%,#e24a32 95.7%,#d93528 96.9%,#cb2027 98%,#ac1d23 99.4%,#ae1e23 99.9%)"></i><i style="background:linear-gradient(90deg,#b41e24 0.1%,#9b1b20 2.3%,#7d1519 4.4%,#7c1519 11.6%,#80161a 12%,#9e1c21 12.5%,#ac1d23 12.9%,#c92027 14%,#cd2327 14.1%,#db3a2a 14.4%,#e24b33 14.7%,#ee6d4b 15.1%,#f48e5d 15.8%,#f9b883 16.6%,#fac38d 16.9%,#fbd3a0 17.6%,#fcdcb1 18%,#fef4e7 19.6%,#fff8ee 20.8%,#fff9f1 22.7%,#fef5e8 25.1%,#fef1e0 33.7%,#fcdeb4 36.5%,#fbd5a2 37.4%,#f9bd87 39.3%,#f4905e 41.9%,#ee6a4a 44.5%,#e24a32 46.3%,#d93528 47.5%,#cb2027 48.7%,#a91d22 50.1%,#7d1519 53.2%,#7e151a 61.1%,#a61d22 62.2%,#ca2027 63.5%,#d93728 63.9%,#e24932 64.3%,#ee6a4a 64.8%,#f49260 65.5%,#f9b883 66.1%,#fcdaad 67.3%,#fef4e6 69.1%,#fff8ee 70.2%,#fff9f1 71.9%,#fef5e8 74.5%,#fef1df 83%,#fcdfb6 85.7%,#fbd5a2 86.8%,#f9bc86 89%,#f4915f 91.4%,#ee6949 93.9%,#e24a32 95.7%,#d93728 96.8%,#cb2027 98%,#ab1d23 99.4%,#ae1d23 99.9%)"></i><i style="background:linear-gradient(90deg,#b41e24 0.1%,#9a1b20 2.3%,#7d1519 4.3%,#7c1519 11.8%,#82161a 12.1%,#9c1b20 12.5%,#aa1d23 12.9%,#cb2027 14.1%,#d93728 14.4%,#e14730 14.7%,#ee6a4a 15.1%,#f49260 15.9%,#f8b17c 16.4%,#f9bf89 16.8%,#fbd5a2 17.7%,#fcd9ab 17.9%,#fef4e6 19.6%,#fff8ee 20.7%,#fff9f1 22.7%,#fef5e8 25.1%,#fef1e0 33.6%,#feefdb 34.1%,#fcdeb5 36.4%,#fbd4a1 37.4%,#f9bc86 39.3%,#f48f5e 41.9%,#ee6a4a 44.5%,#e24a32 46.3%,#d93528 47.5%,#cb2027 48.7%,#a91d22 50.1%,#7d1519 53.1%,#7d1519 61.1%,#83161b 61.4%,#9d1b20 61.9%,#a81d22 62.3%,#cc2227 63.6%,#db3a2a 64%,#e34d34 64.4%,#ee6d4c 64.9%,#f48f5d 65.5%,#f8b07b 65.9%,#f9bc86 66.2%,#fbd5a2 67.1%,#fcdaac 67.3%,#fef1df 68.8%,#fef5e7 69.2%,#fff8ee 70.2%,#fff9f1 71.9%,#fef5e8 74.5%,#fef1e0 82.9%,#fcdeb5 85.7%,#fbd5a2 86.7%,#f9bc86 88.9%,#f4905e 91.4%,#ee6949 93.9%,#e24b33 95.6%,#d93728 96.8%,#ca2027 98%,#ab1d23 99.4%,#ad1d23 99.9%)"></i><i style="background:linear-gradient(90deg,#b31e24 0.1%,#9b1b20 2.2%,#7c1519 4.3%,#7c1519 11.8%,#80161a 12.1%,#9e1c21 12.7%,#ac1d23 13%,#c92027 14.1%,#cd2327 14.2%,#db3b2a 14.5%,#e34b33 14.8%,#ef6d4c 15.2%,#f48f5e 15.9%,#f8b580 16.6%,#f9c18b 16.9%,#fbd4a1 17.7%,#fef4e6 19.6%,#fff8ee 20.8%,#fff9f1 22.8%,#fef5e8 25.3%,#fef1df 33.6%,#fcddb4 36.4%,#fbd5a2 37.3%,#f9bd87 39.2%,#f4915f 41.8%,#ee6a4a 44.5%,#e24a32 46.3%,#d93528 47.5%,#cb2027 48.7%,#a91d22 50.1%,#7d1519 53.1%,#7e1519 61.3%,#85171b 61.5%,#9b1b20 61.9%,#a71d22 62.3%,#ca2027 63.6%,#da3729 64%,#e24a32 64.4%,#ee6b4a 64.9%,#f38c5c 65.5%,#f9ba85 66.2%,#fbd4a1 67.1%,#fcdbaf 67.4%,#fef4e7 69.2%,#fff8ee 70.3%,#fff9f1 72%,#fef5e8 74.5%,#fef1e0 82.8%,#fcdeb5 85.6%,#fbd4a1 86.7%,#f9bd87 88.8%,#f4915f 91.2%,#ee6949 93.9%,#e24931 95.7%,#d93628 96.8%,#cc2127 97.9%,#ac1d23 99.3%,#aa1d23 99.5%,#ad1d23 99.9%)"></i><i style="background:linear-gradient(90deg,#b31e24 0.1%,#9a1b20 2.2%,#7c1519 4.2%,#7c1519 11.9%,#82161a 12.2%,#9c1b20 12.7%,#aa1d23 13%,#cb2027 14.2%,#d93729 14.5%,#e14831 14.8%,#ee6a4a 15.2%,#f48d5d 15.9%,#f8b37e 16.6%,#f9c08a 16.9%,#fbd3a0 17.7%,#fcdaac 18%,#fef5e7 19.7%,#fff9f0 21.3%,#fff9f1 22.9%,#fef5e8 25.3%,#fef1e0 33.5%,#fcdeb4 36.3%,#fbd5a2 37.2%,#f9bc86 39.2%,#f4905e 41.8%,#ee6a4a 44.5%,#e24a32 46.3%,#d93528 47.5%,#cb2027 48.7%,#a91d22 50.1%,#9a1b20 51.2%,#7d1519 53%,#7d1519 61.3%,#83161b 61.5%,#981b20 61.9%,#a91d22 62.4%,#cc2227 63.7%,#db3b2a 64.2%,#e34e35 64.5%,#ed6849 64.9%,#f4915f 65.6%,#f9b883 66.2%,#fcdaad 67.4%,#fef4e7 69.2%,#fff8ee 70.3%,#fff9f1 72%,#fef5e8 74.6%,#fef1e0 82.7%,#feefdb 83.1%,#fcdeb5 85.5%,#fbd4a1 86.6%,#f9bc86 88.8%,#f4905e 91.2%,#ed6949 93.9%,#e14931 95.7%,#d93628 96.8%,#cc2127 97.9%,#ac1d23 99.3%,#aa1d23 99.5%,#ad1d23 99.9%)"></i><i style="background:linear-gradient(90deg,#b21e24 0.1%,#9b1b20 2.1%,#7d1519 4.1%,#7c1519 11.9%,#80161a 12.2%,#a81d22 13%,#c92027 14.2%,#cd2427 14.3%,#db3b2b 14.7%,#e34c34 14.9%,#ed6747 15.2%,#f4915f 16%,#f8b17c 16.6%,#f9bf89 16.9%,#fbd5a2 17.8%,#fef4e7 19.7%,#fff8f0 21.2%,#fff9f1 22.9%,#fef5e8 25.4%,#fef1df 33.5%,#fcddb3 36.3%,#fbd4a1 37.2%,#f9bd87 39.1%,#f4905e 41.8%,#ee6a4a 44.5%,#e24a32 46.3%,#d93628 47.5%,#cb2027 48.7%,#a91d22 50.1%,#991b20 51.3%,#7c1519 53%,#7e1519 61.4%,#a71d22 62.4%,#cb2027 63.7%,#da3829 64.2%,#e24b33 64.5%,#ee6c4b 65.1%,#f48e5d 65.6%,#f8af7b 66.1%,#f9bc86 66.3%,#fbd7a7 67.3%,#fde0b8 67.7%,#fef4e6 69.2%,#fff8ee 70.3%,#fff9f1 72.1%,#fef5e8 74.6%,#fef1df 82.7%,#fcdeb6 85.3%,#fbd5a2 86.5%,#f9bc86 88.7%,#f4905e 91.2%,#ee6a4a 93.8%,#e14831 95.7%,#d93628 96.8%,#cb2027 97.9%,#ac1d23 99.3%,#ac1d23 99.9%)"></i><i style="background:linear-gradient(90deg,#b21e24 0.1%,#9a1b20 2.1%,#7c1519 4.1%,#7c1519 12%,#81161a 12.3%,#9c1b20 12.8%,#aa1d23 13.1%,#cb2127 14.3%,#da3829 14.7%,#e14831 14.9%,#ee6b4a 15.3%,#f48e5d 16%,#f8b580 16.7%,#f9c18b 17%,#fbd4a1 17.8%,#fef4e6 19.7%,#fff8ef 21%,#fff9f1 23%,#fef5e8 25.4%,#fef1e0 33.4%,#fcdeb4 36.2%,#fbd5a2 37.1%,#f9bc86 39.1%,#f48f5e 41.8%,#ee6a4a 44.5%,#e24a32 46.3%,#da3829 47.4%,#c92027 48.8%,#a91d22 50.1%,#991b20 51.3%,#7d1519 52.9%,#7d1519 61.4%,#83161b 61.6%,#991b20 62%,#a91d23 62.5%,#c92027 63.7%,#cd2327 63.8%,#d93628 64.2%,#e14831 64.5%,#ee6a4a 65.1%,#f38b5c 65.6%,#f9ba84 66.3%,#fcd9aa 67.4%,#fde1bb 67.8%,#fef4e7 69.3%,#fff8ee 70.4%,#fff9f1 72.1%,#fef5e8 74.6%,#fef1e0 82.6%,#fcdeb4 85.3%,#fbd5a2 86.3%,#f9bd87 88.6%,#f4915f 91.1%,#ee6a4a 93.8%,#e14831 95.7%,#d93528 96.8%,#cb2027 97.9%,#ab1d23 99.3%,#ac1d23 99.9%)"></i><i style="background:linear-gradient(90deg,#b11e24 0.1%,#9b1b20 2%,#7c1519 4%,#7c1519 12%,#80161a 12.3%,#a81d22 13.1%,#ca2027 14.3%,#ce2427 14.4%,#dc3c2b 14.8%,#e34d34 15%,#ed6748 15.3%,#f49260 16.1%,#f8b37e 16.7%,#f9c08a 17%,#fbd5a3 17.9%,#fef4e6 19.7%,#fff8ee 20.9%,#fff9f1 23%,#fef5e8 25.5%,#fef1df 33.4%,#fcdeb5 36.1%,#fbd4a1 37.1%,#f9bd87 39%,#f4915f 41.6%,#ee6a4a 44.5%,#e24a32 46.3%,#da3829 47.4%,#c92027 48.8%,#a91d22 50.1%,#991b20 51.3%,#80161a 52.6%,#7c1519 52.9%,#7e151a 61.5%,#a71d22 62.5%,#cb2127 63.8%,#d73328 64.2%,#e34c34 64.6%,#ed6748 65.1%,#f4905e 65.7%,#f9b883 66.3%,#fbd8a8 67.4%,#fde0ba 67.8%,#fef4e6 69.3%,#fff8ee 70.4%,#fff9f1 72.1%,#fef5e8 74.7%,#fef1e0 82.4%,#feefdb 82.9%,#fcdeb5 85.2%,#fbd4a1 86.3%,#f9bc86 88.6%,#f4905e 91.1%,#ee6a4a 93.8%,#e14831 95.7%,#d93528 96.8%,#cb2027 97.9%,#ab1d23 99.3%,#ac1d23 99.9%)"></i><i style="background:linear-gradient(90deg,#b01e24 0.1%,#9a1b20 2%,#7d1519 3.8%,#7c1519 12.1%,#81161a 12.4%,#9c1b20 12.9%,#aa1d23 13.2%,#c82027 14.3%,#cc2127 14.4%,#da3829 14.8%,#e14831 15%,#ee6b4b 15.4%,#f48f5e 16.1%,#f8b681 16.8%,#f9c18c 17.1%,#fbd5a2 17.9%,#fef0dd 19.5%,#fef5e7 19.8%,#fff9f0 21.6%,#fff9f1 23.1%,#fef5e8 25.6%,#fef1e0 33.3%,#fcddb4 36.1%,#fbd5a2 37%,#f9bc86 39%,#f4915e 41.6%,#ee6a4a 44.5%,#e24a32 46.3%,#da3829 47.4%,#c92027 48.8%,#a91d22 50.1%,#991b20 51.3%,#7d1519 52.8%,#7d1519 61.5%,#83161b 61.7%,#991b20 62.2%,#aa1d23 62.6%,#ca2027 63.8%,#d93728 64.3%,#e24a32 64.6%,#ee6c4b 65.2%,#f48e5d 65.7%,#f8af7a 66.2%,#f9bc86 66.4%,#fbd5a2 67.3%,#fcd9ab 67.5%,#fef1df 69.1%,#fef5e7 69.4%,#fff8ee 70.4%,#fff9f1 72.1%,#fef5e8 74.7%,#fef1e0 82.4%,#fcdeb6 85.1%,#fbd5a2 86.2%,#f9bc86 88.5%,#f4905e 91.1%,#ee6a4a 93.8%,#e14831 95.7%,#d83528 96.8%,#ca2027 97.9%,#ab1d23 99.3%,#ab1d23 99.9%)"></i><i style="background:linear-gradient(90deg,#b01e24 0.1%,#9b1b20 1.8%,#7c1519 3.8%,#7c1519 12.1%,#7f161a 12.4%,#a81d22 13.2%,#ca2027 14.4%,#ce2427 14.5%,#dc3c2b 14.9%,#e34d34 15.1%,#ed6748 15.4%,#f38d5c 16.1%,#f8b47f 16.8%,#f9c08b 17.1%,#fbd4a0 17.9%,#fef4e7 19.8%,#fff8f0 21.5%,#fff9f1 23.1%,#fef5e8 25.6%,#fef1df 33.3%,#fcdeb5 36%,#fbd4a1 37%,#f9bd87 38.9%,#f4905e 41.6%,#ed6949 44.6%,#e24b32 46.3%,#da3829 47.4%,#c92027 48.8%,#a91d22 50.1%,#991b20 51.3%,#80161a 52.5%,#7c1519 52.8%,#7c1519 61.1%,#7e151a 61.6%,#a81d22 62.6%,#cc2127 63.9%,#d83428 64.3%,#e14731 64.6%,#ee6a4a 65.2%,#f38b5b 65.7%,#f9ba84 66.4%,#fbd6a5 67.4%,#fde1ba 67.9%,#fef4e7 69.4%,#fff8ee 70.5%,#fff9f1 72.2%,#fef5e8 74.7%,#fef1e0 82.3%,#feefdb 82.8%,#fcdeb4 85.1%,#fbd5a2 86.1%,#f9bc86 88.5%,#f4915f 91%,#ee6a4a 93.8%,#e24a32 95.6%,#db3b2a 96.5%,#ca2027 97.9%,#ab1d23 99.3%,#ab1d23 99.9%)"></i><i style="background:linear-gradient(90deg,#af1e24 0.1%,#9a1b20 1.8%,#7c1519 3.7%,#7c1519 12.2%,#81161a 12.5%,#9c1b20 13%,#ab1d23 13.3%,#c82027 14.4%,#cc2227 14.5%,#da3929 14.9%,#e24931 15.1%,#ee6b4b 15.6%,#f4905e 16.2%,#f8b27d 16.8%,#f9bd87 17%,#fbd39f 17.9%,#fef1df 19.6%,#fef5e8 19.9%,#fff9f0 21.7%,#fff9f1 23.2%,#fef5e8 25.7%,#fef1e0 33.2%,#fcddb4 36%,#fbd5a2 36.8%,#f9bc86 38.9%,#f4905e 41.6%,#ee6949 44.6%,#e14931 46.4%,#d93628 47.5%,#cb2027 48.7%,#a91d22 50.1%,#991b20 51.3%,#7d1519 52.7%,#7e1519 61.6%,#84171b 61.8%,#9a1b20 62.3%,#aa1d23 62.7%,#cb2027 63.9%,#da3829 64.4%,#e34c33 64.7%,#ef6e4c 65.3%,#f4905e 65.8%,#f8b17c 66.3%,#f9bd87 66.5%,#fbd5a3 67.4%,#fcdaad 67.6%,#fef4e6 69.4%,#fff8ee 70.5%,#fff9f1 72.2%,#fef5e8 74.9%,#fef1df 82.3%,#fcdeb5 85%,#fbd5a1 86.1%,#f9bc86 88.4%,#f4915f 91%,#ed6949 93.9%,#e24a32 95.6%,#d93728 96.7%,#cc2127 97.8%,#ac1d23 99.2%,#ab1d23 99.9%)"></i><i style="background:linear-gradient(90deg,#ae1e23 0.1%,#9a1b20 1.7%,#7d1519 3.6%,#7c1519 12.2%,#7f161a 12.5%,#a91d22 13.3%,#ca2027 14.5%,#d83528 14.9%,#dc3d2b 15%,#e34e35 15.2%,#ed6848 15.6%,#f48d5d 16.2%,#f8b680 16.9%,#f9c18c 17.2%,#fbd4a1 18%,#fef0dd 19.6%,#fef5e7 19.9%,#fff9f0 21.7%,#fff9f1 23.2%,#fef5e8 25.7%,#fef1e0 33.2%,#fcddb3 36%,#fbd4a1 36.8%,#f9bc86 38.9%,#f4905e 41.6%,#ee694a 44.6%,#e24931 46.4%,#d93628 47.5%,#cb2027 48.7%,#a91d22 50.1%,#991b20 51.3%,#81161a 52.3%,#7c1519 52.7%,#7c1519 61.3%,#7f161a 61.7%,#a91d22 62.7%,#c92027 63.9%,#cd2327 64%,#d93628 64.4%,#e24932 64.7%,#ee6c4b 65.3%,#f48e5d 65.8%,#f7af7a 66.3%,#f9bc86 66.5%,#fcd9ab 67.6%,#fde1bb 68.1%,#fef5e7 69.5%,#fff8ee 70.5%,#fff9f1 72.2%,#fef5e8 74.9%,#fef1e0 82.2%,#feefdb 82.7%,#fcdfb6 84.9%,#fbd5a2 86%,#f9bd87 88.2%,#f4905e 91%,#ee6949 93.9%,#e24a32 95.6%,#d93728 96.7%,#cc2127 97.8%,#ac1d23 99.2%,#ab1d23 99.9%)"></i><i style="background:linear-gradient(90deg,#ae1d23 0.1%,#9b1b20 1.6%,#7c1519 3.6%,#7c1519 12.3%,#81161a 12.7%,#9c1b20 13.1%,#ab1d23 13.4%,#c92027 14.5%,#cc2227 14.7%,#da392a 15%,#e24a32 15.2%,#ee6c4b 15.7%,#f4915f 16.3%,#f8b37e 16.9%,#f9bd87 17.1%,#fbd3a0 18%,#fef4e7 19.9%,#fff9f0 21.7%,#fff9f1 23.4%,#fef5e8 25.8%,#fef1df 33.2%,#fcdeb4 35.8%,#fbd5a2 36.7%,#f9bd87 38.7%,#f4905e 41.6%,#ee6a4a 44.6%,#e24932 46.4%,#d93628 47.5%,#cb2027 48.7%,#ab1d23 50%,#981b20 51.3%,#7d1519 52.6%,#7e1519 61.7%,#84171b 61.9%,#9a1b20 62.4%,#a71d22 62.7%,#cb2127 64%,#db3a2a 64.5%,#e34e35 64.8%,#ee6a4a 65.3%,#f38b5c 65.8%,#f9b984 66.5%,#fbd3a0 67.4%,#fcdbae 67.7%,#fef4e7 69.5%,#fff8ee 70.6%,#fff9f1 72.3%,#fef5e8 74.9%,#fef1e0 82.2%,#fcdeb5 84.9%,#fbd4a1 86%,#f9bc86 88.2%,#f4905e 91%,#ee6949 93.9%,#e24a32 95.6%,#d93728 96.7%,#cb2127 97.8%,#ac1d23 99.2%,#ab1d23 99.9%)"></i><i style="background:linear-gradient(90deg,#ad1d23 0.1%,#9a1b20 1.6%,#7d1519 3.5%,#7c1519 12.4%,#83161b 12.8%,#991b20 13.1%,#a91d23 13.4%,#cb2027 14.7%,#d93628 15%,#e44e35 15.3%,#ed6849 15.7%,#f48e5d 16.3%,#f8b781 17%,#f9bc86 17.1%,#fbd5a2 18.1%,#fef1de 19.7%,#fef5e8 20%,#fff9f0 21.8%,#fff9f1 23.5%,#fef5e8 25.8%,#fef1e0 33.1%,#fcddb4 35.8%,#fbd5a2 36.7%,#f9bc86 38.7%,#f4905e 41.6%,#ee6a4a 44.6%,#e24932 46.4%,#d93628 47.5%,#cb2027 48.7%,#ab1d23 50%,#981b20 51.3%,#81161a 52.2%,#7c1519 52.6%,#7c1519 61.4%,#7f161a 61.8%,#a91d23 62.8%,#ca2027 64%,#da3829 64.5%,#e34c33 64.8%,#ed6849 65.3%,#f4905e 65.9%,#f8b17c 66.4%,#f9bd87 66.6%,#fbd5a2 67.5%,#fcdaac 67.7%,#fef4e6 69.5%,#fff8ee 70.6%,#fff9f1 72.3%,#fef5e8 75%,#fef1e0 82.1%,#feefdb 82.6%,#fcdfb6 84.8%,#fbd5a2 85.9%,#f9bd87 88.1%,#f4905e 91%,#ee6949 93.9%,#e14831 95.7%,#d93728 96.7%,#cb2127 97.8%,#ac1d23 99.2%,#ab1d23 99.9%)"></i><i style="background:linear-gradient(90deg,#ad1d23 0.1%,#7c1519 3.5%,#7c1519 12.4%,#81161a 12.8%,#9c1b20 13.2%,#ab1d23 13.5%,#c92027 14.7%,#cd2327 14.8%,#db3a2a 15.1%,#e24a32 15.3%,#ee6c4b 15.8%,#f49260 16.4%,#f8b47f 17%,#f9be88 17.2%,#fbd4a1 18.1%,#fef4e7 20%,#fff9f0 21.8%,#fff9f1 23.5%,#fef5e8 25.9%,#fef1e0 33.1%,#fcddb3 35.8%,#fbd4a1 36.7%,#f9bc86 38.7%,#f8b17c 39.3%,#f4905e 41.6%,#ed6949 44.8%,#e24932 46.4%,#da3829 47.4%,#cb2027 48.7%,#aa1d23 50%,#981b20 51.3%,#80161a 52.2%,#7d1519 52.5%,#7d1519 61.8%,#84171b 62%,#9b1b20 62.5%,#a81d22 62.8%,#cc2227 64.2%,#dc3c2b 64.6%,#e24932 64.8%,#ee6d4b 65.4%,#f48e5d 65.9%,#f9bb85 66.6%,#fcd9aa 67.7%,#fde1ba 68.2%,#fef4e7 69.6%,#fff7ee 70.6%,#fff9f1 72.3%,#fef5e8 75%,#fef1e0 82.1%,#fcdeb5 84.8%,#fbd5a2 85.9%,#f9bc86 88.1%,#f4915f 90.9%,#ee6a4a 93.9%,#e14831 95.7%,#d93628 96.7%,#cb2027 97.8%,#ac1d23 99.2%,#ab1d23 99.9%)"></i><i style="background:linear-gradient(90deg,#ad1d23 0.1%,#7d1519 3.4%,#7c1519 12.5%,#83161b 12.9%,#991b20 13.2%,#aa1d23 13.5%,#cb2027 14.8%,#d93728 15.1%,#e14730 15.3%,#ee6949 15.8%,#f48f5d 16.4%,#f8b27d 17%,#f9bd87 17.2%,#fbd3a0 18.1%,#fef4e6 20%,#fff9f0 21.8%,#fff9f1 23.6%,#fef5e8 25.9%,#fef1df 33.1%,#fcddb2 35.8%,#fbd4a1 36.7%,#f9bd87 38.6%,#f8b17c 39.3%,#f4905e 41.6%,#ee6949 44.8%,#e24a32 46.4%,#da3829 47.4%,#ca2027 48.7%,#aa1d23 50%,#9a1b20 51.2%,#81161a 52.1%,#7c1519 52.5%,#7c1519 61.5%,#7e151a 61.9%,#aa1d23 62.9%,#cb2027 64.2%,#db3a2a 64.6%,#e44e35 64.9%,#ee6b4b 65.4%,#f38c5c 65.9%,#f9b983 66.6%,#fbd5a3 67.6%,#fcdaad 67.8%,#fef4e6 69.6%,#fff8ee 70.7%,#fff9f1 72.4%,#fef5e8 75.1%,#fef1e0 82.1%,#fcdeb5 84.8%,#fbd4a1 85.9%,#f9bc86 88.1%,#f4915f 90.9%,#ee6a4a 93.9%,#e14831 95.7%,#d93628 96.7%,#cb2027 97.8%,#ab1d23 99.2%,#ab1d23 99.9%)"></i><i style="background:linear-gradient(90deg,#ad1d23 0.1%,#7c1519 3.4%,#7c1519 12.5%,#80161a 12.9%,#9d1b20 13.3%,#ac1d23 13.7%,#ca2027 14.8%,#ce2427 14.9%,#db3b2b 15.2%,#e34b33 15.4%,#ee6d4b 15.9%,#f49361 16.6%,#f8b580 17.1%,#f9be89 17.3%,#fbd5a2 18.2%,#fef0dd 19.8%,#fef5e7 20.1%,#fff9f0 21.9%,#fff9f1 23.6%,#fef5e8 26%,#fef1df 33.1%,#fcdeb4 35.7%,#fbd5a2 36.6%,#f9bd87 38.6%,#f8b07b 39.3%,#f4905e 41.6%,#ee6a4a 44.8%,#e24a32 46.4%,#da3829 47.4%,#ca2027 48.7%,#aa1d23 50%,#971a1f 51.3%,#80161a 52.1%,#7d1519 52.3%,#7d1519 61.9%,#84171b 62.2%,#9c1b20 62.6%,#a91d22 62.9%,#ca2027 64.2%,#cd2427 64.3%,#da3829 64.6%,#e34c34 64.9%,#ee694a 65.4%,#f4915f 66.1%,#f7a974 66.4%,#f9bc86 66.7%,#fcd9ab 67.8%,#fde1bb 68.3%,#fef5e7 69.7%,#fff8ee 70.7%,#fff9f1 72.4%,#fef5e8 75.1%,#fef1df 82.1%,#fcdfb6 84.7%,#fbd5a2 85.8%,#f9bd87 88%,#f4915f 90.9%,#ee6a4a 93.9%,#e14831 95.7%,#d93728 96.7%,#cb2027 97.8%,#ab1d23 99.2%,#ab1d23 99.9%)"></i><i style="background:linear-gradient(90deg,#ad1d23 0.1%,#7d1519 3.3%,#7c1519 12.7%,#83161b 13%,#991b20 13.3%,#aa1d23 13.7%,#c82027 14.8%,#cc2127 14.9%,#da3829 15.2%,#e14831 15.4%,#ee6a4a 15.9%,#f4905e 16.6%,#f8b37e 17.1%,#f9bd87 17.3%,#fbd4a1 18.2%,#fef4e6 20.1%,#fff9f0 21.9%,#fff9f1 23.7%,#fef5e8 26%,#fef1e0 32.9%,#feefdb 33.4%,#fcddb4 35.7%,#fbd5a2 36.6%,#f9bc86 38.6%,#f8b27c 39.2%,#f4905e 41.6%,#ee6a4a 44.8%,#e24a32 46.4%,#da3829 47.4%,#ca2027 48.7%,#a91d23 50%,#971a1f 51.3%,#82161a 52%,#7c1519 52.3%,#7c1519 61.6%,#7e151a 62%,#86171b 62.3%,#991b20 62.6%,#a71d22 62.9%,#cc2227 64.3%,#dc3c2b 64.7%,#e24a32 64.9%,#ef6e4c 65.5%,#f48f5d 66.1%,#f9ba84 66.7%,#fbd3a0 67.6%,#fcdaad 67.9%,#fef4e7 69.7%,#fff7ee 70.7%,#fff9f1 72.4%,#fef5e8 75.2%,#fef1e0 82%,#feefdb 82.4%,#fcdeb6 84.7%,#fbd5a2 85.8%,#f9bc86 88%,#f4905e 90.9%,#ee6a4a 93.9%,#e14931 95.7%,#d93728 96.7%,#cb2027 97.8%,#ab1d23 99.2%,#ab1d23 99.9%)"></i><i style="background:linear-gradient(90deg,#ad1d23 0.1%,#7c1519 3.3%,#7c1519 12.7%,#80161a 13%,#9d1b21 13.4%,#ad1d23 13.8%,#ca2027 14.9%,#d83528 15.2%,#dc3d2b 15.3%,#e34d34 15.6%,#ec6647 15.9%,#f38d5c 16.6%,#f8b681 17.2%,#f9bc86 17.3%,#fbd3a0 18.2%,#fef1de 19.9%,#fef5e7 20.2%,#fff9f0 22%,#fff9f1 23.7%,#fef5e8 26.1%,#fef1e0 32.9%,#fcddb3 35.7%,#fbd5a1 36.6%,#f9bc86 38.6%,#f8b37e 39.1%,#f4905e 41.6%,#ee6b4a 44.8%,#e24a32 46.4%,#d93528 47.5%,#cb2027 48.6%,#a91d22 50%,#991b20 51.2%,#81161a 52%,#7c1519 52.3%,#7d1519 62%,#84171b 62.3%,#9d1b20 62.7%,#aa1d23 63%,#cb2027 64.3%,#db3a2a 64.7%,#e14831 64.9%,#ee6c4b 65.5%,#f38c5c 66.1%,#f9b882 66.7%,#fcd9ab 67.9%,#fef4e6 69.7%,#fff8ee 70.8%,#fff9f1 72.5%,#fef5e8 75.2%,#fef1e0 82%,#fcdeb5 84.7%,#fbd4a1 85.8%,#f9bd87 87.9%,#f4905e 90.9%,#ee6949 94%,#e24b33 95.6%,#d93728 96.7%,#cb2027 97.8%,#ab1d23 99.2%,#ab1d23 99.9%)"></i><i style="background:linear-gradient(90deg,#ad1d23 0.1%,#9a1b20 1.4%,#7f161a 3%,#7c1519 3.3%,#7c1519 12.8%,#83161b 13.1%,#9a1b20 13.4%,#aa1d23 13.8%,#c92027 14.9%,#cd2327 15%,#db392a 15.3%,#e24932 15.6%,#ee6a4a 16%,#f4905e 16.7%,#f8b47f 17.2%,#f9be88 17.4%,#fbd5a2 18.3%,#fde0b9 18.9%,#fef4e7 20.2%,#fff9f0 22%,#fff9f1 23.7%,#fef5e8 26.1%,#fef1e0 32.9%,#fcddb3 35.7%,#fbd4a1 36.6%,#f9bd87 38.5%,#f8b37d 39.1%,#f4905e 41.6%,#ee6b4a 44.8%,#e24a32 46.4%,#d83528 47.5%,#cb2027 48.6%,#aa1d23 49.9%,#981b20 51.2%,#80161a 52%,#7d1519 52.2%,#7c1519 61.7%,#7e151a 62.2%,#87171c 62.4%,#9a1b20 62.7%,#a91d22 63%,#ca2027 64.3%,#cd2427 64.4%,#da3829 64.7%,#e34d34 65.1%,#ee6b4a 65.5%,#f4915f 66.2%,#f9bb86 66.8%,#fcd9a9 67.9%,#fde1ba 68.4%,#fef4e7 69.8%,#fff7ee 70.8%,#fff9f1 72.5%,#fef5e8 75.3%,#fef1e0 82%,#fcdfb7 84.6%,#fbd5a3 85.7%,#f9bd87 87.9%,#f4905e 90.9%,#ee6949 94%,#e24931 95.7%,#d93728 96.7%,#cb2027 97.8%,#ab1d23 99.2%,#ab1d23 99.9%)"></i><i style="background:linear-gradient(90deg,#ac1d23 0.1%,#9a1b20 1.4%,#7c1519 3.2%,#7c1519 12.8%,#80161a 13.1%,#9f1c21 13.7%,#cb2027 15%,#d93628 15.3%,#e44e35 15.7%,#ed6748 16%,#f48e5d 16.7%,#f8b782 17.3%,#fbd4a1 18.3%,#fde1bb 19%,#fef5e7 20.3%,#fff9f0 22.1%,#fff9f1 23.8%,#fef5e8 26.3%,#fef1e0 32.9%,#fcddb3 35.7%,#fbd4a1 36.6%,#f9bd87 38.5%,#f8b27d 39.1%,#f4905e 41.6%,#ee6a4a 44.9%,#e24a32 46.4%,#d93728 47.4%,#ca2027 48.6%,#aa1d23 49.9%,#971a1f 51.2%,#82161a 51.9%,#7c1519 52.2%,#7d1519 62.2%,#84171b 62.4%,#9e1b21 62.8%,#ab1d23 63.2%,#cc2227 64.4%,#d93628 64.7%,#e24b33 65.1%,#ee6949 65.5%,#f48f5e 66.2%,#f9b984 66.8%,#fbd5a3 67.8%,#fcdaac 68.1%,#fef4e6 69.8%,#fff8ee 71%,#fff9f1 72.6%,#fef5e8 75.3%,#fef1e0 82%,#fcdeb5 84.7%,#fbd5a2 85.7%,#f9bc86 87.9%,#f4905e 90.9%,#ee6a4a 94%,#e24932 95.7%,#d93728 96.7%,#cb2027 97.8%,#ab1d23 99.2%,#ab1d23 99.9%)"></i><i style="background:linear-gradient(90deg,#ac1d23 0.1%,#9a1b20 1.4%,#81161a 2.7%,#7c1519 3.2%,#7c1519 12.9%,#82161a 13.2%,#9d1b20 13.8%,#c92027 15%,#cd2427 15.1%,#db3b2b 15.4%,#e24b33 15.7%,#ee6b4b 16.1%,#f4915f 16.8%,#f8b57f 17.3%,#f9be88 17.6%,#fbd6a3 18.5%,#fde0ba 19%,#fef4e7 20.3%,#fff9f0 22.1%,#fff9f1 23.8%,#fef5e8 26.3%,#fef1e0 32.9%,#fcddb2 35.7%,#fbd5a3 36.5%,#f9bd87 38.5%,#f8b27d 39.1%,#f4905e 41.6%,#ee6a4a 44.9%,#e24a32 46.4%,#d93728 47.4%,#ca2027 48.6%,#a91d23 49.9%,#971a1f 51.2%,#81161a 51.9%,#7c1519 52.2%,#7d1519 62.2%,#82161a 62.4%,#9c1b20 62.8%,#aa1d23 63.2%,#cb2027 64.4%,#db3b2b 64.8%,#e24932 65.1%,#ef6e4c 65.6%,#f48d5d 66.2%,#f9bc87 66.9%,#fbd4a1 67.8%,#fcdbaf 68.2%,#fef1df 69.6%,#fef5e7 70%,#fff8ee 71.1%,#fff9f1 72.7%,#fef5e8 75.4%,#fef1e0 82%,#fcdeb5 84.7%,#fbd5a2 85.7%,#f9bc86 87.9%,#f4905e 90.9%,#ee6a4a 94%,#e24932 95.7%,#d93728 96.7%,#cb2027 97.8%,#ab1d23 99.2%,#ab1d23 99.9%)"></i><i style="background:linear-gradient(90deg,#ac1d23 0.1%,#9a1b20 1.4%,#81161a 2.7%,#7c1519 3.2%,#7c1519 12.9%,#82161a 13.3%,#9d1b20 13.9%,#c72027 15%,#cc2127 15.1%,#da3829 15.4%,#e14831 15.7%,#ed6849 16.1%,#f48e5d 16.8%,#f9b882 17.4%,#fbd5a2 18.5%,#fde0b9 19%,#fef5e7 20.5%,#fff9f0 22.2%,#fff9f1 23.9%,#fef5e8 26.4%,#fef1e0 32.9%,#fcddb2 35.7%,#fbd5a2 36.5%,#f9bc86 38.5%,#f8b27d 39.1%,#f4905e 41.6%,#ee6c4b 44.8%,#e24a32 46.4%,#d93628 47.4%,#cb2027 48.4%,#a91d22 49.9%,#981b20 51.1%,#80161a 51.9%,#7d1519 52.1%,#7e1519 62.3%,#85171b 62.5%,#9a1b20 62.8%,#a91d22 63.2%,#ca2027 64.4%,#ce2427 64.5%,#da392a 64.8%,#e14731 65.1%,#ee6c4b 65.6%,#f49260 66.3%,#f9bb85 66.9%,#fbd3a0 67.8%,#fcdaad 68.2%,#fef4e7 70%,#fff8ee 71.1%,#fff9f1 72.7%,#fef5e8 75.5%,#fef1e0 82%,#fcdeb5 84.7%,#fbd5a2 85.7%,#f9bd87 87.8%,#f4905e 90.9%,#ee6b4a 94%,#e24a32 95.7%,#d83528 96.8%,#cb2027 97.8%,#ab1d23 99.2%,#aa1d23 99.9%)"></i><i style="background:linear-gradient(90deg,#ac1d23 0.1%,#9a1b20 1.4%,#7d1519 3.1%,#7c1519 13%,#7e1519 13.2%,#84171b 13.4%,#9b1b20 13.9%,#ca2027 15.1%,#d93628 15.4%,#e34d34 15.8%,#ee6c4b 16.2%,#f49260 16.9%,#f8b580 17.4%,#f9bf89 17.7%,#fbd4a1 18.5%,#fddfb7 19%,#fef4e6 20.5%,#fff9f0 22.2%,#fff9f1 24%,#fef5e8 26.4%,#fef2e0 32.8%,#fef0dc 33.3%,#fcddb2 35.7%,#fbd5a2 36.5%,#f9bc86 38.5%,#f8b27c 39.1%,#f4905e 41.6%,#ef6e4c 44.6%,#e24a32 46.4%,#da3829 47.3%,#ca2027 48.4%,#aa1d23 49.8%,#981b1f 51.1%,#82161a 51.8%,#7c1519 52.1%,#7d1519 62.3%,#83161b 62.5%,#9d1b21 62.9%,#ab1d23 63.3%,#cc2227 64.5%,#da3729 64.8%,#e34d34 65.2%,#ee6b4b 65.6%,#f4905e 66.3%,#f9b983 66.9%,#fcd9ab 68.2%,#fef4e6 70%,#fff8ee 71.1%,#fff9f1 72.9%,#fef5e8 75.6%,#fef1e0 82%,#fcdeb5 84.7%,#fbd5a2 85.7%,#f9bd87 87.8%,#f4905e 90.9%,#ee6949 94.1%,#e24a32 95.7%,#da3729 96.7%,#cb2027 97.8%,#ab1d23 99.2%,#aa1d23 99.9%)"></i><i style="background:linear-gradient(90deg,#ac1d23 0.1%,#9a1b20 1.4%,#7c1519 3.1%,#7c1519 13%,#7d1519 13.2%,#83161b 13.4%,#9e1b21 14%,#c92027 15.1%,#cd2427 15.2%,#db3b2a 15.6%,#e24a32 15.8%,#ee6a4a 16.2%,#f48f5e 16.9%,#f9b983 17.6%,#fbd5a3 18.6%,#fde0ba 19.1%,#fef5e7 20.6%,#fff9f0 22.4%,#fff9f1 24%,#fef5e8 26.5%,#fef2e0 32.8%,#fef0dc 33.3%,#fcddb2 35.7%,#fbd5a2 36.5%,#f9bc86 38.5%,#f8b37e 39%,#f4905e 41.6%,#ee6b4a 44.9%,#e24a32 46.4%,#da3829 47.3%,#ca2027 48.4%,#a91d23 49.8%,#971a1f 51.1%,#82161a 51.8%,#7c1519 52.1%,#7e1519 62.4%,#86171b 62.6%,#9b1b20 62.9%,#aa1d23 63.3%,#cb2127 64.5%,#dc3c2b 64.9%,#e24b32 65.2%,#ee694a 65.6%,#f48e5d 66.3%,#f9bc86 67.1%,#fbd3a0 67.9%,#fcdbae 68.3%,#fef1df 69.7%,#fef5e8 70.1%,#fff8ee 71.2%,#fff9f1 73%,#fef5e8 75.8%,#fef1e0 82%,#fcdeb5 84.7%,#fbd5a2 85.7%,#f9bd87 87.8%,#f4905e 90.9%,#ee6a4a 94.1%,#e14831 95.8%,#d93528 96.8%,#cb2027 97.8%,#ab1d23 99.2%,#aa1d23 99.9%)"></i><i style="background:linear-gradient(90deg,#ac1d23 0.1%,#991b20 1.4%,#7c1519 3.1%,#7c1519 13.1%,#81161a 13.4%,#9c1b20 14%,#c72027 15.1%,#cc2127 15.2%,#da3829 15.6%,#e14731 15.8%,#ed6748 16.2%,#f38d5c 16.9%,#f8b681 17.6%,#f9bc86 17.7%,#fbd4a1 18.6%,#fde0b8 19.1%,#fef4e6 20.6%,#fff9f0 22.4%,#fff9f1 24.1%,#fef5e8 26.5%,#fef2e0 32.8%,#fef0dc 33.3%,#fcddb2 35.7%,#fbd5a2 36.5%,#f9bc86 38.5%,#f8b37e 39%,#f4915f 41.6%,#ef6f4c 44.6%,#e24a32 46.4%,#da3729 47.3%,#cb2027 48.3%,#a91d22 49.8%,#981b20 51%,#81161a 51.8%,#7c1519 52.1%,#7d1519 62.4%,#84171b 62.6%,#991b20 62.9%,#a91d22 63.3%,#ca2027 64.5%,#db3a2a 64.9%,#e14931 65.2%,#ef6e4c 65.7%,#f49260 66.4%,#f9ba84 67.1%,#fbd5a2 68.1%,#fcdcb0 68.4%,#fef5e7 70.1%,#fff8ef 71.3%,#fff9f1 73.1%,#fef5e8 75.9%,#fef2e0 81.9%,#fef0dc 82.3%,#fcdeb5 84.7%,#fbd5a2 85.7%,#f9bc87 87.8%,#f8b17c 88.5%,#f4905e 90.9%,#ee6a4a 94.1%,#e14931 95.8%,#d93628 96.8%,#cb2027 97.8%,#ab1d23 99.2%,#aa1d23 99.9%)"></i><i style="background:linear-gradient(90deg,#ac1d23 0.1%,#9b1b20 1.3%,#7c1519 3.1%,#7c1519 13.1%,#7e1519 13.3%,#84171b 13.5%,#9b1b20 14%,#cb2027 15.2%,#d93628 15.6%,#e34c34 15.9%,#ee6c4b 16.3%,#f4905e 17%,#f9b984 17.7%,#fbd6a4 18.7%,#fde1ba 19.2%,#fef4e7 20.7%,#fff9f0 22.5%,#fff9f1 24.2%,#fef5e8 26.6%,#fef4e5 31.3%,#fef2e0 32.8%,#fef0dc 33.3%,#fcddb2 35.7%,#fbd5a2 36.5%,#f9bc86 38.5%,#f8b37e 39%,#f4915f 41.6%,#ef6f4d 44.6%,#e24932 46.4%,#d93728 47.3%,#cb2027 48.3%,#aa1d23 49.7%,#981b1f 51%,#80161a 51.8%,#7d1519 52%,#7d1519 62.4%,#83161b 62.6%,#9e1b21 63%,#ac1d23 63.4%,#c92027 64.5%,#cd2327 64.6%,#da3929 64.9%,#e14730 65.2%,#ee6d4b 65.7%,#f4905e 66.4%,#f9bd87 67.2%,#fbd4a1 68.1%,#fcdbae 68.4%,#fef4e7 70.1%,#fff8ee 71.2%,#fff9f1 73.1%,#fef5e8 75.9%,#fef2e0 81.9%,#fef0dc 82.3%,#fcdeb5 84.7%,#fbd5a2 85.7%,#f9bc86 87.8%,#f8b17c 88.5%,#f4915f 90.9%,#ee6b4a 94.1%,#e24931 95.8%,#d93628 96.8%,#cb2027 97.8%,#ab1d23 99.2%,#aa1d23 99.9%)"></i><i style="background:linear-gradient(90deg,#ab1d23 0.1%,#9b1b20 1.3%,#7c1519 3.1%,#7c1519 13.1%,#7d1519 13.3%,#83161b 13.5%,#991b20 14%,#c92027 15.2%,#ce2427 15.3%,#db3b2b 15.7%,#e24a32 15.9%,#ee6949 16.3%,#f48e5d 17%,#f8b781 17.7%,#fbd5a2 18.7%,#fde0b9 19.2%,#fef5e7 20.8%,#fff9f0 22.6%,#fff9f1 24.2%,#fef5e8 26.7%,#fef4e6 31%,#fef2e0 32.8%,#fef0dc 33.3%,#fcddb2 35.7%,#fbd5a2 36.5%,#f9bc86 38.5%,#f8b37e 39%,#f4915f 41.6%,#ef6f4d 44.6%,#ee6a4a 45%,#e24932 46.4%,#d93728 47.3%,#ca2027 48.3%,#a91d23 49.7%,#971a1f 51%,#80161a 51.8%,#7d1519 52%,#7e1519 62.5%,#86171b 62.7%,#9c1b20 63%,#ab1d23 63.4%,#cc2227 64.6%,#d93728 64.9%,#e34d34 65.3%,#ee6b4b 65.7%,#f48e5d 66.4%,#f9bb85 67.2%,#fbd5a3 68.2%,#fcdcb1 68.5%,#fef1df 69.8%,#fef5e8 70.2%,#fff8f0 71.7%,#fff9f1 73.2%,#fef5e8 76%,#fef3e5 80.3%,#fef1e0 82%,#fcdeb5 84.7%,#fbd5a2 85.7%,#f9bc86 87.8%,#f8b17c 88.5%,#f4915f 90.9%,#ee6949 94.3%,#e24932 95.8%,#d93628 96.8%,#cb2027 97.8%,#ab1d23 99.2%,#aa1d23 99.9%)"></i><i style="background:linear-gradient(90deg,#ab1d23 0.1%,#9b1b20 1.3%,#7c1519 3.1%,#7c1519 13.2%,#82161a 13.5%,#9d1b20 14.1%,#c82027 15.2%,#cd2327 15.3%,#da392a 15.7%,#e14831 15.9%,#ed6747 16.3%,#f49260 17.1%,#f9ba84 17.8%,#fbd7a5 18.8%,#fddfb8 19.2%,#fef4e7 20.8%,#fff9f0 22.6%,#fff9f1 24.4%,#fef5e9 26.8%,#fef4e6 31.2%,#fef2e0 32.8%,#fef0dc 33.3%,#fcddb2 35.7%,#fbd5a2 36.5%,#f9bc86 38.5%,#f8b37e 39%,#f4915f 41.6%,#ef6f4d 44.6%,#ee6a4a 45%,#e24932 46.4%,#d93628 47.3%,#c92027 48.3%,#a91d22 49.7%,#971a1f 51%,#80161a 51.8%,#7d1519 52%,#7d1519 62.5%,#85171b 62.7%,#9a1b20 63%,#aa1d23 63.4%,#cb2027 64.6%,#dc3c2b 65.1%,#e24b32 65.3%,#ee6a4a 65.7%,#f38d5c 66.4%,#f9b984 67.2%,#fbd4a1 68.2%,#fcdbaf 68.5%,#fef5e7 70.2%,#fff8ef 71.5%,#fff9f1 73.3%,#fef5e9 76.1%,#fef4e6 80.1%,#fef1e0 82%,#fcdeb5 84.7%,#fbd5a2 85.7%,#f9bc86 87.8%,#f8b17c 88.5%,#f4915f 90.9%,#ee6a4a 94.3%,#e24a32 95.8%,#d93628 96.8%,#cb2027 97.8%,#ab1d23 99.2%,#aa1d23 99.9%)"></i><i style="background:linear-gradient(90deg,#ab1d23 0.1%,#9b1b20 1.3%,#7c1519 3.1%,#7c1519 13.2%,#81161a 13.5%,#9c1b20 14.1%,#c72027 15.2%,#cc2127 15.3%,#d93729 15.7%,#e34d34 16%,#ee6b4b 16.4%,#f48f5e 17.1%,#f9bd87 17.9%,#fbd6a3 18.8%,#fde0ba 19.3%,#fef4e7 20.9%,#fff9f0 22.8%,#fff9f1 24.5%,#fef5e8 27%,#fef4e7 31%,#fef2e1 32.8%,#fef0dc 33.3%,#fcddb2 35.7%,#fbd5a2 36.5%,#f9bc86 38.5%,#f8b37e 39%,#f4915f 41.6%,#ef6f4d 44.6%,#ee6a4a 45%,#e14931 46.4%,#da3829 47.2%,#cb2027 48.2%,#aa1d23 49.6%,#981b20 50.9%,#80161a 51.8%,#7d1519 52%,#7d1519 62.5%,#84171b 62.7%,#991b20 63%,#a91d22 63.4%,#ca2027 64.6%,#db3a2a 65.1%,#e14931 65.3%,#ef6e4c 65.8%,#f4915f 66.5%,#f9bc86 67.3%,#fbd3a0 68.2%,#fcdaad 68.5%,#fef4e7 70.2%,#fff8ee 71.4%,#fff9f1 73.4%,#fef5e8 76.3%,#fef4e6 80.1%,#fef2e0 82%,#fcddb3 84.8%,#fbd5a2 85.7%,#f9bc86 87.8%,#f8b27d 88.4%,#f4915f 90.9%,#ee6a4a 94.3%,#e14831 95.9%,#d93728 96.8%,#cb2127 97.8%,#ac1d23 99.2%,#aa1d23 99.9%)"></i><i style="background:linear-gradient(90deg,#ab1d23 0.1%,#9a1b20 1.3%,#7d1519 3.1%,#7c1519 13.2%,#7e1519 13.4%,#84171b 13.7%,#9b1b20 14.1%,#cb2027 15.3%,#dc3c2b 15.8%,#e24b33 16%,#ee6a4a 16.4%,#f48d5c 17.1%,#f9bb85 17.9%,#fbd4a1 18.8%,#fde0b8 19.3%,#fef4e6 20.9%,#fff8f0 22.7%,#fff9f1 24.6%,#fef5e9 27.1%,#fef5e7 30.8%,#fef2e1 32.8%,#fef0dc 33.3%,#fcddb3 35.7%,#fbd5a2 36.5%,#f9bc86 38.5%,#f7ac77 39.5%,#f4905e 41.8%,#ef6f4d 44.6%,#ee6a4a 45%,#e24b33 46.3%,#da3829 47.2%,#cb2027 48.2%,#aa1d23 49.6%,#9a1b20 50.8%,#80161a 51.8%,#7d1519 52%,#7d1519 62.5%,#83161b 62.7%,#9e1b21 63.2%,#ac1d23 63.5%,#c92027 64.6%,#cd2327 64.7%,#da3929 65.1%,#e14731 65.3%,#ee6d4b 65.8%,#f48f5d 66.5%,#f8af7b 67.1%,#f9be88 67.4%,#fbd5a2 68.3%,#fcdcb0 68.6%,#fef4e6 70.2%,#fff8ee 71.4%,#fff9f1 73.6%,#fef5e9 76.4%,#fef4e6 80.2%,#fef2e0 82%,#fcddb4 84.8%,#fbd5a2 85.7%,#f9bc87 87.8%,#f8b27d 88.4%,#f4905e 91%,#ee6b4a 94.3%,#e14831 95.9%,#d93728 96.8%,#cc2127 97.8%,#ac1d23 99.2%,#aa1d23 99.9%)"></i><i style="background:linear-gradient(90deg,#ab1d23 0.1%,#9a1b20 1.3%,#80161a 2.7%,#7c1519 3.2%,#7c1519 13.2%,#7d1519 13.4%,#83161b 13.7%,#9a1b20 14.1%,#ca2027 15.3%,#db3b2a 15.8%,#e24931 16%,#ed6748 16.4%,#f4915f 17.2%,#f9b882 17.9%,#fbd6a4 18.9%,#fde0ba 19.5%,#fef4e7 21%,#fff9f0 22.9%,#fff9f1 24.8%,#fef5e9 27.4%,#fef5e8 30.7%,#fef2e1 32.8%,#fef0dc 33.3%,#fcdcb1 35.8%,#fbd5a3 36.5%,#f9bc86 38.5%,#f8b37e 39%,#f4915f 41.6%,#ef704d 44.6%,#ee6a4a 45%,#e24b33 46.3%,#da3729 47.2%,#ca2027 48.2%,#a91d23 49.6%,#991b20 50.8%,#7d1519 52%,#7c1519 62.2%,#7e151a 62.6%,#87171c 62.8%,#9c1b20 63.2%,#ab1d23 63.5%,#cc2227 64.7%,#d93728 65.1%,#e34d34 65.4%,#ee6b4b 65.8%,#f48d5d 66.5%,#f9b983 67.3%,#fbd6a5 68.4%,#fde1bb 69%,#fef4e7 70.3%,#fff9f0 72.1%,#fff9f1 73.7%,#fef5e8 76.6%,#fef4e7 80.1%,#fef2e0 82%,#fcdeb4 84.8%,#fbd5a3 85.7%,#f9bd87 87.8%,#f8b27d 88.4%,#f4905e 91%,#ee6949 94.4%,#e14931 95.9%,#d83528 96.9%,#cc2127 97.8%,#ac1d23 99.2%,#aa1d23 99.9%)"></i><i style="background:linear-gradient(90deg,#ab1d23 0.1%,#7c1519 3.2%,#7c1519 13.2%,#7d1519 13.4%,#83161b 13.7%,#9a1b20 14.1%,#c92027 15.3%,#cd2327 15.4%,#da392a 15.8%,#e14731 16%,#ee6c4b 16.6%,#f48e5d 17.2%,#f9bb85 18%,#fbd5a2 18.9%,#fde0b8 19.5%,#fef4e7 21.1%,#fff9f0 23%,#fff9f1 24.9%,#fef5e8 27.7%,#fef6e9 30.5%,#fef2e1 32.8%,#fef0dc 33.3%,#fcdcb1 35.8%,#fbd4a1 36.6%,#f9bc86 38.5%,#f8b27d 39.1%,#f4915f 41.6%,#ef704d 44.6%,#ee6a4a 45%,#e24b33 46.3%,#da3729 47.2%,#ca2027 48.2%,#a91d23 49.6%,#991b20 50.8%,#7d1519 52%,#7e1519 62.6%,#86171b 62.8%,#9c1b20 63.2%,#aa1d23 63.5%,#cb2127 64.7%,#dc3c2b 65.2%,#e24b33 65.4%,#ee694a 65.8%,#f4915f 66.6%,#f8b781 67.3%,#fbd5a3 68.4%,#fef1df 70.1%,#fef5e8 70.4%,#fff9f0 72.2%,#fff9f1 73.9%,#fef5e9 76.9%,#fef4e6 80.4%,#fef2e0 82%,#fcdeb4 84.8%,#fbd4a1 85.8%,#f9bd87 87.8%,#f8b37d 88.4%,#f4905e 91%,#ee6a4a 94.4%,#e24932 95.9%,#da3829 96.8%,#ca2027 97.9%,#ac1d23 99.2%,#aa1d23 99.9%)"></i><i style="background:linear-gradient(90deg,#ab1d23 0.1%,#7c1519 3.2%,#7c1519 13.2%,#7d1519 13.4%,#84171b 13.7%,#9a1b20 14.1%,#c82027 15.3%,#cd2327 15.4%,#da3829 15.8%,#e34d34 16.1%,#ee6b4a 16.6%,#f49260 17.3%,#f9b983 18%,#fbd6a5 19%,#fde1ba 19.6%,#fef5e7 21.2%,#fff9f0 23.1%,#fff9f1 25.1%,#fef5e9 28.1%,#fef6eb 30.4%,#fef2e1 32.8%,#fef0dc 33.3%,#fcdcb1 35.8%,#fbd4a1 36.6%,#f9bc86 38.5%,#f8b27d 39.1%,#f4905e 41.8%,#ef704d 44.6%,#ee6a4a 45%,#e24b33 46.3%,#d93728 47.2%,#c92027 48.2%,#a91d22 49.6%,#991b20 50.8%,#80161a 51.8%,#7c1519 52.1%,#7e1519 62.6%,#86171b 62.8%,#9b1b20 63.2%,#a91d23 63.5%,#cb2027 64.7%,#db3b2a 65.2%,#e24932 65.4%,#ed6748 65.8%,#f48f5e 66.6%,#f9ba84 67.4%,#fcd9ab 68.6%,#fef4e7 70.4%,#fff9f0 72.3%,#fff9f1 74.1%,#fef5e9 77.1%,#fef6e9 79.3%,#fef2e1 82%,#fef0dc 82.4%,#fcddb3 84.9%,#fbd4a1 85.8%,#f9bd87 87.8%,#f8b37e 88.4%,#f4915f 91%,#ee6a4a 94.4%,#e24a32 95.9%,#da3829 96.8%,#ca2027 97.9%,#ab1d23 99.3%,#a91d23 99.9%)"></i><i style="background:linear-gradient(90deg,#aa1d23 0.1%,#80161a 2.8%,#7c1519 3.3%,#7c1519 13.2%,#81161a 13.5%,#9a1b20 14%,#a31c22 14.2%,#c92027 15.3%,#cc2227 15.4%,#d93728 15.8%,#e34c33 16.1%,#ee6949 16.6%,#f4905e 17.3%,#f9bc86 18.1%,#fbd8a8 19.1%,#fde1bc 19.7%,#fef5e8 21.3%,#fff9f1 23.2%,#fff9f1 25.4%,#fef6ea 28.3%,#fff7ed 30.3%,#fef2e1 32.8%,#fef0dd 33.3%,#fcdcb1 35.8%,#fbd4a1 36.6%,#f9bd87 38.5%,#f8b27d 39.1%,#f4905e 41.8%,#ef704d 44.6%,#ed6848 45.1%,#e24b33 46.3%,#d93728 47.2%,#c92027 48.2%,#ab1d23 49.4%,#981b20 50.8%,#81161a 51.8%,#7c1519 52.1%,#7e1519 62.6%,#86171b 62.8%,#9a1b20 63.2%,#a91d22 63.5%,#ca2027 64.7%,#ce2427 64.8%,#da392a 65.2%,#e14731 65.4%,#ee6c4b 65.9%,#f48d5d 66.6%,#f9b883 67.4%,#fbd8a9 68.6%,#fef1df 70.2%,#fef5e8 70.5%,#fff9f1 72.4%,#fff9f1 74.2%,#fef6eb 77.2%,#fef6eb 79.2%,#fef2e1 82%,#fef0dc 82.4%,#fcddb3 84.9%,#fbd5a2 85.8%,#f9bc86 87.9%,#f8b27d 88.5%,#f4915f 91%,#ee6949 94.5%,#e24a32 95.9%,#d93628 96.9%,#cb2027 97.9%,#ab1d23 99.3%,#a91d23 99.9%)"></i><i style="background:linear-gradient(90deg,#aa1d23 0.1%,#7c1519 3.3%,#7c1519 13.2%,#82161a 13.5%,#9e1b21 14%,#ac1d23 14.3%,#c82027 15.3%,#cc2227 15.4%,#d93628 15.8%,#e24a32 16.1%,#ed6848 16.6%,#f48e5d 17.3%,#f9b983 18.1%,#fcd9aa 19.2%,#fde2bd 19.8%,#fef2e2 21.1%,#fef5e8 21.5%,#fff9f1 23.4%,#fff9f1 25.6%,#fff7ec 28.3%,#fff7ed 30.4%,#fef2e1 32.8%,#feefdb 33.4%,#fcdbaf 36%,#fbd5a2 36.6%,#f9bd87 38.5%,#f8b27d 39.1%,#f4905e 41.8%,#ef704d 44.6%,#ed6849 45.1%,#e24b33 46.3%,#d93728 47.2%,#cb2027 48.1%,#aa1d23 49.4%,#981b20 50.8%,#7d1519 52.1%,#7e1519 62.6%,#86171b 62.8%,#9a1b20 63.2%,#a81d22 63.5%,#c92027 64.7%,#cd2327 64.8%,#da3829 65.2%,#e04630 65.4%,#ee6b4a 65.9%,#f4915f 66.7%,#f9bc86 67.5%,#fbd5a2 68.5%,#fcdaac 68.7%,#fef2e1 70.3%,#fef5e8 70.6%,#fff9f1 72.5%,#fff9f1 74.4%,#fff7ed 79.1%,#fef2e1 82%,#fef0dc 82.4%,#fcddb3 84.9%,#fbd5a2 85.8%,#f9bc86 87.9%,#f8b27d 88.5%,#f4905e 91.1%,#ee6949 94.5%,#e14831 96%,#d93728 96.9%,#cb2027 97.9%,#ab1d23 99.3%,#a91d23 99.9%)"></i><i style="background:linear-gradient(90deg,#aa1d23 0.1%,#7c1519 3.4%,#7c1519 13.2%,#82161a 13.5%,#991b20 13.9%,#aa1d23 14.2%,#c82027 15.3%,#cc2127 15.4%,#dc3c2b 15.9%,#e24932 16.1%,#ed6647 16.6%,#f49260 17.4%,#f9bc86 18.2%,#fbd5a3 19.1%,#fcdaad 19.3%,#fde1bc 19.8%,#fef5e7 21.5%,#fff9f1 23.5%,#fff9f1 25.8%,#fff8ee 30.4%,#fef2e2 32.7%,#fef0dd 33.3%,#fcdbb0 36%,#fbd5a2 36.6%,#f9bc86 38.6%,#f8b37e 39.1%,#f4915f 41.8%,#ef704d 44.6%,#ed6949 45.1%,#e24b33 46.3%,#d93728 47.2%,#cb2027 48.1%,#aa1d23 49.4%,#9a1b20 50.7%,#80161a 51.9%,#7c1519 52.2%,#7c1519 62.2%,#7e151a 62.6%,#86171b 62.8%,#991b20 63.2%,#a71d22 63.5%,#cc2227 64.8%,#d93628 65.2%,#e24b33 65.5%,#ed6949 65.9%,#f48f5e 66.7%,#f9ba84 67.5%,#fbd4a1 68.5%,#fcdbae 68.8%,#fef1df 70.3%,#fef5e7 70.6%,#fff9f0 72.5%,#fff9f1 74.6%,#fff8ee 79.1%,#fef2e1 82%,#fef0dc 82.4%,#fcdcb1 85%,#fbd5a2 85.8%,#f9bc87 87.9%,#f8b27d 88.5%,#f4915e 91.1%,#ee6a4a 94.5%,#e14931 96%,#d93729 96.9%,#cb2127 97.9%,#ab1d23 99.3%,#a91d23 99.9%)"></i><i style="background:linear-gradient(90deg,#aa1d23 0.1%,#7d1519 3.4%,#7c1519 13.2%,#83161b 13.5%,#9a1b20 13.9%,#aa1d23 14.2%,#cb2127 15.4%,#db3b2a 15.9%,#e14831 16.1%,#ee6c4b 16.7%,#f4905e 17.4%,#f9ba84 18.2%,#fcd9aa 19.3%,#fde0ba 19.8%,#fef5e8 21.6%,#fff9f1 23.6%,#fff9f1 26.1%,#fff8ef 30.2%,#fef2e2 32.8%,#fef0db 33.4%,#fcd9ab 36.2%,#fbd5a2 36.6%,#f9bc86 38.6%,#f8b27d 39.2%,#f4915f 41.8%,#ef6f4d 44.8%,#e14931 46.4%,#d93729 47.2%,#cb2027 48.1%,#a81d22 49.6%,#9a1b20 50.7%,#7d1519 52.2%,#7d1519 62.5%,#82161a 62.7%,#991b20 63.2%,#aa1d23 63.6%,#cb2127 64.8%,#db3b2b 65.3%,#e24932 65.5%,#ed6647 65.9%,#f48e5d 66.7%,#f9b883 67.5%,#fbd3a0 68.5%,#fcdcb1 69%,#fef2e0 70.4%,#fef5e8 70.7%,#fff9f1 72.6%,#fff9f1 74.9%,#fff8ef 78.9%,#fef2e1 82%,#fef0dd 82.4%,#fcdcb2 85%,#fbd5a3 85.8%,#f9bd87 87.9%,#f8b37e 88.5%,#f4915f 91.1%,#ee6a4a 94.5%,#e24932 96%,#d83528 97%,#cc2127 97.9%,#ac1d23 99.3%,#a91d23 99.9%)"></i><i style="background:linear-gradient(90deg,#aa1d23 0.1%,#7c1519 3.5%,#7c1519 13.1%,#80161a 13.4%,#a01c21 14%,#ad1d23 14.3%,#cb2027 15.4%,#db3a2a 15.9%,#e14831 16.1%,#ee6b4a 16.7%,#f48f5d 17.4%,#f9bc87 18.3%,#fbd5a2 19.2%,#fcdeb5 19.7%,#fef3e4 21.5%,#fef6ea 22%,#fff9f1 23.8%,#fff9f1 29.6%,#fff7ed 30.9%,#fef1df 33.2%,#fcdeb4 35.7%,#fbd5a2 36.6%,#f9bd87 38.6%,#f8b27d 39.2%,#f4905e 41.9%,#ef6f4d 44.8%,#ee6a4a 45.1%,#e24932 46.4%,#da3729 47.2%,#c92027 48.2%,#a91d22 49.6%,#9a1b20 50.7%,#7c1519 52.3%,#7d1519 62.5%,#83161b 62.7%,#991b20 63.2%,#aa1d23 63.6%,#cb2027 64.8%,#db3a2a 65.3%,#e44e35 65.6%,#ee6b4b 66.1%,#f4925f 66.8%,#f9bc86 67.6%,#fbd5a2 68.6%,#fcdbaf 69%,#fef2e1 70.5%,#fef5e8 70.8%,#fff9f1 72.7%,#fff9f1 75.2%,#fff9f0 78.8%,#fef2e1 82%,#feefdb 82.6%,#fcdcb0 85.1%,#fbd4a1 85.9%,#f9bc86 88%,#f8b27d 88.6%,#f4905e 91.2%,#ee6b4a 94.5%,#e24a32 96%,#da3829 96.9%,#ca2027 98%,#ac1d23 99.3%,#a91d23 99.9%)"></i><i style="background:linear-gradient(90deg,#aa1d23 0.1%,#7c1519 3.6%,#7c1519 13.1%,#81161a 13.4%,#9b1b20 13.9%,#aa1d23 14.2%,#cb2027 15.4%,#db3a2a 15.9%,#e34e35 16.2%,#ee6a4a 16.7%,#f49360 17.6%,#f9ba84 18.3%,#fbd4a0 19.2%,#fcdfb6 19.8%,#fef3e5 21.6%,#fef6ea 22.1%,#fff9f1 23.9%,#fff9f1 29.6%,#fff7ed 30.9%,#fef1df 33.2%,#fbd4a1 36.7%,#f9bd87 38.6%,#f8b17c 39.3%,#f4905e 41.9%,#ef704d 44.8%,#ee6a4a 45.1%,#e24a32 46.4%,#da3829 47.2%,#c92027 48.2%,#a91d22 49.6%,#991b20 50.8%,#7d1519 52.3%,#7e1519 62.5%,#84171b 62.7%,#9a1b20 63.2%,#a91d23 63.6%,#ca2027 64.8%,#da3829 65.3%,#e34d34 65.6%,#ee6949 66.1%,#f48f5e 66.8%,#f9ba84 67.6%,#fbd4a1 68.6%,#fcddb2 69.1%,#fef2e2 70.6%,#fef5e8 71%,#fff9f1 73%,#fff9f1 75.8%,#fff9f1 78.8%,#fef2e1 82.1%,#fcdbae 85.2%,#fbd4a1 85.9%,#f9bc86 88%,#f8b27d 88.6%,#f4905e 91.2%,#ee6949 94.6%,#e24a32 96%,#d93628 97%,#cb2027 98%,#ab1d23 99.4%,#a91d22 99.9%)"></i><i style="background:linear-gradient(90deg,#aa1d23 0.1%,#7c1519 3.7%,#7c1519 13.1%,#82161a 13.4%,#9c1b20 13.9%,#aa1d23 14.2%,#cb2027 15.4%,#db3a2a 15.9%,#e34e35 16.2%,#ee6a4a 16.7%,#f4915f 17.6%,#f9b882 18.3%,#fbd5a2 19.3%,#fcdeb4 19.8%,#fef4e5 21.7%,#fef6ea 22.1%,#fff9f1 24%,#fff9f1 29.6%,#fff7ed 31%,#fef1df 33.2%,#fbd4a1 36.7%,#f9bc86 38.7%,#f8b27d 39.3%,#f4915f 41.9%,#ef6f4d 44.9%,#e24b32 46.4%,#d93628 47.3%,#ca2027 48.2%,#a91d23 49.6%,#991b20 50.8%,#7d1519 52.5%,#7d1519 62.4%,#81161a 62.6%,#9a1b20 63.2%,#a91d23 63.6%,#ca2027 64.8%,#cd2327 64.9%,#d93729 65.3%,#e24b33 65.6%,#ed6747 66.1%,#f48d5d 66.8%,#f9b883 67.6%,#fbd6a3 68.7%,#fde1bc 69.4%,#fef4e5 70.8%,#fef6ea 71.3%,#fff9f1 73.2%,#fff9f1 78.2%,#fff7ed 79.8%,#fef1e0 82.2%,#fcdcb0 85.1%,#fbd5a2 85.9%,#f9bd87 88%,#f8b27c 88.7%,#f4915f 91.2%,#ee6a4a 94.6%,#e14831 96.2%,#d93728 97%,#cb2027 98%,#ab1d23 99.4%,#a91d22 99.9%)"></i><i style="background:linear-gradient(90deg,#a91d23 0.1%,#7c1519 3.8%,#7c1519 13%,#80161a 13.3%,#9c1b20 13.9%,#aa1d23 14.2%,#cb2027 15.4%,#db392a 15.9%,#e34d34 16.2%,#ee6949 16.7%,#f4905e 17.6%,#f9bb85 18.5%,#fbd3a0 19.3%,#fcdeb5 19.9%,#fef4e6 21.8%,#fef6ea 22.2%,#fff9f1 24%,#fff9f1 29.6%,#fff7ed 31%,#fef1df 33.2%,#fbd5a2 36.7%,#f9bc87 38.7%,#f8b17c 39.4%,#f4905e 42%,#ef704d 44.9%,#ee6a4a 45.2%,#e24932 46.5%,#d93728 47.3%,#cb2027 48.2%,#aa1d23 49.6%,#9a1b20 50.8%,#7d1519 52.6%,#7d1519 62.4%,#83161b 62.6%,#9a1b20 63.2%,#a91d22 63.6%,#cd2227 64.9%,#d93628 65.3%,#e24932 65.6%,#ee6b4a 66.2%,#f4915f 66.9%,#f9bc86 67.7%,#fbd5a2 68.7%,#fcdfb7 69.3%,#fef3e3 70.8%,#fef5e9 71.3%,#fff9f0 73.3%,#fff9f1 78.2%,#fff7ed 79.9%,#fef2e0 82.2%,#fcdcb0 85.1%,#fbd5a2 85.9%,#f9bc86 88.1%,#f8b17c 88.8%,#f4905e 91.4%,#ee6a4a 94.6%,#e14931 96.2%,#d93729 97%,#cc2127 98%,#ac1d23 99.4%,#a91d22 99.9%)"></i><i style="background:linear-gradient(90deg,#a91d23 0.1%,#7c1519 4%,#7c1519 13%,#82161a 13.3%,#981b20 13.8%,#a91d23 14.2%,#cb2027 15.4%,#db392a 15.9%,#e34d34 16.2%,#ee6949 16.7%,#f48f5d 17.6%,#f9b883 18.5%,#fbd5a1 19.5%,#fcddb3 19.9%,#fef3e4 21.8%,#fef6e9 22.2%,#fff8ef 24.2%,#fff9f1 29.7%,#fff7ed 31.2%,#fef1e0 33.2%,#fbd5a2 36.7%,#f9bd87 38.7%,#f8b17c 39.4%,#f4915f 42%,#ef704d 44.9%,#ed6849 45.3%,#e24a32 46.5%,#da3829 47.3%,#c92027 48.3%,#ab1d23 49.7%,#7e151a 52.7%,#7f161a 62.4%,#a21c21 63.4%,#cc2227 64.9%,#db3b2a 65.4%,#e44e35 65.7%,#ee6949 66.2%,#f48f5d 66.9%,#f9ba84 67.7%,#fbd4a0 68.7%,#fde0b9 69.4%,#fef4e5 71.1%,#fef6ea 71.5%,#fff9f0 74.3%,#fff9f1 78.2%,#fff7ed 80%,#fef2e0 82.2%,#fcdcb0 85.1%,#fbd5a2 85.9%,#f9bd87 88.1%,#f4905e 91.4%,#ee6a4a 94.6%,#e24932 96.2%,#d93528 97.2%,#cc2127 98%,#ad1d23 99.4%,#a91d22 99.9%)"></i><i style="background:linear-gradient(90deg,#aa1d23 0.1%,#9a1b20 1.6%,#7c1519 4.1%,#7c1519 12.9%,#80161a 13.2%,#9c1b20 13.9%,#cb2027 15.4%,#db392a 15.9%,#e34d34 16.2%,#ee6949 16.7%,#f49360 17.7%,#f9bc86 18.6%,#fbd3a0 19.5%,#fcdeb5 20%,#fef3e5 21.9%,#fef5e9 22.2%,#fff8ef 25.7%,#fff9f1 29.7%,#fff7ed 31.2%,#fef1e0 33.2%,#fde2bd 35.3%,#fbd4a1 36.7%,#f8b27d 39.4%,#f4915f 42.1%,#ef6f4d 44.9%,#ee6949 45.2%,#e14931 46.5%,#d93728 47.3%,#cb2027 48.4%,#8b181d 52.6%,#83161b 53.3%,#81161a 62.4%,#86171b 62.6%,#9e1c21 63.3%,#cc2127 64.9%,#db3a2a 65.4%,#e14831 65.6%,#ee6949 66.2%,#f4915f 67.1%,#f9b882 67.8%,#fbd4a0 68.8%,#fcdeb6 69.4%,#fef3e3 71.2%,#fef5e9 71.6%,#fff8f0 75%,#fff9f1 78.3%,#fff7ee 80%,#fef2e0 82.2%,#fbd6a4 85.8%,#f9bd87 88.1%,#f4915f 91.4%,#ee6a4a 94.6%,#e34b33 96%,#da3829 97%,#ca2027 98.2%,#ae1e23 99.5%,#a91d23 99.9%)"></i></div>
<div class="cb" style="top:292.5px;height:401.0px"></div>
<div class="cb" style="top:793.0px;height:401.0px"></div>
<svg width="1199" height="1304" viewBox="0 0 1199 1304">
<path d="M124.3 105.3L125.2 98.6L125.9 95.2L126.4 94.2L126.7 94.1L127.1 94.5L127.6 95.8L128.3 99.7L129.1 105.4L131.5 128.9L132.5 137.6L133.1 141.2L133.6 143L134 144.1L134.5 144.4L134.9 143.8L135.4 142.5L136.4 136.6L137.3 129.3L139.4 109.7L140.3 102.9L141.2 98.4L141.7 97.2L142.1 96.8L142.6 97.1L143 98.2L143.5 100L144.1 103.3L145 110.1L147.2 129.7L148.1 136.1L149 140.2L149.5 141.3L149.9 141.6L150.2 141.5L150.7 140.7L151.6 137.1L152.6 130.2L154.7 112.9L155.6 106.4L156.6 101.3L157.1 100.1L157.5 99.5L158 99.6L158.4 100.4L159.3 103.8L160.4 110.2L162.5 126.4L163.4 132.4L164.4 137.3L165 138.7L165.5 139L165.8 138.9L166.2 138.2L167.1 135.1L168.2 129.2L170.3 114.1L171.3 107.6L172.4 103.4L172.8 102.4L173.3 102L173.7 102.2L174.2 103L175.1 106.1L176.1 111.8L178.2 125.9L179.1 131.1L180.2 135.2L180.7 136.4L181.2 136.7L181.6 136.4L182.1 135.6L182.5 134.3L183.1 131.9L184.2 126.3L186.3 113.1L187.3 107.9L188.2 105L188.7 104.3L189.1 104.1L189.6 104.4L190 105.1L191.1 108.6L192.1 114L194.2 126.4L195.3 131.3L196.2 134L196.6 134.7L197.1 134.9L197.5 134.7L198.1 133.6L199.2 130L200.1 125.6L202.2 113.8L203.2 109L204.1 106.4L204.6 105.7L205 105.4L205.5 105.6L205.9 106.2L206.4 107.3L207 109.3L208 114.1L210.7 128.5L211.6 131.9L212 133.1L212.5 133.8L212.8 134.1L213.1 134.1L213.5 133.9L214 133.2L214.6 131.6L215.8 126.6L218 114.5L218.9 110.3L220 106.9L220.6 105.9L221 105.6L221.5 105.8L222.1 106.8L223.1 110.1L224.2 115.1L226.3 126.7L227.5 131.8L228.1 133.4L228.5 134.2L229 134.5L229.4 134.4L229.9 133.8L230.3 132.7L231.2 129.5L232.1 125L234.2 113.1L235.3 108.2L235.9 106.3L236.3 105.3L236.7 104.8L237.2 104.7L237.6 105.1L238.1 106L239.1 109.8L240 114.4L242.1 127.1L243.2 132.2L243.8 134.3L244.2 135.3L244.7 135.9L245.1 135.9L245.6 135.5L246 134.5L247.1 130.5L248 125.5L250.1 112.1L251.1 106.7L251.7 104.5L252.2 103.4L252.6 102.9L253.1 102.9L253.5 103.4L254 104.5L255 108.9L258 128.6L259.1 134.3L260 137.3L260.4 138L260.9 138.1L261.3 137.6L261.8 136.5L262.8 132L263.7 126.3L265.8 110.9L266.8 104.7L267.7 101.4L268.2 100.6L268.6 100.4L268.9 100.7L269.4 101.6L270.3 105.1L271.3 111.7L273.4 128.2L274.3 134.3L275.4 139.2L275.8 140.3L276.3 140.7L276.7 140.4L277.3 139L278.4 134L279.3 127.5L281.4 109.9L282.4 102.7L283.3 98.9L283.8 98L284.2 97.8L284.7 98.3L285.1 99.6L286.2 105L287.1 112L289.2 130.8L290.2 138.3L291.1 142.3L291.6 143.2L291.9 143.4L292.3 143L292.8 141.9L293.6 137.5L294.5 130.7L296.8 109.4L297.7 102.1L298.3 98.5L298.7 96.5L299.2 95.4L299.6 95L300.1 95.5L300.5 96.8L301.4 101.6L302.3 109L304.4 130.1L305.3 137.9L306.4 144.2L306.8 145.6L307.3 146.1L307.7 145.8L308.2 144.6L309.1 139.8L310.1 130.8L312.2 108.6L313.1 100.4L313.7 96.3L314.2 94.1L314.6 92.8L315.1 92.4L315.5 92.8L316 94.2L316.9 99.6L317.8 107.6L319.9 131L320.8 139.7L321.8 146.6L322.2 148.1L322.7 148.7L322.8 148.7L323.1 148.4L323.6 147L324.5 141.7L325.5 131.8L327.6 107.4L328.5 98.5L329.1 94.1L329.6 91.7L330 90.3L330.3 89.9L330.5 89.8L330.8 90.1L331.2 91.4L332.1 96.7L333.2 106.8L335.3 132.2L336.2 141.6L336.8 146.4L337.2 148.9L337.7 150.6L338.1 151.1L338.3 151.1L338.6 150.7L339 149.2L339.5 146.7L340.1 141.9L341.1 130.6L343.2 104.3L344.3 94L344.7 90.9L345.2 88.8L345.6 87.7L345.9 87.6L346.4 88.3L346.8 90.1L347.9 98.1L348.8 108.2L350.8 135.5L351.9 146.3L352.8 151.9L353.2 153.1L353.5 153.3L354 152.6L354.4 150.9L354.9 148.1L355.5 142.9L356.4 132.6L358.5 104.4L359.5 93.1L360.4 87.2L360.9 85.8L361.2 85.5L361.5 85.8L361.9 87.1L362.8 93L363.9 104.4L366 133.3L366.9 144.1L367.5 149.6L367.9 152.5L368.4 154.4L368.8 155.1L369 155.1L369.3 154.7L369.7 153L370.2 150.2L370.8 145L371.8 132.3L373.9 102.7L375 91.1L375.4 87.6L375.9 85.2L376.3 84L376.6 83.9L377 84.7L377.5 86.6L378.5 95.5L379.4 106.7L381.5 137L382.6 149L383.5 155.1L383.9 156.4L384.2 156.7L384.7 155.9L385.1 154L385.6 150.9L386.2 145.2L387.1 133.8L389.2 102.9L390.2 90.6L391.1 84.2L391.6 82.8L391.9 82.5L392.2 82.8L392.6 84.3L393.5 90.8L394.6 103.2L396.7 134.6L397.6 146.1L398.2 152L398.6 155.1L399.1 157.1L399.5 157.8L399.7 157.8L400 157.2L400.4 155.4L400.9 152.4L401.5 146.6L402.4 135.1L404.6 101.3L405.5 90.5L406.4 83.6L406.8 81.9L407.1 81.6L407.3 81.6L407.7 82.5L408.2 84.7L409.2 94.3L410.1 106.3L412.1 136.2L413.1 149.3L414 156.4L414.5 158.1L414.8 158.6L414.9 158.6L415.4 157.7L415.8 155.6L416.9 146.1L417.8 134L419.9 101.7L420.8 90.6L421.7 83.3L422.1 81.5L422.4 81L422.6 81L423 81.8L423.5 83.9L423.9 87.2L424.5 93.3L425.4 105.3L427.5 137.7L428.6 150.6L429.5 157.2L429.9 158.7L430.2 159L430.7 158.2L431.1 156.2L431.6 153L432.2 146.9L433.1 135L435.1 102.4L436.2 89.4L437.1 82.6L437.5 81.1L437.8 80.8L438.1 81.1L438.6 82.6L439.5 89.3L440.5 102.3L442.6 134.8L443.5 146.8L444.1 152.9L444.6 156.1L445 158.2L445.5 158.9L445.8 158.7L446.2 157.3L447.1 150.7L448.2 137.9L450.3 105.5L451.2 93.4L451.8 87.3L452.2 84L452.7 81.8L453.1 81L453.3 81L453.6 81.5L454 83.3L454.9 90.5L455.8 101.6L457.9 133.9L458.8 145.9L459.9 155.4L460.3 157.6L460.8 158.5L460.9 158.5L461.2 158.1L461.6 156.4L462.5 149.4L463.4 138.4L465.7 104.3L466.6 92.7L467.2 87L467.6 84L468.1 82.2L468.4 81.7L468.5 81.6L469 82.4L469.4 84.4L469.9 87.7L470.5 93.6L471.4 105.4L473.5 137L474.5 149.5L475.4 156L475.9 157.4L476.2 157.7L476.6 157L477.1 155.1L477.5 152L478.1 146.2L479 134.7L481.1 103.4L482.2 91L483.1 84.5L483.5 83L483.8 82.7L484.1 82.9L484.6 84.3L485.5 90.6L486.5 102.9L488.6 133.6L489.5 144.9L490.1 150.7L490.5 153.8L491 155.7L491.4 156.5L491.6 156.5L491.9 156L492.3 154.3L493.2 147.5L494.1 137.1L496.2 107L497.1 95.7L498.2 86.9L498.6 84.9L499.1 84.1L499.2 84L499.5 84.4L500 86L500.9 92.5L501.8 102.6L504 134.1L504.9 144.7L505.5 150L506 152.8L506.4 154.4L506.7 154.9L506.9 154.9L507.3 154.3L507.8 152.4L508.2 149.5L508.8 144.1L509.7 133.4L511.8 104.7L512.9 93.3L513.8 87.4L514.2 86L514.5 85.8L514.8 86L515.3 87.3L516.2 93.2L517.2 104.3L519.3 132.3L520.2 142.6L520.8 147.8L521.2 150.6L521.7 152.4L522.1 153L522.3 153L522.6 152.6L523 151.1L523.5 148.5L524.1 143.6L525 133.7L527.2 104.8L528.1 95.6L529 89.7L529.5 88.2L529.8 87.8L529.9 87.8L530.4 88.5L530.8 90.2L531.9 97.9L532.8 107.7L534.9 133.9L535.8 142.9L536.7 148.8L537.1 150.4L537.6 150.9L537.9 150.6L538.3 149.4L539.2 144.1L540.3 134L542.4 108.8L543.3 99.5L543.9 94.8L544.3 92.3L544.8 90.7L545.2 90.1L545.4 90.1L545.6 90.5L546.1 91.9L546.5 94.2L547.1 98.6L548 107.3L550.3 133.1L551.2 141.4L552.1 146.7L552.5 148L553 148.4L553.4 147.9L553.9 146.4L554.3 144L554.9 139.7L555.8 131.1L557.9 108L559 98.8L559.9 94L560.3 92.9L560.6 92.7L561.1 93L561.5 94.3L562 96.4L562.6 100.5L563.5 108.5L565.6 130.5L566.6 139.4L567.5 144.2L568 145.5L568.4 145.8L568.9 145.3L569.3 144L570.4 137.9L571.3 130.2L573.4 109.3L574.4 101L575.3 96.6L575.7 95.6L576 95.3L576.3 95.5L576.8 96.3L577.7 100.2L578.7 108L580.8 127.6L581.9 136.1L582.5 139.6L582.9 141.5L583.4 142.7L583.8 143.1L584.3 142.7L584.7 141.6L585.2 139.8L585.8 136.4L586.7 129.6L588.8 111.1L589.8 103.6L590.7 99.5L591.2 98.4L591.6 98.1L592.1 98.4L592.5 99.5L593 101.3L593.6 104.5L594.5 110.9L596.6 128.3L597.6 135.3L598.5 139.1L599 140.1L599.4 140.4L599.9 140L600.3 139L600.8 137.4L601.4 134.4L602.2 128.4L604.3 112.1L605.4 105.6L606.3 102L606.7 101L607.2 100.7L607.5 100.9L607.9 101.6L608.8 104.7L609.9 110.7L612 125.9L613 132.4L613.6 135.1L614.1 136.6L614.5 137.5L615 137.8L615.4 137.6L615.9 136.8L616.3 135.5L616.9 133L618 126.9L620.1 112.8L621.1 107.2L622 104.1L622.5 103.3L622.9 103.1L623.4 103.4L623.8 104.2L624.9 107.9L625.8 112.7L628 126.8L629.1 132.1L629.9 134.9L630.4 135.6L630.8 135.7L631.3 135.4L631.7 134.6L632.8 131.1L633.7 126.5L635.9 113.3L637 108.3L637.9 105.7L638.3 105L638.8 104.8L639.2 105.1L639.7 105.9L640.6 108.6L641.6 113.5L644.5 129.1L645.5 132.8L646 133.8L646.4 134.3L646.9 134.4L647.3 134L647.8 133.2L648.4 131.5L649.4 127L651.7 114.8L652.6 110.5L653.6 107L654.2 105.9L654.7 105.7L655.1 105.8L655.7 106.7L656.8 109.9L657.8 114.8L660 127L661.1 131.3L661.7 133L662.3 134L662.7 134.2L663 134.1L663.3 133.8L663.8 133L664.2 131.7L665.1 128.2L667.8 113.8L668.9 109L669.8 106.3L670.2 105.6L670.7 105.3L671.1 105.5L671.7 106.4L672.8 109.8L673.8 114.9L676.1 127.6L677.1 132.2L678 134.5L678.5 135L678.9 135L679.4 134.6L679.8 133.6L680.9 129.9L681.8 125.2L683.9 112.6L684.9 107.5L685.5 105.5L685.9 104.5L686.4 104L686.8 104L687.3 104.4L687.7 105.4L688.8 109.5L689.7 114.4L691.8 127.8L692.8 133.2L693.7 136L694.2 136.7L694.6 136.9L695.1 136.5L695.5 135.6L696.6 131.5L697.6 125.4L699.7 111.1L700.8 105.4L701.7 102.5L702.1 101.9L702.6 101.8L703 102.3L703.5 103.4L704.5 108L705.4 113.7L707.5 129L708.6 135.1L709.5 138.4L709.9 139.1L710.4 139.3L710.8 138.8L711.3 137.7L712.3 132.9L713.2 126.8L715.3 110.4L716.3 103.8L717.2 100.2L717.7 99.4L718.1 99.2L718.6 99.7L719 100.9L720.1 106L721 112.5L723.1 130L724.1 137.1L725 140.9L725.5 141.8L725.9 141.9L726.4 141.4L726.8 140.1L727.9 134.6L728.8 127.7L730.9 108.9L731.9 101.5L732.8 97.5L733.3 96.6L733.6 96.5L733.7 96.5L734.2 97.2L734.6 98.6L735.7 104.5L736.6 112L738.7 131.8L739.6 138.7L740.5 143.2L740.9 144.4L741.4 144.7L741.8 144.2L742.2 142.9L742.7 140.8L743.3 136.9L744.2 129.3L746.4 106.8L747.3 99.7L748.2 95.1L748.7 94L749 93.8L749.1 93.8L749.6 94.4L750 95.9L751.1 102.4L752 110.7L754.1 132.8L755.1 141.6L756 146.2L756.5 147.2L756.8 147.4L757.2 146.9L757.7 145.4L758.1 143.2L758.7 138.9L759.6 130.4L761.9 105.6L762.8 97.7L763.7 92.6L764.1 91.4L764.4 91.2L764.6 91.2L765 91.9L765.5 93.5L766.5 100.7L767.4 109.8L769.5 134.1L770.4 142.6L771.3 148.1L771.7 149.5L772 149.9L772.2 149.9L772.6 149.3L773.1 147.7L773.5 145.2L774.1 140.5L775 131.2L777.1 105.8L778.2 95.6L779.1 90.2L779.5 89L779.8 88.7L780.3 89.2L780.7 90.8L781.6 96.7L782.5 105.8L784.6 132.1L785.5 142L786.6 149.7L787 151.5L787.5 152.2L787.6 152.2L787.9 151.8L788.4 150.3L789.3 144.4L790.2 135.1L792.4 106L793.3 96.1L793.9 91.2L794.4 88.6L794.8 87L795.1 86.6L795.3 86.6L795.7 87.2L796.2 89L796.6 91.8L797.2 97.1L798.1 107.4L800.2 135.5L801.2 146.7L802.1 152.6L802.6 153.9L802.9 154.2L803.3 153.6L803.8 151.9L804.2 149.1L804.8 143.8L805.7 133.3L808 102.5L808.9 92.7L809.8 86.5L810.2 85L810.5 84.7L810.7 84.7L811.1 85.6L811.6 87.7L812.6 96.6L813.5 107.7L815.5 135.3L816.5 147.4L817.4 153.9L817.9 155.5L818.2 155.9L818.3 155.9L818.8 155.1L819.2 153L820.3 144.2L821.2 132.9L823.3 102.7L824.2 92.2L825.1 85.4L825.5 83.7L825.8 83.2L826 83.2L826.4 83.9L826.8 85.9L827.3 89L827.9 94.8L828.8 106.2L830.9 137L831.9 149.2L832.8 155.6L833.3 157L833.6 157.2L833.9 156.9L834.3 155.4L835.2 148.9L836.3 136.4L838.4 105.1L839.3 93.6L839.9 87.7L840.3 84.6L840.8 82.7L841.2 82L841.5 82.3L842 83.7L842.9 90.2L843.9 102.8L846 134.5L846.9 146.2L847.5 152.2L848 155.4L848.4 157.5L848.9 158.2L849 158.2L849.3 157.7L849.8 155.9L850.7 148.7L851.6 137.6L853.7 105.6L854.5 93.7L855.6 84.2L856 82.1L856.5 81.2L856.6 81.3L856.9 81.7L857.4 83.5L858.3 90.6L859.3 103.7L861.3 133.9L862.2 146L863.2 155.6L863.7 157.9L864.1 158.8L864.3 158.8L864.6 158.4L865 156.7L865.9 149.7L867 136.5L869.8 94L870.9 84.2L871.3 81.9L871.8 80.9L871.9 80.8L872.2 81.2L872.7 82.8L873.6 89.7L874.6 102.8L876.7 135.4L877.6 147.3L878.2 153.2L878.7 156.4L879.1 158.4L879.4 158.9L879.6 159L879.9 158.7L880.3 157.1L881.2 150.4L882.3 137.4L884.3 104.8L885.2 92.9L885.8 86.8L886.3 83.6L886.7 81.6L887.2 80.9L887.5 81.1L887.9 82.6L888.8 89.2L889.9 102.1L892 134.5L892.9 146.5L893.5 152.6L893.9 155.9L894.4 158L894.8 158.8L895 158.8L895.3 158.3L895.7 156.4L896.6 149.2L897.5 138L899.6 105.8L900.5 93.8L901.6 84.3L902 82.1L902.5 81.3L902.6 81.3L902.9 81.7L903.4 83.5L904.3 90.5L905.3 103.6L907.3 133.5L908.2 145.5L909.2 155L909.7 157.2L910.1 158.2L910.3 158.2L910.5 157.8L911 156.1L911.9 149.3L912.9 136.4L915.8 94.9L916.8 85.4L917.3 83.1L917.7 82.1L917.9 82.1L918.2 82.4L918.6 83.9L919.5 90.6L920.6 103.2L922.7 134.4L923.6 145.9L924.2 151.6L924.6 154.7L925.1 156.5L925.5 157.2L925.8 156.9L926.3 155.5L927.2 149.1L928.2 136.8L930.3 106L931.2 94.7L931.8 89L932.3 85.9L932.7 84L933.2 83.3L933.5 83.5L933.9 84.8L934.8 90.9L935.9 102.8L938 133L938.8 144.2L939.9 153L940.3 155L940.8 155.8L940.9 155.8L941.2 155.4L941.7 153.8L942.6 147.2L943.5 137.1L945.6 107.6L946.5 96.5L947.5 87.7L948 85.7L948.4 84.8L948.6 84.8L948.9 85.2L949.3 86.6L950.2 92.9L951.1 102.7L953.4 133.4L954.3 143.8L954.9 149.1L955.3 151.8L955.8 153.5L956.1 154L956.2 154.1L956.5 153.8L957 152.5L957.9 146.6L958.9 135.3L961.8 98.6L962.8 89.9L963.3 87.8L963.7 86.8L963.9 86.7L964.2 86.9L964.6 88.1L965.5 93.6L966.6 104.4L968.6 131.5L969.5 141.6L970.6 149.5L971 151.3L971.5 152L971.6 152.1L971.9 151.7L972.4 150.3L973.3 144.5L974.3 133.8L976.3 109.3L977.2 99.4L978.2 91.6L978.7 89.7L979.1 88.9L979.3 88.9L979.6 89.1L980 90.4L980.9 95.7L982 105.9L984.1 131.2L985 140.4L985.6 145.1L986 147.6L986.5 149.2L986.9 149.8L987.1 149.7L987.4 149.3L987.8 147.9L988.7 142.4L989.6 134L991.7 109.7L992.6 100.7L993.5 94.4L994 92.4L994.4 91.4L994.6 91.3L994.8 91.4L995.3 92.3L995.7 94.1L996.3 97.8L997.4 107.3L1000.2 137.6L1001.3 144.7L1001.7 146.4L1002.2 147.2L1002.3 147.2L1002.6 147L1003.1 146L1003.5 144.2L1004.1 140.4L1005 132.7L1007.9 103.7L1008.8 97.5L1009.2 95.4L1009.7 94.2L1010.1 93.9L1010.4 94.2L1010.7 94.8L1011.2 96.4L1011.8 99.8L1012.8 108.3L1015.7 135.7L1016.6 141.5L1017 143.3L1017.5 144.3L1017.8 144.5L1017.9 144.5L1018.2 144.2L1018.5 143.5L1019 141.9L1019.6 138.6L1020.6 130.4L1022.7 110.6" fill="none" stroke="#0072BD" stroke-width="1.3" stroke-linejoin="round"/>
<path d="M124.3 191.0v-9.5M124.3 48.8v9.5M214.1 191.0v-9.5M214.1 48.8v9.5M304.0 191.0v-9.5M304.0 48.8v9.5M393.8 191.0v-9.5M393.8 48.8v9.5M483.7 191.0v-9.5M483.7 48.8v9.5M573.5 191.0v-9.5M573.5 48.8v9.5M663.3 191.0v-9.5M663.3 48.8v9.5M753.2 191.0v-9.5M753.2 48.8v9.5M843.0 191.0v-9.5M843.0 48.8v9.5M932.9 191.0v-9.5M932.9 48.8v9.5M1022.7 191.0v-9.5M1022.7 48.8v9.5M124.3 48.8h9.5M1022.7 48.8h-9.5M124.3 119.9h9.5M1022.7 119.9h-9.5M124.3 191.0h9.5M1022.7 191.0h-9.5" stroke="#262626" stroke-width="1.3" fill="none"/>
<rect x="124.3" y="48.8" width="898.4" height="142.2" fill="none" stroke="#262626" stroke-width="1.3"/>
<text x="119.0" y="239.7" font-size="35.6" text-anchor="middle" fill="#262626">0</text>
<text x="208.8" y="239.7" font-size="35.6" text-anchor="middle" fill="#262626">3</text>
<text x="298.7" y="239.7" font-size="35.6" text-anchor="middle" fill="#262626">6</text>
<text x="388.5" y="239.7" font-size="35.6" text-anchor="middle" fill="#262626">9</text>
<text x="483.7" y="239.7" font-size="35.6" text-anchor="middle" fill="#262626">12</text>
<text x="573.5" y="239.7" font-size="35.6" text-anchor="middle" fill="#262626">15</text>
<text x="663.3" y="239.7" font-size="35.6" text-anchor="middle" fill="#262626">18</text>
<text x="753.2" y="239.7" font-size="35.6" text-anchor="middle" fill="#262626">21</text>
<text x="843.0" y="239.7" font-size="35.6" text-anchor="middle" fill="#262626">24</text>
<text x="932.9" y="239.7" font-size="35.6" text-anchor="middle" fill="#262626">27</text>
<text x="1022.7" y="239.7" font-size="35.6" text-anchor="middle" fill="#262626">30</text>
<text x="111.2" y="62.6" font-size="35.6" text-anchor="end" fill="#262626">2</text>
<text x="111.2" y="133.7" font-size="35.6" text-anchor="end" fill="#262626">0</text>
<text x="111.2" y="204.8" font-size="35.6" text-anchor="end" fill="#262626">-2</text>
<text x="212.3" y="85.7" font-size="46" text-anchor="middle" font-weight="bold" fill="#000">N</text>
<text x="435.1" y="85.7" font-size="46" text-anchor="middle" font-weight="bold" fill="#000">S</text>
<text x="670.8" y="85.7" font-size="46" text-anchor="middle" font-weight="bold" fill="#000">N</text>
<text x="892.4" y="85.7" font-size="46" text-anchor="middle" font-weight="bold" fill="#000">S</text>
<g transform="translate(62.5 0) rotate(-90)" fill="#262626"><text x="-165.5" style="font-family:Liberation Serif,serif;font-style:italic" font-size="40">η</text><text x="-132.0" font-size="39">[m]</text></g>
<path d="M214.1 292.5V693.5M304.0 292.5V693.5M393.8 292.5V693.5M483.7 292.5V693.5M573.5 292.5V693.5M663.3 292.5V693.5M753.2 292.5V693.5M843.0 292.5V693.5M932.9 292.5V693.5M124.3 693.5H1022.7M124.3 642.4H1022.7M124.3 589.9H1022.7M124.3 537.5H1022.7M124.3 485.1H1022.7M124.3 432.6H1022.7M124.3 380.2H1022.7M124.3 327.8H1022.7" stroke="#262626" stroke-opacity="0.15" stroke-width="1" fill="none"/>
<path d="M124.3 693.5v-9.5M214.1 693.5v-9.5M304.0 693.5v-9.5M393.8 693.5v-9.5M483.7 693.5v-9.5M573.5 693.5v-9.5M663.3 693.5v-9.5M753.2 693.5v-9.5M843.0 693.5v-9.5M932.9 693.5v-9.5M1022.7 693.5v-9.5M124.3 693.5h9.5M124.3 642.4h9.5M124.3 589.9h9.5M124.3 537.5h9.5M124.3 485.1h9.5M124.3 432.6h9.5M124.3 380.2h9.5M124.3 327.8h9.5" stroke="#262626" stroke-width="1.3" fill="none"/>
<path d="M125.1 389.7L133.7 382.8L142.1 375.6L150.2 368.2L158.2 360.5M178.5 341.2L184.8 336.5L191.7 332.6L199.1 329.6L206.9 327.5L218.1 325.5L229.1 324.5L238.1 324.6L242.9 325.1L246.8 325.8L253.4 327.7L261.8 331.1L347.7 372.4L370.4 382.9L392.6 392.3L411.5 399.2L422.1 402.5L431.8 405L441.5 407.1L451.4 408.5L458.3 409.2L466.2 409.5L490.4 409.4L499.6 409.6M528 410.5L531.9 409.9L535.7 409.1L539.4 408L543.9 406.2L548.3 404.1L552.6 401.7L560.8 396L567.8 390.2L575.2 383.3L596.9 360.4L605.4 351.9L614.4 344.1L622.5 338.5L626.8 336L631.2 333.7L635.8 331.7L641.5 329.7L646.3 328.3L652.3 326.9L658.3 326L663.3 325.5L669.4 325.3L674.4 325.5L684.3 326.7L689.1 327.7L694.9 329.2L706.1 333.2L713.4 336.4L720.7 339.9L754.6 357.8L778.6 369.8L805.8 382.5L827.1 391.7M853.5 401.2L865.1 404.4L875.8 406.7L886.6 408.4L898.5 409.6L910.5 410.2L923.6 410.4L964.9 410.5L973.7 410.1L978.5 409.3L983.2 408L986.9 406.5L991.4 404L997.4 400L1008 392.1L1015.8 386L1021.9 380.9M125.1 413.9L131.8 407.9L138.2 401.6L160.5 377.2M181.3 358.3L189 353.2L196.2 349.3L203.7 346.3L210.4 344.3L217.1 343.3L223.9 343.1L229.7 343.8L236.3 345.5L241.9 347.6L247.4 350.2L253.7 353.6L259.8 357.4L269.8 364.4L291.6 380.5L304.6 389.8L317.8 398.7L330.5 406.7L341.8 413.2L353.3 419.4L365.9 425.6L378.7 431.4L396.3 438.7L415 445.7L430.1 450.7L443.6 454.3L456.3 456.8L468.3 458.2L480.5 458.6L492.7 457.9M519.9 451.3L528.9 447.2L537.4 442.2L546.2 435.8L554.6 428.6L561 422.2L567.8 414.7L589.6 388.1L597.5 379L606.6 369.8L615 362.6L619.8 359.1L624.9 355.9L630.3 353L635.8 350.4L641.4 348.2L646.2 346.8L652.1 345.4L657 344.7L661.9 344.4L666.8 344.4L671.6 344.9L675.5 345.5L679.3 346.5L683.1 347.8L687.7 349.7L692.2 352L699.3 356.1L707.9 361.5L777.8 408.4L789.5 415.9L799.7 422.1M824.6 435.1L840.4 441.9L856.5 447.7L872 452.2L887.7 455.6L902.6 457.6L917.5 458.6L925.5 458.6L932.5 458.3L939.5 457.7L946.4 456.8L956.1 454.8L964.6 452L972.7 448.2L980.3 443.4L988.4 437.2L996.8 429.7L1004 422.6L1022.7 403.3M125 442.1L132.8 434.1L141.5 424.5L166.7 393.6M196.8 366.8L202.4 364.7L207.2 363.5L212.1 362.9L217 363L221.9 363.7L226.5 365L231 366.9L236.2 369.7L242.8 374.4L249.1 379.7L255.8 386.2L277 407.7L287 417.2L299.5 428.6L312.5 439.5L326.2 449.8L340.4 459.4L354.3 467.6L367.7 474.3L379.7 479.2L391 483L414.2 488.8L437.7 495.2L447.5 497.4L457.4 499L466.3 499.4L475.3 499.1L485.1 497.6M523.1 482.6L531.5 477L539.4 470.9L547 464.3L554.9 456.6L561 449.9L567.5 442.3L589.2 415L597.5 405L606.3 395.4L614.2 387.7L619.6 383.1L624.5 379.3L629.5 375.7L633.9 373.1L638.3 370.7L642.9 368.8L647.6 367.3L652.4 366.3L657.2 365.9L662.1 366.1L667 366.8L671.9 368.1L676.7 369.7L682.3 372.1L687.7 374.9L693.8 378.4L701.2 383.5L708.4 389L738.1 414.6L758.8 430.7L778.1 446.3M810.8 470.4L818.6 475.1L825.7 479L832.9 482.6L840.3 485.9L847.9 488.9L855.5 491.6L863.3 493.9L871.1 495.9L879 497.6L886.9 498.8L894.9 499.6L901.9 500L909.8 500L916.7 499.6L923.6 498.9L930.5 497.8L937.3 496.3L944 494.4L950.6 492.1L956.2 489.9L962.5 486.9L968.7 483.6L974.7 479.9L979.6 476.5L988.2 469.5L996 461.7L1001.9 454.7L1015.5 437.2L1022 429.8M124.3 478.4L129.6 472.3L134.5 465.9L154.6 436.2L159.4 429.8L164.5 423.5M197.4 400.1L203.2 398.7L208.1 398.1L214 398.2L218.8 398.9L223.5 400.3L228.1 402.2L233.5 405L239.5 408.8L250.9 417.3L263 427.8L274.6 439L295.5 460.5L304.7 469.7L315.7 479.9L326.4 489L340.6 500L354.7 509.7L369.3 518.7L382.7 525.7L392.8 530L403.1 533.5L412.8 535.8L423.6 537.4L447.8 539.7L461.8 540.3L468.8 540.1L474.7 539.5L480.5 538.6L486.3 537.2M522.4 519.4L532.4 512.8L541.2 506.2L549.4 499L557.8 490.4L565.1 482.1L572.7 472.7L594.1 443.7L601.4 434.2L609.1 425.1L616.1 417.8L624.5 410.4L628.6 407.3L632 405.1L635.6 403.1L639.3 401.5L643 400.2L646.9 399.4L651.7 398.9L656.5 399.2L661.3 400L667 401.7L672.7 403.9L678.2 406.6L685.4 410.6L692.4 414.9L704.9 423.6L717.6 433.6L729.1 443.3L756.2 467L772.1 480.2M806.1 504.5L814.7 509.8L822.7 514.4L830.9 518.7L839.2 522.7L846.7 526L854.2 529L861.9 531.7L869.6 534L877.4 535.9L884.2 537.2L892 538.3L898.9 538.8L905.7 539L912.6 538.7L919.4 538.1L925.2 537.1L932 535.6L938.7 533.6L945.3 531.2L951.8 528.4L958.1 525.2L964.4 521.7L970.4 517.9L977 513.1L986.4 505.3L990.7 501.2L995.6 496.1L1003.3 487.1L1022.1 463.7M124.3 528.7L129.4 524L134.2 519.1L154 496.1L163.1 486.7M199.6 466.7L206.6 465.3L214.7 464.5L221.8 464.5L229.8 465.1L236.7 466.3L244.3 468.4L251.7 471.1L259.8 474.8L270.3 480.7L282 488.6L291 495.3L315.8 514.5L330.8 525.8L346 536.7L360 546.1L374.5 555.1L388.7 563.1L401.5 569.5L414.6 575.1L425 578.8L435.6 581.8L446.3 583.9L456 585.1L465.8 585.4L475.7 584.8L485.5 583.2L494.3 580.8M530.2 562.1L536.8 557.4L543.1 552.4L548.3 547.9L553.3 543.1L563.3 532.2L581.7 510.1L589.8 501L599.1 491.4L608.4 483.2L614 478.9L619 475.6L625 472.1L630.3 469.5L635.8 467.4L641.3 465.7L647 464.6L651.8 464.1L657.7 464L664.6 464.5L671.6 465.5L678.6 467.2L685.5 469.3L693.3 472.1L700.8 475.5L709 479.6L720.3 486.3L731.9 494.2L743.9 503.2L775.3 527.8L785.8 535.4L797.4 543.1M833.1 563.6L848.5 571.1L861.5 576.6L873.8 580.9L886.4 584.2L897.2 586L907.2 586.5L912.1 586.3L917.1 585.9L922 585.1L927.9 583.8L938.5 580.5L948.7 576.2L959.2 570.5L969.2 563.8L978.8 556.5L988.7 548L998.3 539.1L1022 516.2M124.3 604.4L134.9 600.6L140.6 599L145.4 597.9L151.3 597L156.2 596.5L161.2 596.4L166.3 596.5M207 599.4L210.8 598.7L215.3 597.3L219.7 595.4L224.9 592.6L233.2 587.1L252.2 573L257.3 569.6L262.5 566.7L267.9 564.5L272.5 563.2L277.2 562.6L282 562.7L285.9 563.4L289.8 564.4L294.7 566.2L299.4 568.3L306.6 572.2L320.5 580.9L329.1 585.9L358.1 601.2L396.8 622.3L408.5 628.2L418.6 632.9L426.9 636.4L434.5 639L441.2 640.7L449.1 641.8L457.1 642L466.1 641.4L475.1 640.1L485 637.9L495.6 634.8L505.9 631.2M542.3 614.5L558.5 606.2L568.6 601.8L579 598.5L584.8 597.1L589.7 596.3L598.6 595.4L607.7 595.4L615.8 596.1L634.2 598.6L643.1 599.2L650.9 598.9L654.7 598.3L658.5 597.4L664.8 595L668.2 593.1L671.6 590.9L677.2 586.4L691.3 573.8L695.4 570.7L699.6 568.1L703.9 566.1L709.4 564.5L714 563.8L719.8 563.7L727.7 564.5L736.6 566.5L745.5 569.5L755 573.6L762.3 577.2L770.2 581.5L795.7 596.8L805.2 602.2L842.8 621.5M879.8 639.4L885.5 640.6L891.4 641.2L897.4 641.4L904.4 641L911.4 640.1L919.4 638.7L927.3 637L936 634.6L951.2 629.6L968 623L983.6 616.2L1022.7 598" fill="none" stroke="#111" stroke-width="1.4" stroke-linejoin="round" stroke-linecap="round"/>
<text font-size="25" text-anchor="middle" fill="#000" transform="translate(168.8 351.3) rotate(-50)" y="8.9">1</text>
<text font-size="25" text-anchor="middle" fill="#000" transform="translate(173.8 370.9) rotate(-48)" y="8.9">5</text>
<text font-size="25" text-anchor="middle" fill="#000" transform="translate(182.5 381.3) rotate(-45)" y="8.9">10</text>
<text font-size="25" text-anchor="middle" fill="#000" transform="translate(182.5 413.9) rotate(-40)" y="8.9">15</text>
<text font-size="25" text-anchor="middle" fill="#000" transform="translate(182.0 477.7) rotate(-30)" y="8.9">20</text>
<text font-size="25" text-anchor="middle" fill="#000" transform="translate(186.5 599.3) rotate(5)" y="8.9">25</text>
<text font-size="25" text-anchor="middle" fill="#000" transform="translate(513.4 413.0) rotate(0)" y="8.9">1</text>
<text font-size="25" text-anchor="middle" fill="#000" transform="translate(506.7 457.0) rotate(-10)" y="8.9">5</text>
<text font-size="25" text-anchor="middle" fill="#000" transform="translate(505.0 491.3) rotate(-22)" y="8.9">10</text>
<text font-size="25" text-anchor="middle" fill="#000" transform="translate(503.4 526.3) rotate(-25)" y="8.9">15</text>
<text font-size="25" text-anchor="middle" fill="#000" transform="translate(512.4 572.3) rotate(-28)" y="8.9">20</text>
<text font-size="25" text-anchor="middle" fill="#000" transform="translate(525.0 624.7) rotate(-22)" y="8.9">25</text>
<text font-size="25" text-anchor="middle" fill="#000" transform="translate(839.4 398.3) rotate(15)" y="8.9">1</text>
<text font-size="25" text-anchor="middle" fill="#000" transform="translate(811.1 431.3) rotate(25)" y="8.9">5</text>
<text font-size="25" text-anchor="middle" fill="#000" transform="translate(792.9 460.2) rotate(30)" y="8.9">10</text>
<text font-size="25" text-anchor="middle" fill="#000" transform="translate(788.2 493.5) rotate(30)" y="8.9">15</text>
<text font-size="25" text-anchor="middle" fill="#000" transform="translate(815.5 552.9) rotate(28)" y="8.9">20</text>
<text font-size="25" text-anchor="middle" fill="#000" transform="translate(860.5 632.5) rotate(22)" y="8.9">25</text>
<path d="M124.3 292.5V693.5H1022.7" fill="none" stroke="#262626" stroke-width="1.3"/>
<text x="119.0" y="743.0" font-size="35.6" text-anchor="middle" fill="#262626">0</text>
<text x="208.8" y="743.0" font-size="35.6" text-anchor="middle" fill="#262626">3</text>
<text x="298.7" y="743.0" font-size="35.6" text-anchor="middle" fill="#262626">6</text>
<text x="388.5" y="743.0" font-size="35.6" text-anchor="middle" fill="#262626">9</text>
<text x="483.7" y="743.0" font-size="35.6" text-anchor="middle" fill="#262626">12</text>
<text x="573.5" y="743.0" font-size="35.6" text-anchor="middle" fill="#262626">15</text>
<text x="663.3" y="743.0" font-size="35.6" text-anchor="middle" fill="#262626">18</text>
<text x="753.2" y="743.0" font-size="35.6" text-anchor="middle" fill="#262626">21</text>
<text x="843.0" y="743.0" font-size="35.6" text-anchor="middle" fill="#262626">24</text>
<text x="932.9" y="743.0" font-size="35.6" text-anchor="middle" fill="#262626">27</text>
<text x="1022.7" y="743.0" font-size="35.6" text-anchor="middle" fill="#262626">30</text>
<text x="101.3" y="707.3" font-size="35.6" text-anchor="end" fill="#262626">0</text>
<text x="101.3" y="656.2" font-size="35.6" text-anchor="end" fill="#262626">3</text>
<text x="101.3" y="603.7" font-size="35.6" text-anchor="end" fill="#262626">6</text>
<text x="101.3" y="551.3" font-size="35.6" text-anchor="end" fill="#262626">9</text>
<text x="111.2" y="498.9" font-size="35.6" text-anchor="end" fill="#262626">12</text>
<text x="111.2" y="446.4" font-size="35.6" text-anchor="end" fill="#262626">15</text>
<text x="111.2" y="394.0" font-size="35.6" text-anchor="end" fill="#262626">18</text>
<text x="111.2" y="341.6" font-size="35.6" text-anchor="end" fill="#262626">21</text>
<text x="54.6" y="494.3" font-size="39.4" text-anchor="middle" transform="rotate(-90 54.6 494.3)" fill="#262626">Distance [km]</text>
<rect x="1062.0" y="292.5" width="40.7" height="401.0" fill="none" stroke="#262626" stroke-width="1.3"/>
<text x="1114.0" y="706.1" font-size="32.5" fill="#262626">0</text>
<text x="1114.0" y="572.4" font-size="32.5" fill="#262626">10</text>
<text x="1114.0" y="438.8" font-size="32.5" fill="#262626">20</text>
<text x="1114.0" y="305.1" font-size="32.5" fill="#262626">30</text>
<path d="M1102.7 559.8h-4.0M1102.7 426.2h-4.0" stroke="#262626" stroke-width="1.3" fill="none"/>
<text x="1191.0" y="493.0" font-size="30.4" text-anchor="middle" transform="rotate(-90 1191.0 493.0)" fill="#262626">Subtidal salinity [salinity]</text>
<path d="M214.1 793.0V1194.0M304.0 793.0V1194.0M393.8 793.0V1194.0M483.7 793.0V1194.0M573.5 793.0V1194.0M663.3 793.0V1194.0M753.2 793.0V1194.0M843.0 793.0V1194.0M932.9 793.0V1194.0M124.3 1194.0H1022.7M124.3 1142.9H1022.7M124.3 1090.4H1022.7M124.3 1038.0H1022.7M124.3 985.6H1022.7M124.3 933.1H1022.7M124.3 880.7H1022.7M124.3 828.3H1022.7" stroke="#262626" stroke-opacity="0.15" stroke-width="1" fill="none"/>
<path d="M124.3 1194.0v-9.5M214.1 1194.0v-9.5M304.0 1194.0v-9.5M393.8 1194.0v-9.5M483.7 1194.0v-9.5M573.5 1194.0v-9.5M663.3 1194.0v-9.5M753.2 1194.0v-9.5M843.0 1194.0v-9.5M932.9 1194.0v-9.5M1022.7 1194.0v-9.5M124.3 1194.0h9.5M124.3 1142.9h9.5M124.3 1090.4h9.5M124.3 1038.0h9.5M124.3 985.6h9.5M124.3 933.1h9.5M124.3 880.7h9.5M124.3 828.3h9.5" stroke="#262626" stroke-width="1.3" fill="none"/>
<path d="M124.3 890.1L132.8 883L141.4 874.6M160.7 853.8L167.6 847.2L174.1 841.8L181.2 836.9L188.7 832.6L196.6 829L204.8 826.2L213.1 824.3L220.3 823.5L227.4 823.6L234.4 824.5L241.1 826.2L248.7 829.3L255.8 833.4L261.5 837.7L266.6 842.6L271.2 848.2L273.9 852.3L282.3 865.9L296.1 885.4L299.1 890.4L301.7 895.7L304.3 902.3L306.8 910.4L312.3 931.9L316.4 946L317.6 951.7L317.9 955.1L317.8 958.5L317.4 961.8L316.6 965.1L314.7 970.6L309.2 984L307.1 989.6L304.7 997.7L303 1005.9L301.7 1014.2L300.8 1023.8L300.4 1033.5L300.3 1045.6M301.5 1074.6L302.8 1089L304.4 1103.3L306.5 1117.5L309.1 1132.9L312.2 1148.2L315.7 1163.5L319.6 1178.7L323.8 1193.8M124.3 906.9L132.7 899.9M153.4 878.8L162.4 869.2L169.4 862.2L176.8 855.5L183.7 850.2L190.9 845.5L197.3 842.2L203.9 839.7L210.6 838L217.6 837.4L224.6 837.9L231.5 839.4L238.2 841.8L244.6 845.2L250.5 849.3L255.7 854.2L260.2 859.8L264.2 865.9L268.8 874.5L272.9 883.4L277 893.6L280.5 903.9L283.5 914.3L285.5 923.6L287.1 932.9L288.1 944.7L288.1 956.6L287.2 968.6L284.2 997.6L283.7 1006L283.5 1015.7L283.6 1026.5L284.2 1037.3L285.3 1050.5L286.8 1064.9M290.3 1094.8L294.8 1135.5L297.3 1155.8L300.5 1176L304.2 1193.8M124.3 926.6L162.8 885.8L173.5 874.7M210 850.1L214.3 849.4L218.5 849.5L221.7 849.9L225.9 851.2L230.1 853.1L234.1 855.6L237.9 858.6L241.4 862L245.4 866.7L249 871.7L252.3 876.9L255.2 882.3L257.9 887.8L260.6 894.5L263 901.4L264.9 908.3L266.7 916.5L268 924.7L269 934.2L269.6 943.7L269.9 960.5L269.2 995.5L269.2 1010L269.8 1029.2L271 1048.4L272.8 1068.8L275.2 1090.3L278.4 1114.1L283 1145.1M289.1 1185.5L290.3 1193.8M124.3 948.3L129 942L135.5 934.5L154.8 914.9L161.3 907.9L166.2 902L172 894.6M205.9 860.5L209.8 859.6L212.7 859.5L215.7 860L218.7 860.9L221.7 862.3L224.6 864.2L228.3 867.3L230.7 870L232.9 873L235.5 877.2L238.3 882.7L241.4 889.4L246 902L249.6 914.8L251 921.9L252.4 930.2L253.4 938.5L254.3 948.1L255 966.1L255.7 1009.6L256.5 1022.8L257.7 1037.2L261 1063.5L270.4 1124.3L274 1151.8M276.5 1190.2L276.5 1193.8M124.7 1011.6L125.2 1006.6L126.3 1000.5L127.5 995.7L129.4 990L131.7 984.5L134.3 979.2L137.2 974L141 968L147.2 959.2L162.3 939.6L169.2 930L175 920.8L184.1 904.4L186.8 900.2L189 897.3L193.3 892.8L196.2 890.5L198.3 889.2L201.5 887.7L203.5 887.2L205.4 887.1L207 887.6L208.9 889.4L210.4 892.2L216.3 910.1L227.3 937.1L231.5 949.5L234.9 962.2L237.4 973.9L239.9 988.1L246.8 1035.9L255.9 1093M261.2 1133.5L262.7 1149.1L263.7 1164.8L264.2 1179.3L264.2 1193.9M161.5 1194L158.3 1185.8L155.5 1176.4L153.7 1168.1L152.4 1158.7L151.7 1149.3L151.7 1139.8L152.4 1129.2L153.6 1118.5L155.9 1104.3L159.4 1087.5L163.1 1071.9L166.5 1060.1L170 1051L174.2 1042.3L178.8 1035.2L184.2 1028.6L188.6 1024.3L193.4 1020.6L196.4 1019L198.4 1018.2L202.4 1017.3L204.4 1017.3L206.4 1017.6L208.4 1018.2L211.2 1019.6L214.7 1022.2L218.6 1026.6L221.8 1032L224.4 1037.9L227.4 1046.4L229.8 1054.8L233.6 1071.3L240.2 1107.7M246.5 1152L246.9 1162.8L246.6 1173.6L245.4 1184.3L243.4 1193.8M412.8 1193.3L410.4 1181L408.4 1173.5L405.4 1166.1L403.5 1162.7L402 1160.7L400.3 1159.2L399.3 1158.7L397.3 1158.3L393.9 1159L386.6 1162.4L383.1 1163.7L379.9 1163.9L377.9 1163.5L376.1 1162.7L374.4 1161.7L372 1159.6L368.7 1155L365.5 1148.6L362.7 1140.7L361.1 1134.8L359.9 1128.8L353.3 1090.4L340.5 1024.7L337 1004.5L334.4 986.3L333.8 980.2L333.7 975.4L333.9 970.7L334.5 967.3L335.3 963.9L336.6 960.8L340.8 953.7M354 930L355.8 928.5L357.8 927.3L359.8 926.5L361.9 926.1L364 926.2L365 926.5L367.8 928.2L370.3 930.9L373.1 935.1L375.4 939.4L381 951.4L382.8 954.5L384.9 957.6L388.2 961.3L391 963.8L394.1 965.8L397.4 967.3L400.8 968.1L405.6 968.2L410.5 967.3L423.9 963.6L427.4 963.1L430.7 963.1L435 963.7L439.3 964.9L451.2 969.8L455.6 971.3L460 971.9L462.2 971.7L464.3 971.2L468.4 969.3L472.4 966.6L489.8 951.5L512.1 933.6L522.2 925.3L541.8 907.9L578 874.1L592.3 861.1L606.8 848.5L617.2 840.5M643.9 828L651.2 826.7L660 826.2L668.7 826.5L677 827.8L685 830L691.4 832.6L698.5 836.6L704.2 840.8L710.3 846.6L715.9 853.1L722.6 862L729.9 873.2L735.9 883.4L741.4 893.8L746.3 904.6L751.4 916.8L755.5 928.3L758.2 937.8L759.8 946.2L760.3 954.5L759.9 960.4L758.7 967.4L751.9 991.6L748.4 1006.8L746.2 1019.8L744.9 1031.7L744.4 1045.9L744.9 1060.3L746.3 1077.1L749 1098.7M752.5 1126.2L755.1 1151.2L757.4 1166.6L758.9 1173.6L760.7 1180.6L763 1187.5L765.3 1193.3M447.3 1193.3L446 1160.8L445.6 1141.6L445.9 1123.6L446.9 1108.1L448.7 1092.6L451.6 1077.3L456.7 1056.2L461 1042.3L465.5 1031.2L471.4 1019.5L478.8 1007.4L487 995.7L495.9 984.4L506.9 971.7L519.2 958.5L536.9 940.4M558.1 918.8L570.3 905.6L592.1 880.2L602.7 868.7L608.8 862.8L615.2 857.2L622.1 851.9L628.3 847.8L634.7 844.3L641.4 841.6L648.1 839.7L653.9 839L659.6 839.1L666.4 840.3L672.1 842.1L678.6 845.2L685.7 849.8L692.1 855.3L695.5 858.8L698.6 862.4L704.2 870.3L710.3 880.8L716.2 893L721.9 906.5L725.7 917.9L727.5 924.8L728.8 931.8L729.6 938.9L729.8 946L729.4 957.9L727 989.2L726.6 1001.2L726.5 1013.2M727.4 1038.3L729 1059.8L731.6 1083.7L734.7 1107.5L742.5 1163.5L746.1 1193.4M477.8 1193.3L475.8 1177.7L474.6 1162.2L474.3 1145.4L474.8 1127.4L476.4 1107.1L479.1 1084.3L481.8 1067.7L485.1 1053.7L487.9 1044.5L491.4 1035.6L496 1025.8L501.3 1016.3L509.6 1003L519.7 988.1L530 973.7L542.2 957.6M568.8 923.9L604.1 879.7L611.3 871.1L616.3 865.7L620.7 861.7L625.3 858L630.1 854.8L636.3 851.8L642.8 849.7L649.5 848.6L655.2 848.6L660.8 849.4L667.4 851.4L673.8 854.4L679.7 858.3L684.3 862.2L689.3 867.5L693.6 873.3L697.3 879.6L700.5 886.3L703.5 894.5L705.9 902.8L707.8 911.3L709.6 923.2L710.7 937.6L711.1 950.8L711.1 979.4L711.3 995L712.2 1014.1L713.7 1035.6M717.4 1073.9L727.9 1160L731.5 1193.3M528.1 1193.2L526.5 1185.2L525.6 1176.8L525.1 1168.3L524.2 1140.3L523.2 1128.5L520.2 1098L519.6 1088.4L519.3 1078.8L519.4 1064.1L520.4 1049.5L522.2 1036.1L524.8 1023L528.4 1010.3L532.6 999.3L538.1 987.6L545 975.2L551.4 965.3L559.6 953.5L597.1 903.6M627.6 871.1L632.5 867.9L637.7 865L642.1 863L646.5 861.5L651 860.6L654.3 860.5L657.5 860.8L661.7 862.1L665.6 864.2L669.3 867L672.8 870.3L675.9 874L678.7 878.1L681.7 883.5L684.2 889.2L686.3 895L689 904.6L691.4 915.3L693.4 926L695 937.8L697 959.1L699.5 1001L700.8 1017.8L702.6 1032.1L707.9 1064.1L710.2 1080.7L712.6 1103.4L715.3 1137.1M719.4 1181.4L721 1193.2M558.4 1193.4L557.7 1187.3L557.2 1180L557.1 1172.7L557.2 1164.3L558.1 1151.2L560.9 1122.7L561.8 1110.8L562.3 1095.1L562.3 1061L562.5 1046.5L563.6 1030.9L565.7 1016.8L568.2 1005.3L571.8 992.7L575.8 981.6L580.9 969.4L586.8 957.5L593.8 944.6L601.6 931.9L610.4 918.8M644.3 889.9L646.3 891.6L648.1 894.1L653 903.1L659.4 916.9L664.9 931.3L669.5 945L673.8 960.1L678 976.6L682.2 995.7L687.7 1023.1L692.4 1049.1L696.4 1073.8L699.9 1098.6L702.7 1122.3L705 1146.2L706.8 1170.3L708 1193.6M598.1 1193.3L595.3 1185.1L593.2 1176.9L591.6 1167.3L590.8 1157.8L590.5 1148.2L590.9 1137.4L592 1125.3L593.8 1112.1L596.4 1096.6L600 1077.8L602.5 1067.4L605 1059.4L608.7 1050.4L613 1042.7L618.3 1035.3L623.6 1029.4L626.4 1026.9L629.3 1024.7L634.3 1021.8L637.3 1020.7L639.3 1020.3L643.3 1020.2L647.1 1021.3L649 1022.1L651.8 1023.9L656.1 1027.7L660.8 1033.5L664.3 1038.9L667.7 1045.6L670.4 1052.5L672.5 1059.5L675 1071.4L678.6 1094.1L681.5 1110.9M687.2 1151.4L687.7 1162.1L687.4 1172.9L686.2 1183.8L684.3 1193.4M851.8 1193.1L850.6 1189.4L847.8 1178.3L846.1 1173.2L843.5 1167.4L842.1 1165.4L840.6 1163.8L839 1162.5L837.1 1161.5L833.9 1160.9L830.2 1161.3L822.4 1162.8L820 1162.9L817.8 1162.7L815.9 1161.8L814.2 1160.4L811.5 1156.5L808.7 1151L805.8 1144.2L803.3 1137.4L801.3 1130.5L799.4 1122.4L797.8 1114.2L795.1 1094.1M791.8 1066.6L790.2 1057.1L788.2 1047.6L780.1 1017L777.4 1005.3L776.1 998.3L775.4 992.5L774.9 982L775.3 975L776.1 969.2L777.9 962.2L779.9 956.4L782.6 950.7L785.8 945.4L789.6 940.5L794 936.4L797.8 933.6L802 931.6L805 931L806.9 931.2L807.8 931.6L809.4 932.8L810.9 934.6L820.9 949.9L824.8 954.9L828.1 958.4L832.6 962.2L836.4 964.5L840.6 966.1L844.9 967L848.4 967.1L853 966.7L857.7 965.7L862.4 964L866.9 961.7L870.2 959.7L880.4 951.6L884.4 949L886.3 948L888.3 947.4L891.3 947.2L893.4 947.6L895.3 948.5L896.7 949.8L897.5 951.4L897.3 953.3L895.8 958L895.2 961.9L895.3 965.8L896.2 969.1L897.4 970.7L898.1 971.3L899.9 972.1L902 972.5L905.4 972.3L909.2 971.5L912.8 970.1L916.3 968.5L920.5 965.9L927.1 960.7L937.3 950.5M957.5 931.8L969.5 921.8L1003.4 894.6L1013.4 886.1L1022.2 878M887.7 1193.4L887.4 1178.9L886 1145.1L885.8 1130.7L886 1122.3L886.5 1113.9L887.2 1106.7L888.5 1098.3L890.8 1086.4L893.7 1074.7L897.7 1060.7L902.1 1047L905 1039.2L907.9 1032.8L912.3 1024.4L917 1016.1M933.7 991.1L943.2 978.5L954.6 964.3L968.8 947.7L981.5 933.4L992.2 922.1L1002.5 912L1012.4 903.1L1022.7 894.5M921 1193.4L919.1 1181.4L917.8 1169.4L917.1 1157.3L917 1144.1L917.5 1130.9L918.7 1117.7L920.5 1104.5L922.9 1090.2L926.3 1073.7L929.6 1059.6L932.8 1048L936.6 1036.7L941 1025.6L946 1014.8L952.1 1003.1L959.3 990.5M983.9 953.3L993.5 941L1002.9 930L1012.9 919.5L1022.6 910.4M969.6 1193.2L968.1 1170.6L963.1 1116.4L962.3 1103.1L961.8 1091L961.8 1076.6L962.4 1062.2L963.8 1049.1L965.9 1036.1L969.5 1021L974.3 1006.1L980.1 991.6L986.5 978.6L994.4 965L1002.6 953L1007.7 946.3L1012.4 940.7L1022.4 930M1005.8 1193.3L1005.5 1189.7M1003.3 1151.3L1003 1124.7L1003.5 1098.1L1005 1067.9L1007.1 1043.8L1009.6 1024.7L1013 1007L1017.2 990.7L1019.7 982.6L1022.6 974.6" fill="none" stroke="#111" stroke-width="1.4" stroke-linejoin="round" stroke-linecap="round"/>
<text font-size="25" text-anchor="middle" fill="#000" transform="translate(152.7 866.0) rotate(-50)" y="8.9">1</text>
<text font-size="25" text-anchor="middle" fill="#000" transform="translate(143.4 889.4) rotate(-45)" y="8.9">5</text>
<text font-size="25" text-anchor="middle" fill="#000" transform="translate(192.0 858.0) rotate(-40)" y="8.9">10</text>
<text font-size="25" text-anchor="middle" fill="#000" transform="translate(184.0 878.0) rotate(-40)" y="8.9">15</text>
<text font-size="25" text-anchor="middle" fill="#000" transform="translate(299.3 1060.1) rotate(80)" y="8.9">1</text>
<text font-size="25" text-anchor="middle" fill="#000" transform="translate(286.6 1079.5) rotate(82)" y="8.9">5</text>
<text font-size="25" text-anchor="middle" fill="#000" transform="translate(258.0 1113.7) rotate(78)" y="8.9">20</text>
<text font-size="25" text-anchor="middle" fill="#000" transform="translate(241.5 1132.3) rotate(78)" y="8.9">25</text>
<text font-size="25" text-anchor="middle" fill="#000" transform="translate(287.5 1165.5) rotate(80)" y="8.9">10</text>
<text font-size="25" text-anchor="middle" fill="#000" transform="translate(272.8 1174.5) rotate(80)" y="8.9">15</text>
<text font-size="25" text-anchor="middle" fill="#000" transform="translate(349.0 942.6) rotate(-60)" y="8.9">1</text>
<text font-size="25" text-anchor="middle" fill="#000" transform="translate(630.8 834.9) rotate(-20)" y="8.9">1</text>
<text font-size="25" text-anchor="middle" fill="#000" transform="translate(544.6 931.2) rotate(-45)" y="8.9">5</text>
<text font-size="25" text-anchor="middle" fill="#000" transform="translate(557.4 939.4) rotate(-45)" y="8.9">10</text>
<text font-size="25" text-anchor="middle" fill="#000" transform="translate(616.1 888.1) rotate(-48)" y="8.9">15</text>
<text font-size="25" text-anchor="middle" fill="#000" transform="translate(634.5 903.7) rotate(-45)" y="8.9">20</text>
<text font-size="25" text-anchor="middle" fill="#000" transform="translate(724.6 1024.9) rotate(85)" y="8.9">5</text>
<text font-size="25" text-anchor="middle" fill="#000" transform="translate(714.5 1054.2) rotate(82)" y="8.9">10</text>
<text font-size="25" text-anchor="middle" fill="#000" transform="translate(749.4 1112.0) rotate(78)" y="8.9">1</text>
<text font-size="25" text-anchor="middle" fill="#000" transform="translate(683.3 1132.2) rotate(78)" y="8.9">25</text>
<text font-size="25" text-anchor="middle" fill="#000" transform="translate(717.2 1162.5) rotate(80)" y="8.9">15</text>
<text font-size="25" text-anchor="middle" fill="#000" transform="translate(791.6 1080.8) rotate(75)" y="8.9">1</text>
<text font-size="25" text-anchor="middle" fill="#000" transform="translate(947.7 942.0) rotate(-40)" y="8.9">1</text>
<text font-size="25" text-anchor="middle" fill="#000" transform="translate(927.6 1004.4) rotate(-50)" y="8.9">5</text>
<text font-size="25" text-anchor="middle" fill="#000" transform="translate(972.6 970.7) rotate(-50)" y="8.9">10</text>
<text font-size="25" text-anchor="middle" fill="#000" transform="translate(1003.7 1173.2) rotate(-90)" y="8.9">20</text>
<path d="M124.3 793.0V1194.0H1022.7" fill="none" stroke="#262626" stroke-width="1.3"/>
<text x="119.0" y="1243.5" font-size="35.6" text-anchor="middle" fill="#262626">0</text>
<text x="208.8" y="1243.5" font-size="35.6" text-anchor="middle" fill="#262626">3</text>
<text x="298.7" y="1243.5" font-size="35.6" text-anchor="middle" fill="#262626">6</text>
<text x="388.5" y="1243.5" font-size="35.6" text-anchor="middle" fill="#262626">9</text>
<text x="483.7" y="1243.5" font-size="35.6" text-anchor="middle" fill="#262626">12</text>
<text x="573.5" y="1243.5" font-size="35.6" text-anchor="middle" fill="#262626">15</text>
<text x="663.3" y="1243.5" font-size="35.6" text-anchor="middle" fill="#262626">18</text>
<text x="753.2" y="1243.5" font-size="35.6" text-anchor="middle" fill="#262626">21</text>
<text x="843.0" y="1243.5" font-size="35.6" text-anchor="middle" fill="#262626">24</text>
<text x="932.9" y="1243.5" font-size="35.6" text-anchor="middle" fill="#262626">27</text>
<text x="1022.7" y="1243.5" font-size="35.6" text-anchor="middle" fill="#262626">30</text>
<text x="101.3" y="1207.8" font-size="35.6" text-anchor="end" fill="#262626">0</text>
<text x="101.3" y="1156.7" font-size="35.6" text-anchor="end" fill="#262626">3</text>
<text x="101.3" y="1104.2" font-size="35.6" text-anchor="end" fill="#262626">6</text>
<text x="101.3" y="1051.8" font-size="35.6" text-anchor="end" fill="#262626">9</text>
<text x="111.2" y="999.4" font-size="35.6" text-anchor="end" fill="#262626">12</text>
<text x="111.2" y="946.9" font-size="35.6" text-anchor="end" fill="#262626">15</text>
<text x="111.2" y="894.5" font-size="35.6" text-anchor="end" fill="#262626">18</text>
<text x="111.2" y="842.1" font-size="35.6" text-anchor="end" fill="#262626">21</text>
<text x="54.6" y="994.8" font-size="39.4" text-anchor="middle" transform="rotate(-90 54.6 994.8)" fill="#262626">Distance [km]</text>
<rect x="1062.0" y="793.0" width="40.7" height="401.0" fill="none" stroke="#262626" stroke-width="1.3"/>
<text x="1114.0" y="1206.6" font-size="32.5" fill="#262626">0</text>
<text x="1114.0" y="1126.4" font-size="32.5" fill="#262626">5</text>
<text x="1114.0" y="1046.2" font-size="32.5" fill="#262626">10</text>
<text x="1114.0" y="966.0" font-size="32.5" fill="#262626">15</text>
<text x="1114.0" y="885.8" font-size="32.5" fill="#262626">20</text>
<text x="1114.0" y="805.6" font-size="32.5" fill="#262626">25</text>
<path d="M1102.7 1113.8h-4.0M1102.7 1033.6h-4.0M1102.7 953.4h-4.0M1102.7 873.2h-4.0" stroke="#262626" stroke-width="1.3" fill="none"/>
<text x="1191.0" y="993.5" font-size="30.4" text-anchor="middle" transform="rotate(-90 1191.0 993.5)" fill="#262626">Vertical salinity diff.&#160; [salinity]</text>
<text x="573.1" y="1293.3" font-size="39.4" text-anchor="middle" fill="#262626">Time [day]</text>
<text x="-0.5" y="24.6" font-size="29.5" font-weight="bold" fill="#000">A</text>
<text x="-0.5" y="276.3" font-size="29.5" font-weight="bold" fill="#000">B</text>
<text x="-0.5" y="778.6" font-size="29.5" font-weight="bold" fill="#000">C</text>
</svg>
</body></html>
